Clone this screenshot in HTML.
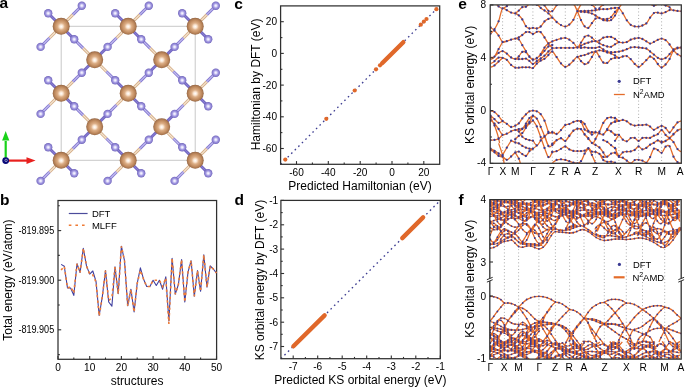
<!DOCTYPE html>
<html><head><meta charset="utf-8"><style>
html,body{margin:0;padding:0;background:#fff;}
body{width:685px;height:387px;overflow:hidden;font-family:"Liberation Sans",sans-serif;}
svg{display:block;will-change:transform;}
</style></head><body>
<svg width="685" height="387" viewBox="0 0 685 387" font-family="Liberation Sans, sans-serif">
<rect width="685" height="387" fill="#fff"/>
<defs>
<radialGradient id="gL" cx="0.5" cy="0.5" r="0.5" fx="0.5" fy="0.52">
<stop offset="0" stop-color="#ffffff"/><stop offset="0.2" stop-color="#fae6d3"/><stop offset="0.42" stop-color="#dcae86"/><stop offset="0.7" stop-color="#c59064"/><stop offset="0.9" stop-color="#ab7850"/><stop offset="1" stop-color="#8e6040"/>
</radialGradient>
<radialGradient id="gS" cx="0.5" cy="0.5" r="0.5" fx="0.5" fy="0.5">
<stop offset="0" stop-color="#ffffff"/><stop offset="0.28" stop-color="#dcd8f8"/><stop offset="0.55" stop-color="#a49be2"/><stop offset="0.85" stop-color="#8479cc"/><stop offset="1" stop-color="#6d62b8"/>
</radialGradient>
</defs>
<text x="-0.5" y="8.4" font-size="15.5" text-anchor="start" font-weight="bold" fill="#000">a</text>
<text x="0.1" y="205" font-size="15.5" text-anchor="start" font-weight="bold" fill="#000">b</text>
<text x="234.2" y="8.8" font-size="15.5" text-anchor="start" font-weight="bold" fill="#000">c</text>
<text x="234.6" y="205" font-size="15.5" text-anchor="start" font-weight="bold" fill="#000">d</text>
<text x="458.2" y="8.8" font-size="15.5" text-anchor="start" font-weight="bold" fill="#000">e</text>
<text x="458.4" y="205" font-size="15.5" text-anchor="start" font-weight="bold" fill="#000">f</text>
<rect x="61.2" y="26.3" width="134" height="134" fill="none" stroke="#c8c8c8" stroke-width="1"/>
<line x1="61.2" y1="26.3" x2="48.2" y2="13.3" stroke="#7367c2" stroke-width="3"/>
<line x1="61.2" y1="26.3" x2="48.2" y2="13.3" stroke="#8c82d6" stroke-width="1"/>
<line x1="61.2" y1="26.3" x2="72.9" y2="14.6" stroke="#d5ae88" stroke-width="3"/>
<line x1="61.2" y1="26.3" x2="72.9" y2="14.6" stroke="#f5e6d2" stroke-width="1.1"/>
<line x1="72.9" y1="14.6" x2="81.8" y2="5.7" stroke="#8579d0" stroke-width="3"/>
<line x1="72.9" y1="14.6" x2="81.8" y2="5.7" stroke="#c4bef0" stroke-width="1.1"/>
<line x1="61.2" y1="26.3" x2="49.5" y2="38" stroke="#d5ae88" stroke-width="3"/>
<line x1="61.2" y1="26.3" x2="49.5" y2="38" stroke="#f5e6d2" stroke-width="1.1"/>
<line x1="49.5" y1="38" x2="40.6" y2="46.9" stroke="#8579d0" stroke-width="3"/>
<line x1="49.5" y1="38" x2="40.6" y2="46.9" stroke="#c4bef0" stroke-width="1.1"/>
<line x1="61.2" y1="26.3" x2="74.2" y2="39.3" stroke="#7367c2" stroke-width="3"/>
<line x1="61.2" y1="26.3" x2="74.2" y2="39.3" stroke="#8c82d6" stroke-width="1"/>
<line x1="94.7" y1="59.8" x2="83" y2="48.1" stroke="#d5ae88" stroke-width="3"/>
<line x1="94.7" y1="59.8" x2="83" y2="48.1" stroke="#f5e6d2" stroke-width="1.1"/>
<line x1="83" y1="48.1" x2="74.2" y2="39.3" stroke="#8579d0" stroke-width="3"/>
<line x1="83" y1="48.1" x2="74.2" y2="39.3" stroke="#c4bef0" stroke-width="1.1"/>
<line x1="61.2" y1="93.3" x2="48.2" y2="80.3" stroke="#7367c2" stroke-width="3"/>
<line x1="61.2" y1="93.3" x2="48.2" y2="80.3" stroke="#8c82d6" stroke-width="1"/>
<line x1="61.2" y1="93.3" x2="72.9" y2="81.6" stroke="#d5ae88" stroke-width="3"/>
<line x1="61.2" y1="93.3" x2="72.9" y2="81.6" stroke="#f5e6d2" stroke-width="1.1"/>
<line x1="72.9" y1="81.6" x2="81.8" y2="72.7" stroke="#8579d0" stroke-width="3"/>
<line x1="72.9" y1="81.6" x2="81.8" y2="72.7" stroke="#c4bef0" stroke-width="1.1"/>
<line x1="94.7" y1="59.8" x2="81.8" y2="72.7" stroke="#7367c2" stroke-width="3"/>
<line x1="94.7" y1="59.8" x2="81.8" y2="72.7" stroke="#8c82d6" stroke-width="1"/>
<line x1="61.2" y1="93.3" x2="49.5" y2="105" stroke="#d5ae88" stroke-width="3"/>
<line x1="61.2" y1="93.3" x2="49.5" y2="105" stroke="#f5e6d2" stroke-width="1.1"/>
<line x1="49.5" y1="105" x2="40.6" y2="113.9" stroke="#8579d0" stroke-width="3"/>
<line x1="49.5" y1="105" x2="40.6" y2="113.9" stroke="#c4bef0" stroke-width="1.1"/>
<line x1="61.2" y1="93.3" x2="74.2" y2="106.3" stroke="#7367c2" stroke-width="3"/>
<line x1="61.2" y1="93.3" x2="74.2" y2="106.3" stroke="#8c82d6" stroke-width="1"/>
<line x1="94.7" y1="126.8" x2="83" y2="115.1" stroke="#d5ae88" stroke-width="3"/>
<line x1="94.7" y1="126.8" x2="83" y2="115.1" stroke="#f5e6d2" stroke-width="1.1"/>
<line x1="83" y1="115.1" x2="74.2" y2="106.3" stroke="#8579d0" stroke-width="3"/>
<line x1="83" y1="115.1" x2="74.2" y2="106.3" stroke="#c4bef0" stroke-width="1.1"/>
<line x1="61.2" y1="160.3" x2="48.2" y2="147.3" stroke="#7367c2" stroke-width="3"/>
<line x1="61.2" y1="160.3" x2="48.2" y2="147.3" stroke="#8c82d6" stroke-width="1"/>
<line x1="61.2" y1="160.3" x2="72.9" y2="148.6" stroke="#d5ae88" stroke-width="3"/>
<line x1="61.2" y1="160.3" x2="72.9" y2="148.6" stroke="#f5e6d2" stroke-width="1.1"/>
<line x1="72.9" y1="148.6" x2="81.8" y2="139.7" stroke="#8579d0" stroke-width="3"/>
<line x1="72.9" y1="148.6" x2="81.8" y2="139.7" stroke="#c4bef0" stroke-width="1.1"/>
<line x1="94.7" y1="126.8" x2="81.8" y2="139.7" stroke="#7367c2" stroke-width="3"/>
<line x1="94.7" y1="126.8" x2="81.8" y2="139.7" stroke="#8c82d6" stroke-width="1"/>
<line x1="61.2" y1="160.3" x2="49.5" y2="172" stroke="#d5ae88" stroke-width="3"/>
<line x1="61.2" y1="160.3" x2="49.5" y2="172" stroke="#f5e6d2" stroke-width="1.1"/>
<line x1="49.5" y1="172" x2="40.6" y2="180.9" stroke="#8579d0" stroke-width="3"/>
<line x1="49.5" y1="172" x2="40.6" y2="180.9" stroke="#c4bef0" stroke-width="1.1"/>
<line x1="61.2" y1="160.3" x2="74.2" y2="173.3" stroke="#7367c2" stroke-width="3"/>
<line x1="61.2" y1="160.3" x2="74.2" y2="173.3" stroke="#8c82d6" stroke-width="1"/>
<line x1="128.2" y1="26.3" x2="115.2" y2="13.3" stroke="#7367c2" stroke-width="3"/>
<line x1="128.2" y1="26.3" x2="115.2" y2="13.3" stroke="#8c82d6" stroke-width="1"/>
<line x1="128.2" y1="26.3" x2="139.9" y2="14.6" stroke="#d5ae88" stroke-width="3"/>
<line x1="128.2" y1="26.3" x2="139.9" y2="14.6" stroke="#f5e6d2" stroke-width="1.1"/>
<line x1="139.9" y1="14.6" x2="148.8" y2="5.7" stroke="#8579d0" stroke-width="3"/>
<line x1="139.9" y1="14.6" x2="148.8" y2="5.7" stroke="#c4bef0" stroke-width="1.1"/>
<line x1="128.2" y1="26.3" x2="116.5" y2="38" stroke="#d5ae88" stroke-width="3"/>
<line x1="128.2" y1="26.3" x2="116.5" y2="38" stroke="#f5e6d2" stroke-width="1.1"/>
<line x1="116.5" y1="38" x2="107.6" y2="46.9" stroke="#8579d0" stroke-width="3"/>
<line x1="116.5" y1="38" x2="107.6" y2="46.9" stroke="#c4bef0" stroke-width="1.1"/>
<line x1="94.7" y1="59.8" x2="107.6" y2="46.9" stroke="#7367c2" stroke-width="3"/>
<line x1="94.7" y1="59.8" x2="107.6" y2="46.9" stroke="#8c82d6" stroke-width="1"/>
<line x1="128.2" y1="26.3" x2="141.2" y2="39.3" stroke="#7367c2" stroke-width="3"/>
<line x1="128.2" y1="26.3" x2="141.2" y2="39.3" stroke="#8c82d6" stroke-width="1"/>
<line x1="161.7" y1="59.8" x2="150" y2="48.1" stroke="#d5ae88" stroke-width="3"/>
<line x1="161.7" y1="59.8" x2="150" y2="48.1" stroke="#f5e6d2" stroke-width="1.1"/>
<line x1="150" y1="48.1" x2="141.2" y2="39.3" stroke="#8579d0" stroke-width="3"/>
<line x1="150" y1="48.1" x2="141.2" y2="39.3" stroke="#c4bef0" stroke-width="1.1"/>
<line x1="128.2" y1="93.3" x2="115.2" y2="80.3" stroke="#7367c2" stroke-width="3"/>
<line x1="128.2" y1="93.3" x2="115.2" y2="80.3" stroke="#8c82d6" stroke-width="1"/>
<line x1="94.7" y1="59.8" x2="106.4" y2="71.5" stroke="#d5ae88" stroke-width="3"/>
<line x1="94.7" y1="59.8" x2="106.4" y2="71.5" stroke="#f5e6d2" stroke-width="1.1"/>
<line x1="106.4" y1="71.5" x2="115.2" y2="80.3" stroke="#8579d0" stroke-width="3"/>
<line x1="106.4" y1="71.5" x2="115.2" y2="80.3" stroke="#c4bef0" stroke-width="1.1"/>
<line x1="128.2" y1="93.3" x2="139.9" y2="81.6" stroke="#d5ae88" stroke-width="3"/>
<line x1="128.2" y1="93.3" x2="139.9" y2="81.6" stroke="#f5e6d2" stroke-width="1.1"/>
<line x1="139.9" y1="81.6" x2="148.8" y2="72.7" stroke="#8579d0" stroke-width="3"/>
<line x1="139.9" y1="81.6" x2="148.8" y2="72.7" stroke="#c4bef0" stroke-width="1.1"/>
<line x1="161.7" y1="59.8" x2="148.8" y2="72.7" stroke="#7367c2" stroke-width="3"/>
<line x1="161.7" y1="59.8" x2="148.8" y2="72.7" stroke="#8c82d6" stroke-width="1"/>
<line x1="128.2" y1="93.3" x2="116.5" y2="105" stroke="#d5ae88" stroke-width="3"/>
<line x1="128.2" y1="93.3" x2="116.5" y2="105" stroke="#f5e6d2" stroke-width="1.1"/>
<line x1="116.5" y1="105" x2="107.6" y2="113.9" stroke="#8579d0" stroke-width="3"/>
<line x1="116.5" y1="105" x2="107.6" y2="113.9" stroke="#c4bef0" stroke-width="1.1"/>
<line x1="94.7" y1="126.8" x2="107.6" y2="113.9" stroke="#7367c2" stroke-width="3"/>
<line x1="94.7" y1="126.8" x2="107.6" y2="113.9" stroke="#8c82d6" stroke-width="1"/>
<line x1="128.2" y1="93.3" x2="141.2" y2="106.3" stroke="#7367c2" stroke-width="3"/>
<line x1="128.2" y1="93.3" x2="141.2" y2="106.3" stroke="#8c82d6" stroke-width="1"/>
<line x1="161.7" y1="126.8" x2="150" y2="115.1" stroke="#d5ae88" stroke-width="3"/>
<line x1="161.7" y1="126.8" x2="150" y2="115.1" stroke="#f5e6d2" stroke-width="1.1"/>
<line x1="150" y1="115.1" x2="141.2" y2="106.3" stroke="#8579d0" stroke-width="3"/>
<line x1="150" y1="115.1" x2="141.2" y2="106.3" stroke="#c4bef0" stroke-width="1.1"/>
<line x1="128.2" y1="160.3" x2="115.2" y2="147.3" stroke="#7367c2" stroke-width="3"/>
<line x1="128.2" y1="160.3" x2="115.2" y2="147.3" stroke="#8c82d6" stroke-width="1"/>
<line x1="94.7" y1="126.8" x2="106.4" y2="138.5" stroke="#d5ae88" stroke-width="3"/>
<line x1="94.7" y1="126.8" x2="106.4" y2="138.5" stroke="#f5e6d2" stroke-width="1.1"/>
<line x1="106.4" y1="138.5" x2="115.2" y2="147.3" stroke="#8579d0" stroke-width="3"/>
<line x1="106.4" y1="138.5" x2="115.2" y2="147.3" stroke="#c4bef0" stroke-width="1.1"/>
<line x1="128.2" y1="160.3" x2="139.9" y2="148.6" stroke="#d5ae88" stroke-width="3"/>
<line x1="128.2" y1="160.3" x2="139.9" y2="148.6" stroke="#f5e6d2" stroke-width="1.1"/>
<line x1="139.9" y1="148.6" x2="148.8" y2="139.7" stroke="#8579d0" stroke-width="3"/>
<line x1="139.9" y1="148.6" x2="148.8" y2="139.7" stroke="#c4bef0" stroke-width="1.1"/>
<line x1="161.7" y1="126.8" x2="148.8" y2="139.7" stroke="#7367c2" stroke-width="3"/>
<line x1="161.7" y1="126.8" x2="148.8" y2="139.7" stroke="#8c82d6" stroke-width="1"/>
<line x1="128.2" y1="160.3" x2="116.5" y2="172" stroke="#d5ae88" stroke-width="3"/>
<line x1="128.2" y1="160.3" x2="116.5" y2="172" stroke="#f5e6d2" stroke-width="1.1"/>
<line x1="116.5" y1="172" x2="107.6" y2="180.9" stroke="#8579d0" stroke-width="3"/>
<line x1="116.5" y1="172" x2="107.6" y2="180.9" stroke="#c4bef0" stroke-width="1.1"/>
<line x1="128.2" y1="160.3" x2="141.2" y2="173.3" stroke="#7367c2" stroke-width="3"/>
<line x1="128.2" y1="160.3" x2="141.2" y2="173.3" stroke="#8c82d6" stroke-width="1"/>
<line x1="195.2" y1="26.3" x2="182.2" y2="13.3" stroke="#7367c2" stroke-width="3"/>
<line x1="195.2" y1="26.3" x2="182.2" y2="13.3" stroke="#8c82d6" stroke-width="1"/>
<line x1="195.2" y1="26.3" x2="206.9" y2="14.6" stroke="#d5ae88" stroke-width="3"/>
<line x1="195.2" y1="26.3" x2="206.9" y2="14.6" stroke="#f5e6d2" stroke-width="1.1"/>
<line x1="206.9" y1="14.6" x2="215.8" y2="5.7" stroke="#8579d0" stroke-width="3"/>
<line x1="206.9" y1="14.6" x2="215.8" y2="5.7" stroke="#c4bef0" stroke-width="1.1"/>
<line x1="195.2" y1="26.3" x2="183.5" y2="38" stroke="#d5ae88" stroke-width="3"/>
<line x1="195.2" y1="26.3" x2="183.5" y2="38" stroke="#f5e6d2" stroke-width="1.1"/>
<line x1="183.5" y1="38" x2="174.6" y2="46.9" stroke="#8579d0" stroke-width="3"/>
<line x1="183.5" y1="38" x2="174.6" y2="46.9" stroke="#c4bef0" stroke-width="1.1"/>
<line x1="161.7" y1="59.8" x2="174.6" y2="46.9" stroke="#7367c2" stroke-width="3"/>
<line x1="161.7" y1="59.8" x2="174.6" y2="46.9" stroke="#8c82d6" stroke-width="1"/>
<line x1="195.2" y1="26.3" x2="208.2" y2="39.3" stroke="#7367c2" stroke-width="3"/>
<line x1="195.2" y1="26.3" x2="208.2" y2="39.3" stroke="#8c82d6" stroke-width="1"/>
<line x1="195.2" y1="93.3" x2="182.2" y2="80.3" stroke="#7367c2" stroke-width="3"/>
<line x1="195.2" y1="93.3" x2="182.2" y2="80.3" stroke="#8c82d6" stroke-width="1"/>
<line x1="161.7" y1="59.8" x2="173.4" y2="71.5" stroke="#d5ae88" stroke-width="3"/>
<line x1="161.7" y1="59.8" x2="173.4" y2="71.5" stroke="#f5e6d2" stroke-width="1.1"/>
<line x1="173.4" y1="71.5" x2="182.2" y2="80.3" stroke="#8579d0" stroke-width="3"/>
<line x1="173.4" y1="71.5" x2="182.2" y2="80.3" stroke="#c4bef0" stroke-width="1.1"/>
<line x1="195.2" y1="93.3" x2="206.9" y2="81.6" stroke="#d5ae88" stroke-width="3"/>
<line x1="195.2" y1="93.3" x2="206.9" y2="81.6" stroke="#f5e6d2" stroke-width="1.1"/>
<line x1="206.9" y1="81.6" x2="215.8" y2="72.7" stroke="#8579d0" stroke-width="3"/>
<line x1="206.9" y1="81.6" x2="215.8" y2="72.7" stroke="#c4bef0" stroke-width="1.1"/>
<line x1="195.2" y1="93.3" x2="183.5" y2="105" stroke="#d5ae88" stroke-width="3"/>
<line x1="195.2" y1="93.3" x2="183.5" y2="105" stroke="#f5e6d2" stroke-width="1.1"/>
<line x1="183.5" y1="105" x2="174.6" y2="113.9" stroke="#8579d0" stroke-width="3"/>
<line x1="183.5" y1="105" x2="174.6" y2="113.9" stroke="#c4bef0" stroke-width="1.1"/>
<line x1="161.7" y1="126.8" x2="174.6" y2="113.9" stroke="#7367c2" stroke-width="3"/>
<line x1="161.7" y1="126.8" x2="174.6" y2="113.9" stroke="#8c82d6" stroke-width="1"/>
<line x1="195.2" y1="93.3" x2="208.2" y2="106.3" stroke="#7367c2" stroke-width="3"/>
<line x1="195.2" y1="93.3" x2="208.2" y2="106.3" stroke="#8c82d6" stroke-width="1"/>
<line x1="195.2" y1="160.3" x2="182.2" y2="147.3" stroke="#7367c2" stroke-width="3"/>
<line x1="195.2" y1="160.3" x2="182.2" y2="147.3" stroke="#8c82d6" stroke-width="1"/>
<line x1="161.7" y1="126.8" x2="173.4" y2="138.5" stroke="#d5ae88" stroke-width="3"/>
<line x1="161.7" y1="126.8" x2="173.4" y2="138.5" stroke="#f5e6d2" stroke-width="1.1"/>
<line x1="173.4" y1="138.5" x2="182.2" y2="147.3" stroke="#8579d0" stroke-width="3"/>
<line x1="173.4" y1="138.5" x2="182.2" y2="147.3" stroke="#c4bef0" stroke-width="1.1"/>
<line x1="195.2" y1="160.3" x2="206.9" y2="148.6" stroke="#d5ae88" stroke-width="3"/>
<line x1="195.2" y1="160.3" x2="206.9" y2="148.6" stroke="#f5e6d2" stroke-width="1.1"/>
<line x1="206.9" y1="148.6" x2="215.8" y2="139.7" stroke="#8579d0" stroke-width="3"/>
<line x1="206.9" y1="148.6" x2="215.8" y2="139.7" stroke="#c4bef0" stroke-width="1.1"/>
<line x1="195.2" y1="160.3" x2="183.5" y2="172" stroke="#d5ae88" stroke-width="3"/>
<line x1="195.2" y1="160.3" x2="183.5" y2="172" stroke="#f5e6d2" stroke-width="1.1"/>
<line x1="183.5" y1="172" x2="174.6" y2="180.9" stroke="#8579d0" stroke-width="3"/>
<line x1="183.5" y1="172" x2="174.6" y2="180.9" stroke="#c4bef0" stroke-width="1.1"/>
<line x1="195.2" y1="160.3" x2="208.2" y2="173.3" stroke="#7367c2" stroke-width="3"/>
<line x1="195.2" y1="160.3" x2="208.2" y2="173.3" stroke="#8c82d6" stroke-width="1"/>
<circle cx="61.2" cy="26.3" r="8.5" fill="url(#gL)"/>
<circle cx="61.2" cy="93.3" r="8.5" fill="url(#gL)"/>
<circle cx="61.2" cy="160.3" r="8.5" fill="url(#gL)"/>
<circle cx="94.7" cy="59.8" r="8.5" fill="url(#gL)"/>
<circle cx="94.7" cy="126.8" r="8.5" fill="url(#gL)"/>
<circle cx="128.2" cy="26.3" r="8.5" fill="url(#gL)"/>
<circle cx="128.2" cy="93.3" r="8.5" fill="url(#gL)"/>
<circle cx="128.2" cy="160.3" r="8.5" fill="url(#gL)"/>
<circle cx="161.7" cy="59.8" r="8.5" fill="url(#gL)"/>
<circle cx="161.7" cy="126.8" r="8.5" fill="url(#gL)"/>
<circle cx="195.2" cy="26.3" r="8.5" fill="url(#gL)"/>
<circle cx="195.2" cy="93.3" r="8.5" fill="url(#gL)"/>
<circle cx="195.2" cy="160.3" r="8.5" fill="url(#gL)"/>
<circle cx="48.2" cy="13.3" r="4.2" fill="url(#gS)"/>
<circle cx="81.8" cy="5.7" r="4.2" fill="url(#gS)"/>
<circle cx="40.6" cy="46.9" r="4.2" fill="url(#gS)"/>
<circle cx="74.2" cy="39.3" r="4.2" fill="url(#gS)"/>
<circle cx="48.2" cy="80.3" r="4.2" fill="url(#gS)"/>
<circle cx="81.8" cy="72.7" r="4.2" fill="url(#gS)"/>
<circle cx="40.6" cy="113.9" r="4.2" fill="url(#gS)"/>
<circle cx="74.2" cy="106.3" r="4.2" fill="url(#gS)"/>
<circle cx="48.2" cy="147.3" r="4.2" fill="url(#gS)"/>
<circle cx="81.8" cy="139.7" r="4.2" fill="url(#gS)"/>
<circle cx="40.6" cy="180.9" r="4.2" fill="url(#gS)"/>
<circle cx="74.2" cy="173.3" r="4.2" fill="url(#gS)"/>
<circle cx="115.2" cy="13.3" r="4.2" fill="url(#gS)"/>
<circle cx="148.8" cy="5.7" r="4.2" fill="url(#gS)"/>
<circle cx="107.6" cy="46.9" r="4.2" fill="url(#gS)"/>
<circle cx="141.2" cy="39.3" r="4.2" fill="url(#gS)"/>
<circle cx="115.2" cy="80.3" r="4.2" fill="url(#gS)"/>
<circle cx="148.8" cy="72.7" r="4.2" fill="url(#gS)"/>
<circle cx="107.6" cy="113.9" r="4.2" fill="url(#gS)"/>
<circle cx="141.2" cy="106.3" r="4.2" fill="url(#gS)"/>
<circle cx="115.2" cy="147.3" r="4.2" fill="url(#gS)"/>
<circle cx="148.8" cy="139.7" r="4.2" fill="url(#gS)"/>
<circle cx="107.6" cy="180.9" r="4.2" fill="url(#gS)"/>
<circle cx="141.2" cy="173.3" r="4.2" fill="url(#gS)"/>
<circle cx="182.2" cy="13.3" r="4.2" fill="url(#gS)"/>
<circle cx="215.8" cy="5.7" r="4.2" fill="url(#gS)"/>
<circle cx="174.6" cy="46.9" r="4.2" fill="url(#gS)"/>
<circle cx="208.2" cy="39.3" r="4.2" fill="url(#gS)"/>
<circle cx="182.2" cy="80.3" r="4.2" fill="url(#gS)"/>
<circle cx="215.8" cy="72.7" r="4.2" fill="url(#gS)"/>
<circle cx="174.6" cy="113.9" r="4.2" fill="url(#gS)"/>
<circle cx="208.2" cy="106.3" r="4.2" fill="url(#gS)"/>
<circle cx="182.2" cy="147.3" r="4.2" fill="url(#gS)"/>
<circle cx="215.8" cy="139.7" r="4.2" fill="url(#gS)"/>
<circle cx="174.6" cy="180.9" r="4.2" fill="url(#gS)"/>
<circle cx="208.2" cy="173.3" r="4.2" fill="url(#gS)"/>
<line x1="5.7" y1="160.6" x2="5.7" y2="141" stroke="#19d219" stroke-width="2.2"/>
<polygon points="5.7,131 2.1,140.5 9.3,140.5" fill="#19d219"/>
<line x1="5.7" y1="160.6" x2="27" y2="160.6" stroke="#e8201e" stroke-width="2.2"/>
<polygon points="35.6,160.6 26.5,157.2 26.5,164" fill="#e8201e"/>
<circle cx="5.7" cy="160.6" r="3.4" fill="#0a0a78"/>
<circle cx="6.1" cy="160.4" r="1.2" fill="none" stroke="#dcdcf0" stroke-width="0.6"/>
<rect x="58" y="200.5" width="158.6" height="158.8" fill="none" stroke="#303030" stroke-width="1.25"/>
<line x1="58" y1="359.3" x2="58" y2="356.1" stroke="#303030" stroke-width="1.1"/>
<text x="58" y="370.5" font-size="10.1" text-anchor="middle" font-weight="normal" fill="#000">0</text>
<line x1="89.7" y1="359.3" x2="89.7" y2="356.1" stroke="#303030" stroke-width="1.1"/>
<text x="89.7" y="370.5" font-size="10.1" text-anchor="middle" font-weight="normal" fill="#000">10</text>
<line x1="121.4" y1="359.3" x2="121.4" y2="356.1" stroke="#303030" stroke-width="1.1"/>
<text x="121.4" y="370.5" font-size="10.1" text-anchor="middle" font-weight="normal" fill="#000">20</text>
<line x1="153.1" y1="359.3" x2="153.1" y2="356.1" stroke="#303030" stroke-width="1.1"/>
<text x="153.1" y="370.5" font-size="10.1" text-anchor="middle" font-weight="normal" fill="#000">30</text>
<line x1="184.8" y1="359.3" x2="184.8" y2="356.1" stroke="#303030" stroke-width="1.1"/>
<text x="184.8" y="370.5" font-size="10.1" text-anchor="middle" font-weight="normal" fill="#000">40</text>
<line x1="216.5" y1="359.3" x2="216.5" y2="356.1" stroke="#303030" stroke-width="1.1"/>
<text x="216.5" y="370.5" font-size="10.1" text-anchor="middle" font-weight="normal" fill="#000">50</text>
<line x1="73.8" y1="359.3" x2="73.8" y2="357.5" stroke="#303030" stroke-width="1.1"/>
<line x1="105.5" y1="359.3" x2="105.5" y2="357.5" stroke="#303030" stroke-width="1.1"/>
<line x1="137.2" y1="359.3" x2="137.2" y2="357.5" stroke="#303030" stroke-width="1.1"/>
<line x1="168.9" y1="359.3" x2="168.9" y2="357.5" stroke="#303030" stroke-width="1.1"/>
<line x1="200.6" y1="359.3" x2="200.6" y2="357.5" stroke="#303030" stroke-width="1.1"/>
<line x1="58" y1="230.6" x2="61.2" y2="230.6" stroke="#303030" stroke-width="1.1"/>
<text x="54.2" y="234.1" font-size="10.1" text-anchor="end" font-weight="normal" fill="#000" textLength="35.8" lengthAdjust="spacingAndGlyphs">-819.895</text>
<line x1="58" y1="280.2" x2="61.2" y2="280.2" stroke="#303030" stroke-width="1.1"/>
<text x="54.2" y="283.7" font-size="10.1" text-anchor="end" font-weight="normal" fill="#000" textLength="35.8" lengthAdjust="spacingAndGlyphs">-819.900</text>
<line x1="58" y1="329.8" x2="61.2" y2="329.8" stroke="#303030" stroke-width="1.1"/>
<text x="54.2" y="333.3" font-size="10.1" text-anchor="end" font-weight="normal" fill="#000" textLength="35.8" lengthAdjust="spacingAndGlyphs">-819.905</text>
<line x1="58" y1="205.8" x2="59.8" y2="205.8" stroke="#303030" stroke-width="1.1"/>
<line x1="58" y1="255.4" x2="59.8" y2="255.4" stroke="#303030" stroke-width="1.1"/>
<line x1="58" y1="305" x2="59.8" y2="305" stroke="#303030" stroke-width="1.1"/>
<line x1="58" y1="354.6" x2="59.8" y2="354.6" stroke="#303030" stroke-width="1.1"/>
<text x="137.1" y="384.6" font-size="12" text-anchor="middle" font-weight="normal" fill="#000">structures</text>
<text x="12.5" y="280.1" font-size="12" text-anchor="middle" font-weight="normal" fill="#000" transform="rotate(-90 12.5 280.1)">Total energy (eV/atom)</text>
<polyline points="61.1,264.4 64.3,266.3 67.5,288 70.6,288 73.8,295.4 77,263.8 80.1,272.5 83.3,248.3 86.5,265.9 89.7,274.1 92.8,271 96,281.4 99.2,315.5 102.3,296.9 105.5,270.6 108.7,302 111.9,306.2 115,266.9 118.2,293.8 121.4,246.2 124.5,260.7 127.7,305.8 130.9,289.2 134.1,312 137.2,283.4 140.4,267.9 143.6,279.3 146.7,286.5 149.9,286.5 153.1,280.3 156.3,285.5 159.4,280.3 162.6,289.2 165.8,276.8 168.9,321 172.1,258.2 175.3,294.2 178.4,284.5 181.6,259.6 184.8,302 188,272.1 191.1,260.7 194.3,296.3 197.5,270.6 200.6,291.3 203.8,254.9 207,287.2 210.2,265.9 213.3,269 216.5,273.1" fill="none" stroke="#3f3f9f" stroke-width="1.1" stroke-linejoin="round"/>
<polyline points="61.1,270 64.3,266.3 67.5,288 70.6,286.6 73.8,293 77,263.8 80.1,272.5 83.3,248.3 86.5,265.9 89.7,274.1 92.8,275 96,282 99.2,316 102.3,296.9 105.5,270.6 108.7,300.5 111.9,297.8 115,266.9 118.2,293.8 121.4,246.2 124.5,260.7 127.7,305.8 130.9,289.2 134.1,312 137.2,283.4 140.4,270.4 143.6,279.3 146.7,286.5 149.9,286.5 153.1,280.3 156.3,280.3 159.4,280.3 162.6,286.5 165.8,278 168.9,324 172.1,258.2 175.3,294.2 178.4,284.5 181.6,259.6 184.8,302 188,272.1 191.1,260.7 194.3,296.3 197.5,270.6 200.6,291.3 203.8,254.9 207,287.2 210.2,265.9 213.3,269 216.5,273.1" fill="none" stroke="#ef7b35" stroke-width="1.6" stroke-dasharray="2.4 3"/>
<line x1="68.8" y1="213.5" x2="87.6" y2="213.5" stroke="#4b4b9b" stroke-width="1.2"/>
<text x="91.9" y="216.9" font-size="9.5" text-anchor="start" font-weight="normal" fill="#000">DFT</text>
<line x1="68.8" y1="225.3" x2="87.6" y2="225.3" stroke="#ef7b35" stroke-width="1.6" stroke-dasharray="2.6 4"/>
<text x="91.9" y="228.6" font-size="9.5" text-anchor="start" font-weight="normal" fill="#000">MLFF</text>
<line x1="280.6" y1="164.3" x2="439.7" y2="5.9" stroke="#3e3e92" stroke-width="1.35" stroke-dasharray="1.6 3.4"/>
<circle cx="285.3" cy="159.6" r="2.1" fill="#e0682a"/>
<circle cx="326.3" cy="118.8" r="2.1" fill="#e0682a"/>
<circle cx="354.7" cy="90.5" r="2.1" fill="#e0682a"/>
<circle cx="376" cy="69.3" r="2.1" fill="#e0682a"/>
<circle cx="380" cy="65.3" r="2.1" fill="#e0682a"/>
<line x1="382.1" y1="63.2" x2="403.3" y2="42.2" stroke="#e0682a" stroke-width="4.4" stroke-linecap="round"/>
<circle cx="420.8" cy="24.7" r="2.1" fill="#e0682a"/>
<circle cx="423.9" cy="21.6" r="2.1" fill="#e0682a"/>
<circle cx="426.5" cy="19" r="2.1" fill="#e0682a"/>
<circle cx="436.4" cy="9.2" r="2.1" fill="#e0682a"/>
<rect x="280.6" y="5.9" width="159.1" height="158.4" fill="none" stroke="#303030" stroke-width="1.25"/>
<line x1="296.5" y1="164.3" x2="296.5" y2="161.1" stroke="#303030" stroke-width="1.1"/>
<text x="296.5" y="175.8" font-size="10.1" text-anchor="middle" font-weight="normal" fill="#000">-60</text>
<line x1="280.6" y1="148.5" x2="283.8" y2="148.5" stroke="#303030" stroke-width="1.1"/>
<text x="277" y="152" font-size="10.1" text-anchor="end" font-weight="normal" fill="#000">-60</text>
<line x1="328.3" y1="164.3" x2="328.3" y2="161.1" stroke="#303030" stroke-width="1.1"/>
<text x="328.3" y="175.8" font-size="10.1" text-anchor="middle" font-weight="normal" fill="#000">-40</text>
<line x1="280.6" y1="116.8" x2="283.8" y2="116.8" stroke="#303030" stroke-width="1.1"/>
<text x="277" y="120.3" font-size="10.1" text-anchor="end" font-weight="normal" fill="#000">-40</text>
<line x1="360.2" y1="164.3" x2="360.2" y2="161.1" stroke="#303030" stroke-width="1.1"/>
<text x="360.2" y="175.8" font-size="10.1" text-anchor="middle" font-weight="normal" fill="#000">-20</text>
<line x1="280.6" y1="85.1" x2="283.8" y2="85.1" stroke="#303030" stroke-width="1.1"/>
<text x="277" y="88.6" font-size="10.1" text-anchor="end" font-weight="normal" fill="#000">-20</text>
<line x1="392" y1="164.3" x2="392" y2="161.1" stroke="#303030" stroke-width="1.1"/>
<text x="392" y="175.8" font-size="10.1" text-anchor="middle" font-weight="normal" fill="#000">0</text>
<line x1="280.6" y1="53.4" x2="283.8" y2="53.4" stroke="#303030" stroke-width="1.1"/>
<text x="277" y="56.9" font-size="10.1" text-anchor="end" font-weight="normal" fill="#000">0</text>
<line x1="423.8" y1="164.3" x2="423.8" y2="161.1" stroke="#303030" stroke-width="1.1"/>
<text x="423.8" y="175.8" font-size="10.1" text-anchor="middle" font-weight="normal" fill="#000">20</text>
<line x1="280.6" y1="21.7" x2="283.8" y2="21.7" stroke="#303030" stroke-width="1.1"/>
<text x="277" y="25.2" font-size="10.1" text-anchor="end" font-weight="normal" fill="#000">20</text>
<line x1="312.4" y1="164.3" x2="312.4" y2="162.5" stroke="#303030" stroke-width="1.1"/>
<line x1="280.6" y1="132.6" x2="282.4" y2="132.6" stroke="#303030" stroke-width="1.1"/>
<line x1="344.2" y1="164.3" x2="344.2" y2="162.5" stroke="#303030" stroke-width="1.1"/>
<line x1="280.6" y1="100.9" x2="282.4" y2="100.9" stroke="#303030" stroke-width="1.1"/>
<line x1="376.1" y1="164.3" x2="376.1" y2="162.5" stroke="#303030" stroke-width="1.1"/>
<line x1="280.6" y1="69.3" x2="282.4" y2="69.3" stroke="#303030" stroke-width="1.1"/>
<line x1="407.9" y1="164.3" x2="407.9" y2="162.5" stroke="#303030" stroke-width="1.1"/>
<line x1="280.6" y1="37.6" x2="282.4" y2="37.6" stroke="#303030" stroke-width="1.1"/>
<text x="288.3" y="189.8" font-size="12" text-anchor="start" font-weight="normal" fill="#000">Predicted Hamiltonian (eV)</text>
<text x="259.6" y="84.4" font-size="12" text-anchor="middle" font-weight="normal" fill="#000" transform="rotate(-90 259.6 84.4)">Hamiltonian by DFT (eV)</text>
<line x1="280.9" y1="358.7" x2="440.3" y2="200.4" stroke="#3e3e92" stroke-width="1.35" stroke-dasharray="1.6 3.4"/>
<line x1="293.4" y1="346.3" x2="324.6" y2="315.4" stroke="#e0682a" stroke-width="4.4" stroke-linecap="round"/>
<line x1="402.3" y1="238.1" x2="423.1" y2="217.4" stroke="#e0682a" stroke-width="4.4" stroke-linecap="round"/>
<rect x="280.9" y="200.4" width="159.4" height="158.3" fill="none" stroke="#303030" stroke-width="1.25"/>
<line x1="293.2" y1="358.7" x2="293.2" y2="355.5" stroke="#303030" stroke-width="1.1"/>
<text x="293.2" y="370.4" font-size="10.1" text-anchor="middle" font-weight="normal" fill="#000">-7</text>
<line x1="280.9" y1="346.5" x2="284.1" y2="346.5" stroke="#303030" stroke-width="1.1"/>
<text x="278.2" y="350" font-size="10.1" text-anchor="end" font-weight="normal" fill="#000">-7</text>
<line x1="317.7" y1="358.7" x2="317.7" y2="355.5" stroke="#303030" stroke-width="1.1"/>
<text x="317.7" y="370.4" font-size="10.1" text-anchor="middle" font-weight="normal" fill="#000">-6</text>
<line x1="280.9" y1="322.2" x2="284.1" y2="322.2" stroke="#303030" stroke-width="1.1"/>
<text x="278.2" y="325.7" font-size="10.1" text-anchor="end" font-weight="normal" fill="#000">-6</text>
<line x1="342.2" y1="358.7" x2="342.2" y2="355.5" stroke="#303030" stroke-width="1.1"/>
<text x="342.2" y="370.4" font-size="10.1" text-anchor="middle" font-weight="normal" fill="#000">-5</text>
<line x1="280.9" y1="297.8" x2="284.1" y2="297.8" stroke="#303030" stroke-width="1.1"/>
<text x="278.2" y="301.3" font-size="10.1" text-anchor="end" font-weight="normal" fill="#000">-5</text>
<line x1="366.7" y1="358.7" x2="366.7" y2="355.5" stroke="#303030" stroke-width="1.1"/>
<text x="366.7" y="370.4" font-size="10.1" text-anchor="middle" font-weight="normal" fill="#000">-4</text>
<line x1="280.9" y1="273.5" x2="284.1" y2="273.5" stroke="#303030" stroke-width="1.1"/>
<text x="278.2" y="277" font-size="10.1" text-anchor="end" font-weight="normal" fill="#000">-4</text>
<line x1="391.3" y1="358.7" x2="391.3" y2="355.5" stroke="#303030" stroke-width="1.1"/>
<text x="391.3" y="370.4" font-size="10.1" text-anchor="middle" font-weight="normal" fill="#000">-3</text>
<line x1="280.9" y1="249.1" x2="284.1" y2="249.1" stroke="#303030" stroke-width="1.1"/>
<text x="278.2" y="252.6" font-size="10.1" text-anchor="end" font-weight="normal" fill="#000">-3</text>
<line x1="415.8" y1="358.7" x2="415.8" y2="355.5" stroke="#303030" stroke-width="1.1"/>
<text x="415.8" y="370.4" font-size="10.1" text-anchor="middle" font-weight="normal" fill="#000">-2</text>
<line x1="280.9" y1="224.8" x2="284.1" y2="224.8" stroke="#303030" stroke-width="1.1"/>
<text x="278.2" y="228.3" font-size="10.1" text-anchor="end" font-weight="normal" fill="#000">-2</text>
<line x1="440.3" y1="358.7" x2="440.3" y2="355.5" stroke="#303030" stroke-width="1.1"/>
<text x="440.3" y="370.4" font-size="10.1" text-anchor="middle" font-weight="normal" fill="#000">-1</text>
<line x1="280.9" y1="200.4" x2="284.1" y2="200.4" stroke="#303030" stroke-width="1.1"/>
<text x="278.2" y="203.9" font-size="10.1" text-anchor="end" font-weight="normal" fill="#000">-1</text>
<line x1="305.4" y1="358.7" x2="305.4" y2="356.9" stroke="#303030" stroke-width="1.1"/>
<line x1="280.9" y1="334.3" x2="282.7" y2="334.3" stroke="#303030" stroke-width="1.1"/>
<line x1="329.9" y1="358.7" x2="329.9" y2="356.9" stroke="#303030" stroke-width="1.1"/>
<line x1="280.9" y1="310" x2="282.7" y2="310" stroke="#303030" stroke-width="1.1"/>
<line x1="354.5" y1="358.7" x2="354.5" y2="356.9" stroke="#303030" stroke-width="1.1"/>
<line x1="280.9" y1="285.6" x2="282.7" y2="285.6" stroke="#303030" stroke-width="1.1"/>
<line x1="379" y1="358.7" x2="379" y2="356.9" stroke="#303030" stroke-width="1.1"/>
<line x1="280.9" y1="261.3" x2="282.7" y2="261.3" stroke="#303030" stroke-width="1.1"/>
<line x1="403.5" y1="358.7" x2="403.5" y2="356.9" stroke="#303030" stroke-width="1.1"/>
<line x1="280.9" y1="236.9" x2="282.7" y2="236.9" stroke="#303030" stroke-width="1.1"/>
<line x1="428" y1="358.7" x2="428" y2="356.9" stroke="#303030" stroke-width="1.1"/>
<line x1="280.9" y1="212.6" x2="282.7" y2="212.6" stroke="#303030" stroke-width="1.1"/>
<text x="274.3" y="383.8" font-size="12" text-anchor="start" font-weight="normal" fill="#000">Predicted KS orbital energy (eV)</text>
<text x="264.3" y="280" font-size="12" text-anchor="middle" font-weight="normal" fill="#000" transform="rotate(-90 264.3 280)">KS orbital energy by DFT (eV)</text>
<defs><clipPath id="clipE"><rect x="490.2" y="4.9" width="191.09999999999997" height="158.4"/></clipPath><clipPath id="clipF1"><rect x="490.3" y="200.3" width="191" height="78"/></clipPath><clipPath id="clipF2"><rect x="490.3" y="281" width="191" height="78"/></clipPath></defs>
<line x1="502.6" y1="4.9" x2="502.6" y2="163.3" stroke="#8c8c8c" stroke-width="0.8" stroke-dasharray="0.9 2.4"/>
<line x1="515.3" y1="4.9" x2="515.3" y2="163.3" stroke="#8c8c8c" stroke-width="0.8" stroke-dasharray="0.9 2.4"/>
<line x1="532.9" y1="4.9" x2="532.9" y2="163.3" stroke="#8c8c8c" stroke-width="0.8" stroke-dasharray="0.9 2.4"/>
<line x1="552.3" y1="4.9" x2="552.3" y2="163.3" stroke="#8c8c8c" stroke-width="0.8" stroke-dasharray="0.9 2.4"/>
<line x1="565.3" y1="4.9" x2="565.3" y2="163.3" stroke="#8c8c8c" stroke-width="0.8" stroke-dasharray="0.9 2.4"/>
<line x1="577.4" y1="4.9" x2="577.4" y2="163.3" stroke="#8c8c8c" stroke-width="0.8" stroke-dasharray="0.9 2.4"/>
<line x1="595.5" y1="4.9" x2="595.5" y2="163.3" stroke="#8c8c8c" stroke-width="0.8" stroke-dasharray="0.9 2.4"/>
<line x1="618.9" y1="4.9" x2="618.9" y2="163.3" stroke="#8c8c8c" stroke-width="0.8" stroke-dasharray="0.9 2.4"/>
<line x1="638.6" y1="4.9" x2="638.6" y2="163.3" stroke="#8c8c8c" stroke-width="0.8" stroke-dasharray="0.9 2.4"/>
<line x1="661.6" y1="4.9" x2="661.6" y2="163.3" stroke="#8c8c8c" stroke-width="0.8" stroke-dasharray="0.9 2.4"/>
<g clip-path="url(#clipE)">
<path d="M490.3,34C490.9,33.3 492.7,32 494,30C495.3,28 497.2,24.5 498.3,22C499.4,19.5 499.7,17.2 500.4,14.9C501.1,12.6 501.6,9.2 502.6,8.4C503.6,7.6 504.8,9.2 506.2,9.9C507.6,10.6 509.7,12.1 511.2,12.7C512.7,13.3 513.9,12.9 515.2,13.4C516.5,13.9 517.8,14.5 519,15.6C520.2,16.7 521.5,18.1 522.6,19.9C523.8,21.7 524.8,24.9 525.9,26.3C527,27.7 528.3,28.2 529.5,28.5C530.7,28.8 531.7,27.8 532.9,27.8C534.1,27.8 535.5,28.8 536.9,28.5C538.2,28.2 539.6,27.5 541,26.2C542.4,24.9 543.7,22.1 545,20.9C546.3,19.6 547.6,19.2 548.9,18.7C550.1,18.2 551.2,17.3 552.5,17.8C553.8,18.3 555,20.6 556.4,21.8C557.8,23 559.2,24.2 560.7,25C562.2,25.8 563.7,26.6 565.1,26.6C566.5,26.6 567.7,26 569.1,24.8C570.5,23.6 572.1,21.9 573.5,19.6C574.9,17.3 576.1,12.6 577.4,11.2C578.7,9.8 580.1,11.2 581.4,11.2C582.6,11.2 583.7,11.1 584.9,11C586.1,10.9 587.2,11 588.4,10.9C589.6,10.8 591,10.7 592.2,10.6C593.4,10.5 594.5,10.5 595.7,10.3C596.9,10.1 598,9.6 599.3,9.4C600.6,9.2 602.3,9.2 603.6,9.2C604.9,9.2 606,9.3 607.2,9.2C608.4,9.1 609.5,8.6 610.8,8.4C612.1,8.2 613.6,8.1 615,8C616.4,7.9 617.6,7.1 618.9,8C620.2,8.9 621.6,11.4 622.9,13.4C624.2,15.4 625.2,18 626.5,19.9C627.8,21.8 629.5,23.8 630.8,24.9C632.1,26 633.1,26 634.4,26.3C635.7,26.6 637.3,26.7 638.6,26.6C639.9,26.5 640.9,26.2 642.2,25.6C643.5,25 645.2,24.5 646.5,23.2C647.8,21.9 648.8,19.4 650.1,17.7C651.4,15.9 653.1,13.5 654.4,12.7C655.7,11.9 656.8,12.6 658,12.7C659.2,12.8 660.2,13.5 661.5,13.4C662.8,13.3 664.4,12.6 665.8,12C667.2,11.4 668.8,10.2 670.1,9.9C671.4,9.6 672.5,10.1 673.7,10.3C674.9,10.5 676,10.7 677.3,10.9C678.6,11.1 680.8,11.2 681.5,11.3 M490.3,27.3C490.9,27.8 492.7,28.7 494,30C495.3,31.3 496.9,33.2 498.3,35.2C499.7,37.2 501.2,41 502.6,42C504,43 505.5,41.6 506.9,41.2C508.3,40.8 509.8,40.1 511.2,39.7C512.6,39.3 513.9,39 515.2,38.6C516.5,38.2 517.8,37.8 519,37.2C520.2,36.6 521.5,35.6 522.6,34.8C523.8,33.9 524.8,32.5 525.9,32.1C527,31.7 528.3,31.8 529.5,32.1C530.7,32.4 531.7,34 532.9,34C534.1,34 535.6,32.1 536.9,31.8C538.2,31.5 539.2,31.1 540.5,32.1C541.8,33.1 543.5,36 544.8,37.9C546.1,39.8 547.1,41.9 548.4,43.5C549.6,45.1 551,47.1 552.3,47.8C553.6,48.5 554.8,47.9 556.2,47.9C557.6,47.9 559,47.9 560.5,47.9C562,47.9 563.8,47.9 565.3,47.9C566.8,47.9 568.4,47.9 569.8,47.9C571.2,47.9 572.2,48 573.5,47.9C574.8,47.8 576,47.5 577.3,47.5C578.6,47.5 580,47.9 581.3,47.9C582.6,47.9 583.8,47.4 585,47.4C586.2,47.4 587.4,47.8 588.6,47.9C589.8,48 591,47.9 592.2,47.9C593.4,47.9 594.5,48.1 595.7,47.9C596.9,47.7 598.1,46.7 599.3,46.9C600.5,47.1 601.6,48.5 602.9,49.3C604.2,50.1 605.9,51 607.2,51.5C608.5,52 609.5,52.1 610.8,52.2C612.1,52.3 613.6,52.3 615,52.2C616.4,52.1 617.6,52 618.9,51.7C620.2,51.5 621.6,51.1 622.9,50.7C624.2,50.3 625.2,49.8 626.5,49.3C627.8,48.8 629.5,47.9 630.8,47.5C632.1,47.1 633.1,47.2 634.4,47.2C635.7,47.2 637.3,47.4 638.6,47.5C639.9,47.6 640.9,47.7 642.2,47.9C643.5,48.1 645.2,48 646.5,48.6C647.8,49.2 648.8,50.4 650.1,51.5C651.4,52.6 653.1,53.9 654.4,55C655.7,56.1 656.8,57.2 658,57.9C659.2,58.6 660.2,59.3 661.5,59.3C662.8,59.3 664.5,58.7 665.8,57.9C667.1,57.1 668.2,55.6 669.4,54.3C670.6,53 671.8,51.1 673,50C674.2,48.9 675.2,48.4 676.6,47.9C678,47.4 680.7,47.3 681.5,47.2 M515.2,13.4C515.8,12.9 517.5,11.7 518.7,10.7C519.9,9.7 521.1,7.8 522.3,7.2C523.5,6.6 524.9,7.2 525.9,6.8C526.9,6.4 528.1,5 528.5,4.6 M497,4.6C497.2,4.9 497.5,5.7 498.4,6.3C499.3,6.9 501,8.4 502.4,8.4C503.8,8.4 505.8,6.9 506.7,6.3C507.6,5.7 507.8,4.9 508,4.6 M544,4.6C544.8,5.7 547.4,10.2 548.9,11.2C550.4,12.2 551.5,11.8 552.7,10.8C554,9.9 555.6,6.5 556.4,5.5C557.2,4.5 557.3,4.8 557.5,4.6 M536.5,4.6C536.8,4.8 537.5,4.9 538.3,5.5C539,6.1 539.9,7.3 541,8.2C542.1,9.1 543.7,9.9 545,10.8C546.3,11.7 547.6,12.6 548.9,13.8C550.1,15 551.9,17.1 552.5,17.8 M577.4,11.2C578.1,12.8 580.1,18.3 581.4,20.9C582.6,23.5 583.7,25.5 584.9,26.6C586.1,27.8 587.4,28.5 588.6,27.8C589.8,27.1 591,24.2 592.2,22.7C593.4,21.1 594.5,19.3 595.7,18.5C596.9,17.7 598,17.7 599.3,18C600.6,18.3 602.3,19.9 603.6,20.3C604.9,20.7 606,20.6 607.2,20.6C608.4,20.6 609.5,21.1 610.8,20.3C612.1,19.5 613.6,17.6 615,15.6C616.4,13.5 618.2,9.3 618.9,8 M577.4,11.2C578.1,11.3 580.1,11.7 581.4,11.8C582.7,11.9 583.9,11.9 585,12C586.1,12.1 586.7,12 587.9,12.3C589.1,12.6 590.9,13.1 592.2,13.7C593.5,14.2 594.5,14.9 595.7,15.6C596.9,16.3 598,17.4 599.3,18C600.6,18.6 602.3,19.1 603.6,19.2C604.9,19.3 606,19.2 607.2,18.9C608.4,18.6 609.5,18.6 610.8,17.5C612.1,16.4 613.6,13.6 615,12C616.4,10.4 618.2,8.7 618.9,8 M573.5,4.6C573.7,4.8 574.1,4.5 574.8,5.6C575.4,6.7 577,10.3 577.4,11.2 M577.4,11.2C577.9,10.3 579.6,6.7 580.2,5.6C580.8,4.5 580.9,4.8 581,4.6 M618.9,8C619.2,7.5 620.3,5.9 620.7,5.3C621.1,4.7 621.4,4.7 621.5,4.6 M663,4.6C663.3,4.7 664,5 665,5.3C666,5.6 667.6,5.8 668.7,6.5C669.8,7.2 671,9.1 671.5,9.6 M591.5,4.6C591.9,4.9 593,5.7 594,6.6C595,7.5 596.3,10.2 597.4,10.2C598.5,10.2 599.8,7.5 600.8,6.6C601.8,5.7 602.9,4.9 603.3,4.6 M650.5,3.8C650.8,4 651.6,4.9 652.2,5.2C652.8,5.5 653.4,5.8 654,5.8C654.6,5.8 655.2,5.5 655.8,5.2C656.4,4.9 657.2,4 657.5,3.8 M502.6,42C503.3,41.9 505.5,41.6 506.9,41.2C508.3,40.8 509.8,40.1 511.2,39.7C512.6,39.3 513.9,38.6 515.2,38.6C516.5,38.6 517.8,38.4 519,39.6C520.2,40.8 521.5,43.8 522.6,45.7C523.8,47.6 524.8,49.4 525.9,51.2C527,53 528.3,55.2 529.5,56.6C530.7,58 531.7,59 532.9,59.3C534.1,59.6 535.6,59.1 536.9,58.3C538.2,57.5 539.2,56.1 540.5,54.3C541.8,52.4 543.5,49 544.8,47.2C546.1,45.4 547.1,44.6 548.4,43.6C549.6,42.6 551,42 552.3,41.4C553.6,40.8 554.8,40.5 556.2,40C557.6,39.5 559,39 560.5,38.6C562,38.2 563.8,37.7 565.3,37.9C566.8,38.1 568.3,39 569.8,40C571.3,41 572.8,42.4 574.1,43.6C575.4,44.9 576.2,47.7 577.4,47.5C578.6,47.3 580,44.1 581.3,42.2C582.6,40.4 583.8,37.5 585,36.4C586.2,35.3 587.4,35.5 588.6,35.7C589.8,36 591,37 592.2,37.9C593.4,38.8 594.5,40.7 595.7,41.2C596.9,41.7 598.1,41.2 599.3,40.7C600.5,40.2 601.6,38.5 602.9,37.9C604.2,37.3 605.9,37.1 607.2,36.9C608.5,36.7 609.5,36.6 610.8,36.9C612.1,37.2 613.6,38 615,38.9C616.4,39.8 617.6,41.6 618.9,42.2C620.2,42.8 621.6,42.6 622.9,42.6C624.2,42.6 625.2,42.7 626.5,42.2C627.8,41.7 629.5,40.3 630.8,39.7C632.1,39.1 633.1,38.9 634.4,38.6C635.7,38.3 637.3,37.9 638.6,37.9C639.9,37.9 640.9,38.3 642.2,38.9C643.5,39.5 645.2,40.6 646.5,41.4C647.8,42.2 648.8,43.5 650.1,43.6C651.4,43.7 653.1,42.4 654.4,41.7C655.7,41.1 656.8,40.2 658,39.7C659.2,39.2 660.2,38.5 661.5,38.6C662.8,38.7 664.5,39.3 665.8,40.3C667.1,41.2 668.2,42.8 669.4,44.3C670.6,45.8 671.8,47.8 673,49.3C674.2,50.8 675.2,52.4 676.6,53.6C678,54.8 680.7,56 681.5,56.5 M595.7,41.2C596.3,41.5 598.1,42.6 599.3,43.2C600.5,43.8 601.6,44.5 602.9,45C604.2,45.5 605.9,46.2 607.2,46.5C608.5,46.8 609.5,47.3 610.8,46.9C612.1,46.5 613.6,45.1 615,44.3C616.4,43.5 618.2,42.6 618.9,42.2 M577.4,47.5C578,47.2 580,46.2 581.3,45.6C582.6,45 583.8,44.1 585,43.6C586.2,43.1 587.4,43 588.6,42.6C589.8,42.2 591,41.6 592.2,41.4C593.4,41.2 595.1,41.2 595.7,41.2 M490.7,59.4C491.2,59.1 492.8,59 494,57.4C495.2,55.8 496.7,52.5 498.1,49.9C499.5,47.3 501.9,43.3 502.6,42 M490.7,57.4C491.2,57.3 492.8,57.7 494,57C495.2,56.3 496.7,54.2 498.1,53.2C499.5,52.2 501.1,51.1 502.5,51.2C503.9,51.3 505.4,52.6 506.8,53.6C508.2,54.6 509.5,56.5 510.9,57.4C512.3,58.3 514.1,59.1 515.4,59C516.7,58.9 517.7,57.7 518.8,56.5C519.9,55.3 520.9,52.7 522.1,52C523.3,51.3 524.6,51.4 525.8,52.2C527,53 528.3,55.7 529.5,57C530.7,58.3 531.7,59.7 532.9,59.8C534.1,59.9 535.6,58.6 536.9,57.8C538.2,57 539.2,56.4 540.5,55.2C541.8,54 543.5,52 544.8,50.5C546.1,49 547.1,47.4 548.4,46.5C549.6,45.6 551.6,45.2 552.3,45 M490.7,63.6C491.2,63.3 492.8,62.7 494,61.7C495.2,60.7 496.7,58.4 498.1,57.8C499.5,57.1 501.1,57.5 502.5,57.8C503.9,58.1 505.4,58.6 506.8,59.8C508.2,61 509.5,63.5 510.9,64.8C512.3,66.1 514.1,67.2 515.4,67.7C516.7,68.2 517.7,67.8 518.8,67.7C519.9,67.6 520.9,67.4 522.1,67.3C523.3,67.2 524.6,67.3 525.8,67.3C527,67.3 528.3,67.2 529.5,67.3C530.7,67.4 531.7,68.7 532.9,68.1C534.1,67.5 535.6,64.8 536.9,63.6C538.2,62.4 539.2,61.6 540.5,60.8C541.8,60 543.5,59.6 544.8,58.6C546.1,57.6 547.1,56.2 548.4,55C549.6,53.8 551,51.2 552.3,51.5C553.6,51.8 554.8,54.6 556.2,56.5C557.6,58.4 559,61.2 560.5,62.9C562,64.6 563.8,66.7 565.3,66.9C566.8,67.1 568.3,65.5 569.8,64.3C571.3,63.1 572.8,61.2 574.1,60C575.4,58.8 576.2,56.6 577.4,56.9C578.6,57.1 580,60.3 581.3,61.5C582.6,62.7 583.8,64.2 585,64.3C586.2,64.4 587.4,63.5 588.6,62.2C589.8,60.9 591,58.3 592.2,56.5C593.4,54.7 594.5,51.5 595.7,51.5C596.9,51.5 598.1,54.7 599.3,56.5C600.5,58.3 601.6,61.1 602.9,62.2C604.2,63.3 605.9,63.4 607.2,62.9C608.5,62.4 609.5,60.1 610.8,59.3C612.1,58.5 613.6,58.1 615,57.9C616.4,57.7 617.6,58.1 618.9,57.9C620.2,57.7 621.6,56.8 622.9,56.5C624.2,56.2 625.2,55.5 626.5,56C627.8,56.5 629.5,58 630.8,59.3C632.1,60.6 633.1,62.3 634.4,63.6C635.7,64.9 637.3,66.8 638.6,66.9C639.9,67 640.9,65.5 642.2,64.3C643.5,63.1 645.2,61.3 646.5,60C647.8,58.7 648.8,56.6 650.1,56.5C651.4,56.4 653.1,58 654.4,59.3C655.7,60.6 656.8,62.9 658,64.3C659.2,65.7 660.2,67.5 661.5,67.5C662.8,67.5 664.5,65.7 665.8,64.3C667.1,62.9 668.2,61.4 669.4,59.3C670.6,57.2 671.8,53.3 673,51.5C674.2,49.7 675.2,49.2 676.6,48.6C678,48 680.7,48 681.5,47.9 M490.7,67.3C491.2,67 492.8,66.7 494,65.8C495.2,64.9 496.7,63.2 498.1,61.9C499.5,60.6 501.8,58.8 502.5,58.2 M515.4,59C516,59 517.7,59.2 518.8,59.2C519.9,59.2 520.9,59.1 522.1,59C523.3,58.9 524.6,58.3 525.8,58.6C527,58.9 528.3,60.1 529.5,61C530.7,61.9 531.7,64 532.9,64C534.1,64 535.6,62 536.9,61.1C538.2,60.2 539.2,59.5 540.5,58.6C541.8,57.7 543.5,56.7 544.8,55.5C546.1,54.3 547.1,52.7 548.4,51.5C549.6,50.3 551.6,49 552.3,48.5 M577.4,56.9C578,56.7 580,56 581.3,55.7C582.6,55.4 583.8,55.4 585,55C586.2,54.6 587.4,54.1 588.6,53.6C589.8,53.1 591,52.6 592.2,52.2C593.4,51.9 594.5,51.8 595.7,51.5C596.9,51.2 598.1,50.4 599.3,50.3C600.5,50.2 601.6,50.6 602.9,51C604.2,51.4 605.9,52.1 607.2,52.5C608.5,52.9 609.5,53 610.8,53.5C612.1,54 613.6,54.8 615,55.5C616.4,56.2 618.2,57.5 618.9,57.9 M490.4,110.8C491.1,111 492.9,111.1 494.3,112C495.7,112.9 497.3,114.6 498.6,116.1C500,117.6 501.1,119.6 502.5,120.9C503.9,122.2 505.4,122.8 506.8,123.8C508.3,124.8 509.8,126.7 511.2,127C512.6,127.3 513.9,126.4 515.2,125.7C516.5,125.1 517.7,124.5 518.9,123.3C520,122.1 521,120 522.2,118.5C523.4,117 524.9,115.4 526.1,114.2C527.3,113 528.3,111.9 529.5,111.3C530.6,110.7 531.8,110.6 533,110.6C534.3,110.6 535.5,110.6 536.9,111.3C538.2,112 539.7,113 541,114.7C542.4,116.4 543.6,118.4 544.9,121.4C546.2,124.4 547.5,130.6 548.7,132.5C550,134.3 551.3,132.4 552.3,132.5C553.3,132.6 554.5,132.9 555,133 M490.4,115.6C491.1,116.2 492.9,117.8 494.3,119C495.7,120.2 497.3,122.5 498.6,122.9C500,123.2 501.8,121.3 502.5,120.9 M490.4,120.5C491.1,120.9 492.9,121.9 494.3,123.3C495.7,124.8 497.3,127.2 498.6,129.1C500,131 501.1,133.9 502.5,134.7C503.9,135.5 505.4,134.3 506.8,133.7C508.3,133.2 509.8,131.9 511.2,131.2C512.6,130.6 513.9,130.2 515.2,129.9C516.5,129.5 517.7,129.3 518.9,129.1C520,128.9 521,129.2 522.2,128.6C523.4,128.1 524.9,126.9 526.1,125.7C527.3,124.6 528.3,123.6 529.5,121.9C530.6,120.2 532.4,116.7 533,115.6 M490.4,117.1C491.2,118.6 493.6,123.3 494.8,126.2C496,129.2 496.9,132.1 497.7,134.9C498.5,137.7 499.3,141.6 499.6,143 M490.4,140.2C491.1,140.2 492.9,140.2 494.3,139.9C495.7,139.7 497.3,139.6 498.6,138.8C500,137.9 501.8,135.4 502.5,134.7 M515.2,129.9C515.8,130.2 517.7,130.4 518.9,131.5C520,132.7 521,135.4 522.2,136.6C523.4,137.9 524.9,138.6 526.1,139.2C527.3,139.8 528.3,140 529.5,140.2C530.6,140.4 532.4,140.6 533,140.7 M518.9,131.5C519.4,131.1 521,130.5 522.2,129.1C523.4,127.8 524.9,125.2 526.1,123.3C527.3,121.5 528.3,119.3 529.5,118C530.6,116.8 532.4,116 533,115.6 M533,140.5C533.7,141.4 535.5,145.6 536.9,145.5C538.2,145.5 539.7,141.6 541,140C542.4,138.5 543.6,137.4 544.9,136.2C546.2,135 547.4,133.5 548.7,132.8C550,132.2 551.5,132.4 552.6,132.3C553.6,132.3 554.6,132.6 555,132.6 M490.4,148.7C491.1,149 492.9,149.8 494.3,150.6C495.7,151.4 497.3,152.6 498.6,153.5C500,154.5 501.1,155.4 502.5,156.4C503.9,157.5 505.4,159.8 506.8,159.8C508.3,159.8 509.8,157.6 511.2,156.4C512.6,155.2 513.9,153.4 515.2,152.6C516.5,151.8 517.7,151.4 518.9,151.6C520,151.8 521,153.3 522.2,154C523.4,154.7 524.9,156.4 526.1,155.9C527.3,155.5 528.3,152.3 529.5,151.1C530.6,149.9 531.8,149.6 533,148.7C534.3,147.8 536.2,146.1 536.9,145.5 M490.4,150.2C491.1,150.5 492.9,151.1 494.3,152.1C495.7,153 497.3,155.1 498.6,155.9C500,156.7 501.8,156.7 502.5,156.9 M511.2,140.5C511.8,140.8 513.9,142 515.2,142.5C516.5,142.9 517.7,142.9 518.9,143.4C520,144 521,145.1 522.2,145.8C523.4,146.5 524.9,147.3 526.1,147.7C527.3,148.2 528.3,148.6 529.5,148.7C530.6,148.9 532.4,148.7 533,148.7 M502.5,155C503.2,153.8 505.4,150.2 506.8,147.7C508.3,145.3 510.4,141.7 511.2,140.5 M498.6,143.4C499.3,145.3 501.5,151.4 502.5,155C503.5,158.6 504.1,163.3 504.4,165 M515.2,152.6C515.8,153.6 517.9,156.8 518.9,158.8C519.8,160.9 520.5,164 520.8,165 M544.9,136.2C545.5,137.9 547.4,144.9 548.7,146.3C550,147.7 551.5,145.5 552.6,144.9C553.6,144.2 554.6,142.9 555,142.5 M551,132C551.2,132 551.5,131.9 552.4,132.2C553.4,132.5 555.3,134.3 556.8,133.9C558.2,133.6 559.7,131.4 561.1,129.9C562.5,128.4 563.9,126 565.3,125.1C566.6,124.1 567.9,124.6 569.3,124.1C570.7,123.6 572.2,122.5 573.6,121.9C575.1,121.3 576.5,120.9 577.8,120.7C579.1,120.6 580.2,120.7 581.3,121.2C582.5,121.8 583.5,122.4 584.7,124.1C585.9,125.8 587.4,129.9 588.6,131.2C589.8,132.6 590.8,132 591.9,132.2C593.1,132.4 594.2,132 595.5,132.2C596.8,132.4 598.4,133 599.7,133.5C600.9,133.9 601.8,135.4 603,134.7C604.2,134.1 605.6,131.4 606.9,129.6C608.2,127.8 609.4,125.2 610.7,123.8C612.1,122.5 614,122 615.1,121.4C616.1,120.9 616.7,120.6 617,120.5 M577.8,120.7C578.4,121 580.2,120.9 581.3,122.4C582.5,123.9 583.5,128 584.7,129.6C585.9,131.2 587.4,131 588.6,131.8C589.8,132.7 590.8,134.6 591.9,134.7C593.1,134.8 594.9,132.6 595.5,132.2 M553.9,143C554.4,142.5 555.6,141 556.8,140.2C558,139.4 559.7,138.1 561.1,138.3C562.5,138.4 563.9,141.5 565.3,141.2C566.6,140.8 567.9,137.8 569.3,136.1C570.7,134.3 572.2,131.8 573.6,130.6C575.1,129.3 576.5,128.8 577.8,128.6C579.1,128.5 580.2,128.6 581.3,129.6C582.5,130.6 583.5,133.1 584.7,134.7C585.9,136.3 587.4,137.9 588.6,139.2C589.8,140.6 591.4,142.4 591.9,143 M593.4,143C594.4,141 598,134.3 599.7,131C601.3,127.8 601.7,125.5 603,123.3C604.3,121.2 606,119 607.4,118C608.7,117 609.9,117.3 611.2,117.4C612.5,117.4 614.1,118.1 615.1,118.3C616,118.6 616.7,118.9 617,119 M606.9,129.6C607.6,129.9 609.8,130.6 611.2,131.5C612.6,132.4 614.1,134.3 615.1,134.9C616,135.5 616.7,135.3 617,135.4 M551,144.9C552,144.1 555.1,141.2 556.8,140C558.5,138.9 559.7,138 561.1,138.1C562.5,138.3 563.9,141.4 565.3,141C566.6,140.6 567.9,137.5 569.3,135.7C570.7,133.9 572.2,131.6 573.6,130.4C575.1,129.3 576.5,128.9 577.8,128.8C579.1,128.6 580.2,128.5 581.3,129.4C582.5,130.4 583.5,132.7 584.7,134.3C585.9,135.8 587.4,137.2 588.6,138.6C589.8,140 590.8,141.9 591.9,142.9C593.1,144 594.2,144.1 595.5,144.9C596.8,145.7 598.4,146.5 599.7,147.7C600.9,149 602,150.6 603,152.1C604.1,153.6 605.4,156.1 605.9,156.9 M551,151.6C551.2,151.7 551.5,152 552.4,151.9C553.4,151.8 555.3,151.7 556.8,151.1C558.2,150.6 559.7,149.5 561.1,148.7C562.5,147.9 563.9,146.4 565.3,146.5C566.6,146.6 567.9,148.6 569.3,149.4C570.7,150.1 572.2,150.6 573.6,150.9C575.1,151.2 576.5,151.1 577.8,151.1C579.1,151.2 580.2,151.2 581.3,151.1C582.5,151 583.5,151.1 584.7,150.6C585.9,150.2 587.4,148.1 588.6,148.2C589.8,148.4 590.8,151 591.9,151.6C593.1,152.2 594.2,151.5 595.5,151.9C596.8,152.3 598.4,153.2 599.7,154C600.9,154.8 601.8,156.4 603,156.9C604.2,157.4 605.5,157.5 606.9,156.9C608.2,156.3 609.8,154.3 611.2,153.5C612.6,152.8 614.1,152.6 615.1,152.6C616,152.5 616.7,153 617,153 M588.6,148.2C589.1,149.4 590.8,152.5 591.9,155C593.1,157.5 594.9,161.8 595.5,163.2 M552.4,162.7C553.2,162.2 555.3,160.4 556.8,159.8C558.2,159.2 559.7,159.3 561.1,159.3C562.5,159.3 563.9,159.5 565.3,159.8C566.6,160.1 567.9,160.8 569.3,161.2C570.7,161.7 572.2,162.3 573.6,162.7C575.1,163.1 577.1,163.3 577.8,163.5 M577.8,163.5C578.4,163 580.2,162.4 581.3,160.8C582.5,159.1 583.5,155.6 584.7,153.5C585.9,151.4 587.9,149.1 588.6,148.2 M584.7,129.9C585.4,130.2 587.4,131.5 588.6,131.9C589.8,132.3 590.8,132.3 591.9,132.3C593.1,132.4 594.2,132.2 595.5,132.3C596.8,132.5 598.4,132.9 599.7,133.3C600.9,133.7 601.7,135.3 603,134.7C604.3,134.2 606,130.5 607.4,129.9C608.7,129.4 609.9,130.6 611.2,131.4C612.5,132.2 614.1,134.1 615.1,134.7C616,135.4 616.7,135.1 617,135.2 M603,140C603.7,140.4 606,141.1 607.4,142C608.7,142.9 609.9,144.3 611.2,145.3C612.5,146.4 614.1,147.6 615.1,148.2C616,148.9 616.7,149 617,149.2 M599.7,154C600.2,155 601.8,158.5 603,159.8C604.2,161.1 605.5,161.4 606.9,161.7C608.2,162 609.8,161.6 611.2,161.7C612.6,161.9 614.4,162.5 615.1,162.7 M615,117.9C615.6,118.4 617.4,120.6 618.8,120.9C620.1,121.2 621.6,119.8 622.9,119.9C624.3,120 625.6,120.6 626.9,121.4C628.2,122.1 629.6,123.7 630.9,124.4C632.2,125.1 633.6,125.5 634.9,125.7C636.1,125.8 637.3,125.2 638.5,125.1C639.8,125 641,125.1 642.3,125.1C643.6,125 645,124.5 646.3,124.7C647.5,124.9 648.5,125.5 649.8,126.4C651,127.2 652.4,129.6 653.7,129.8C655.1,130 656.4,128.3 657.7,127.6C659,127 660.3,125.8 661.7,125.9C663,125.9 664.3,126.9 665.6,128C667,129.2 668.3,132.7 669.6,132.6C670.9,132.5 672.3,129.1 673.6,127.4C674.9,125.6 676.3,123.5 677.6,122.4C678.9,121.3 680.7,121.1 681.3,120.9 M615,121.9C615.6,121.7 618.1,121.1 618.8,120.9 M615,134.8C615.6,134.8 617.4,134 618.8,134.8C620.1,135.6 621.6,138.7 622.9,139.8C624.3,140.8 625.6,141.6 626.9,141.3C628.2,141 629.6,138.5 630.9,138C632.2,137.4 633.6,137.5 634.9,138C636.1,138.5 637.3,141 638.5,141C639.8,141 641,138.5 642.3,138C643.6,137.4 645,137.8 646.3,137.8C647.5,137.8 648.5,138.3 649.8,138C651,137.6 652.4,136.4 653.7,135.8C655.1,135.2 656.4,135.3 657.7,134.3C659,133.3 660.3,129.9 661.7,130C663,130.1 664.3,133.6 665.6,135C667,136.4 668.3,137.1 669.6,138.3C670.9,139.5 672.3,140.4 673.6,142.2C674.9,144.1 676.3,147.6 677.6,149.2C678.8,150.8 680.5,151.3 681,151.7 M615,140.8C615.6,139.8 618.1,135.8 618.8,134.8 M669.6,138.3C670.3,137.6 672.3,135.6 673.6,134.3C674.9,133 676.3,131.2 677.6,130.3C678.9,129.4 680.7,129.1 681.3,128.8 M653.7,143C654.4,142.6 656.4,140.5 657.7,140.3C659,140 660.3,141.7 661.7,141.7C663,141.8 664.3,141.3 665.6,140.8C667,140.2 669,138.7 669.6,138.3 M615,147.9C615.6,149.2 617.4,155.1 618.8,155.8C620.1,156.6 621.6,153 622.9,152.3C624.3,151.6 625.6,151.8 626.9,151.6C628.2,151.5 629.6,151.6 630.9,151.3C632.2,151 633.6,150.7 634.9,149.8C636.1,149 637.3,146.5 638.5,146.4C639.8,146.3 641,149.1 642.3,149.4C643.6,149.6 645,148.6 646.3,147.9C647.5,147.1 648.5,145.7 649.8,144.9C651,144.1 652.4,143.6 653.7,142.9C655.1,142.2 656.4,140.4 657.7,140.4C659,140.4 660.3,142.6 661.7,142.7C663,142.8 664.3,141.7 665.6,140.9C667,140.1 668.3,139.1 669.6,137.9C670.9,136.8 672.3,135.2 673.6,134C674.9,132.7 676.3,131.3 677.6,130.5C678.8,129.7 680.5,129.2 681,129 M615,152.8C615.6,153.5 617.4,156 618.8,156.8C620.1,157.6 621.6,157.1 622.9,157.8C624.3,158.5 625.6,159.8 626.9,160.8C628.2,161.8 630.2,163.3 630.9,163.7 M630.9,163.7C631.6,163.1 633.6,160.6 634.9,160C636.1,159.3 637.3,159.7 638.5,159.8C639.8,159.9 641,160 642.3,160.6C643.6,161.1 645.6,162.6 646.3,163 M646.3,163C646.9,162.1 648.5,160.1 649.8,157.8C651,155.4 652.4,150.1 653.7,148.9C655.1,147.6 656.4,149.4 657.7,150C659,150.7 660.3,153.4 661.7,152.8C663,152.3 664.3,147.7 665.6,146.7C667,145.6 668.3,144.7 669.6,146.4C670.9,148.1 672.3,154.2 673.6,156.8C674.9,159.4 676.3,161.2 677.6,162.3C678.8,163.3 680.5,163.1 681,163.3 M533,115.6C533.6,116.1 535.5,116.8 536.8,118.6C538,120.4 539.3,123.6 540.5,126.4C541.7,129.2 542.9,131.9 544.2,135.2C545.6,138.5 547.2,144.7 548.6,146.3C550,147.9 551.7,145.1 552.3,144.8 M533,120.4C533.6,121.4 535.5,123.7 536.8,126.4C538,129.1 539.3,133.3 540.5,136.7C541.7,140.1 542.9,143.6 544.2,147C545.6,150.4 547.2,156.4 548.6,157.3C550,158.2 551.7,153 552.3,152.2 M514.5,140C515.1,139.4 517,137.5 518.4,136.3C519.8,135.1 521.3,134.2 522.6,132.8C523.9,131.4 524.9,129.2 526,127.7C527.1,126.2 528.1,124.7 529.3,123.5C530.5,122.3 532.4,120.9 533,120.4" fill="none" stroke="#e46c2a" stroke-width="1.3" stroke-linejoin="round"/>
<path d="M490.5,33.8h0M494.5,29.2h0M498.6,21.3h0M502.6,8.4h0M506.8,10.2h0M511.1,12.6h0M515.3,13.4h0M518.8,15.4h0M522.3,19.5h0M525.9,26.2h0M529.4,28.5h0M532.9,27.8h0M536.8,28.5h0M540.7,26.5h0M544.5,21.4h0M548.4,18.9h0M552.3,17.7h0M556.6,22h0M561,25.1h0M565.3,26.6h0M569.3,24.6h0M573.4,19.8h0M577.4,11.2h0M581,11.2h0M584.6,11h0M588.3,10.9h0M591.9,10.6h0M595.5,10.3h0M599.4,9.4h0M603.3,9.2h0M607.2,9.2h0M611.1,8.4h0M615,8h0M618.9,8h0M622.8,13.3h0M626.8,20.3h0M630.7,24.8h0M634.7,26.4h0M638.6,26.6h0M642.4,25.5h0M646.3,23.4h0M650.1,17.7h0M653.9,13.1h0M657.8,12.7h0M661.6,13.4h0M665.6,12.1h0M669.6,10.1h0M673.5,10.3h0M677.5,10.9h0M681.5,11.3h0M490.5,27.4h0M494.5,30.5h0M498.6,35.6h0M502.6,42h0M506.8,41.2h0M511.1,39.7h0M515.3,38.6h0M518.8,37.3h0M522.3,35h0M525.9,32.1h0M529.4,32.1h0M532.9,34h0M536.8,31.8h0M540.7,32.2h0M544.5,37.5h0M548.4,43.5h0M552.3,47.8h0M556.6,47.9h0M561,47.9h0M565.3,47.9h0M569.3,47.9h0M573.4,47.9h0M577.4,47.5h0M581,47.9h0M584.6,47.4h0M588.3,47.9h0M591.9,47.9h0M595.5,47.9h0M599.4,46.9h0M603.3,49.5h0M607.2,51.5h0M611.1,52.2h0M615,52.2h0M618.9,51.7h0M622.8,50.7h0M626.8,49.2h0M630.7,47.5h0M634.7,47.2h0M638.6,47.5h0M642.4,47.9h0M646.3,48.5h0M650.1,51.5h0M653.9,54.6h0M657.8,57.8h0M661.6,59.3h0M665.6,58h0M669.6,54.1h0M673.5,49.5h0M677.5,47.7h0M681.5,47.2h0M515.3,13.3h0M518.8,10.6h0M522.3,7.2h0M525.9,6.8h0M498.6,6.4h0M502.6,8.4h0M506.8,6.2h0M544.5,5.4h0M548.4,10.8h0M552.3,11.1h0M556.6,5.2h0M536.8,4.7h0M540.7,7.9h0M544.5,10.5h0M548.4,13.4h0M552.3,17.6h0M577.4,11.2h0M581,20.1h0M584.6,26.3h0M588.3,27.9h0M591.9,23.2h0M595.5,18.7h0M599.4,18h0M603.3,20.2h0M607.2,20.6h0M611.1,20.1h0M615,15.6h0M618.9,8h0M577.4,11.2h0M581,11.8h0M584.6,12h0M588.3,12.4h0M591.9,13.6h0M595.5,15.5h0M599.4,18h0M603.3,19.2h0M607.2,18.9h0M611.1,17.2h0M615,12h0M618.9,8h0M577.4,11.2h0M577.4,11.2h0M618.9,8h0M665.6,5.5h0M669.6,7.3h0M591.9,4.9h0M595.5,8.6h0M599.4,8.4h0M603.3,4.6h0M653.9,5.8h0M502.6,42h0M506.8,41.2h0M511.1,39.7h0M515.3,38.6h0M518.8,39.4h0M522.3,45.2h0M525.9,51.1h0M529.4,56.5h0M532.9,59.3h0M536.8,58.4h0M540.7,54.1h0M544.5,47.6h0M548.4,43.6h0M552.3,41.4h0M556.6,39.8h0M561,38.5h0M565.3,37.9h0M569.3,39.7h0M573.4,42.9h0M577.4,47.5h0M581,42.6h0M584.6,36.8h0M588.3,35.6h0M591.9,37.7h0M595.5,41.1h0M599.4,40.6h0M603.3,37.7h0M607.2,36.9h0M611.1,37h0M615,38.9h0M618.9,42.2h0M622.8,42.6h0M626.8,42.1h0M630.7,39.7h0M634.7,38.5h0M638.6,37.9h0M642.4,39h0M646.3,41.3h0M650.1,43.6h0M653.9,41.9h0M657.8,39.8h0M661.6,38.6h0M665.6,40.2h0M669.6,44.5h0M673.5,50h0M677.5,54.3h0M681.5,56.5h0M599.4,43.3h0M603.3,45.2h0M607.2,46.5h0M611.1,46.8h0M615,44.3h0M618.9,42.2h0M577.4,47.5h0M581,45.7h0M584.6,43.8h0M588.3,42.7h0M591.9,41.5h0M595.5,41.2h0M494.5,56.6h0M498.6,49.1h0M502.6,42h0M494.5,56.6h0M498.6,52.9h0M502.6,51.2h0M506.8,53.6h0M511.1,57.5h0M515.3,59h0M518.8,56.5h0M522.3,51.9h0M525.9,52.2h0M529.4,56.9h0M532.9,59.8h0M536.8,57.9h0M540.7,55h0M544.5,50.8h0M548.4,46.5h0M552.3,45h0M494.5,61.2h0M498.6,57.6h0M502.6,57.8h0M506.8,59.8h0M511.1,64.9h0M515.3,67.7h0M518.8,67.7h0M522.3,67.3h0M525.9,67.3h0M529.4,67.3h0M532.9,68.1h0M536.8,63.7h0M540.7,60.7h0M544.5,58.8h0M548.4,55h0M552.3,51.5h0M556.6,57.1h0M561,63.4h0M565.3,66.9h0M569.3,64.7h0M573.4,60.7h0M577.4,56.9h0M581,61.2h0M584.6,64.2h0M588.3,62.6h0M591.9,57h0M595.5,51.6h0M599.4,56.7h0M603.3,62.5h0M607.2,62.9h0M611.1,59.1h0M615,57.9h0M618.9,57.9h0M622.8,56.5h0M626.8,56.1h0M630.7,59.2h0M634.7,63.9h0M638.6,66.9h0M642.4,64.1h0M646.3,60.2h0M650.1,56.5h0M653.9,58.8h0M657.8,64h0M661.6,67.5h0M665.6,64.5h0M669.6,59h0M673.5,50.8h0M677.5,48.3h0M681.5,47.9h0M494.5,65.4h0M498.6,61.5h0M518.8,59.2h0M522.3,59h0M525.9,58.6h0M529.4,60.9h0M532.9,64h0M536.8,61.2h0M540.7,58.5h0M544.5,55.7h0M548.4,51.5h0M552.3,48.5h0M577.4,56.9h0M581,55.8h0M584.6,55.1h0M588.3,53.7h0M591.9,52.3h0M595.5,51.5h0M599.4,50.3h0M603.3,51.1h0M607.2,52.5h0M611.1,53.6h0M615,55.5h0M618.9,57.9h0M490.5,110.8h0M494.5,112.1h0M498.6,116h0M502.6,121h0M506.8,123.8h0M511.1,127h0M515.3,125.7h0M518.8,123.4h0M522.3,118.4h0M525.9,114.4h0M529.4,111.3h0M532.9,110.6h0M536.8,111.3h0M540.7,114.2h0M544.5,120.7h0M548.4,131.9h0M552.3,132.5h0M490.5,115.7h0M494.5,119.2h0M498.6,122.8h0M490.5,120.5h0M494.5,123.6h0M498.6,129h0M502.6,134.8h0M506.8,133.7h0M511.1,131.3h0M515.3,129.9h0M518.8,129.1h0M522.3,128.6h0M525.9,126h0M529.4,122h0M532.9,115.9h0M490.5,117.2h0M494.5,125.6h0M498.6,138.4h0M490.5,140.2h0M494.5,139.9h0M498.6,138.8h0M515.3,129.9h0M518.8,131.5h0M522.3,136.7h0M525.9,139.1h0M529.4,140.2h0M532.9,140.7h0M522.3,129h0M525.9,123.7h0M529.4,118.1h0M532.9,115.7h0M536.8,145.5h0M540.7,140.5h0M544.5,136.5h0M548.4,133h0M552.3,132.3h0M490.5,148.7h0M494.5,150.8h0M498.6,153.5h0M502.6,156.5h0M506.8,159.8h0M511.1,156.5h0M515.3,152.5h0M518.8,151.6h0M522.3,154.1h0M525.9,156h0M529.4,151.2h0M532.9,148.8h0M536.8,145.6h0M490.5,150.2h0M494.5,152.3h0M498.6,155.9h0M515.3,142.5h0M518.8,143.4h0M522.3,145.9h0M525.9,147.7h0M529.4,148.7h0M532.9,148.7h0M502.6,154.8h0M506.8,147.7h0M511.1,140.7h0M502.6,155.4h0M515.3,152.7h0M518.8,158.7h0M548.4,145.9h0M552.3,145.1h0M552.3,132.2h0M556.6,134h0M561,130.1h0M565.3,125h0M569.3,124.1h0M573.4,122h0M577.4,120.8h0M581,121.1h0M584.6,124h0M588.3,130.8h0M591.9,132.2h0M595.5,132.2h0M599.4,133.4h0M603.3,134.5h0M607.2,129.1h0M611.1,123.5h0M615,121.4h0M581,122h0M584.6,129.5h0M588.3,131.6h0M591.9,134.7h0M595.5,132.2h0M556.6,140.3h0M561,138.3h0M565.3,141.1h0M569.3,136h0M573.4,130.8h0M577.4,128.7h0M581,129.3h0M584.6,134.6h0M588.3,138.9h0M591.9,142.9h0M595.5,139h0M599.4,131.6h0M603.3,122.9h0M607.2,118.2h0M611.1,117.4h0M615,118.3h0M607.2,129.7h0M611.1,131.5h0M615,134.9h0M552.3,143.7h0M556.6,140.1h0M561,138.1h0M565.3,141h0M569.3,135.7h0M573.4,130.7h0M577.4,128.8h0M581,129.2h0M584.6,134.2h0M588.3,138.2h0M591.9,142.9h0M595.5,144.9h0M599.4,147.5h0M603.3,152.5h0M552.3,151.9h0M556.6,151.2h0M561,148.8h0M565.3,146.5h0M569.3,149.4h0M573.4,150.9h0M577.4,151.1h0M581,151.1h0M584.6,150.7h0M588.3,148.2h0M591.9,151.6h0M595.5,151.9h0M599.4,153.8h0M603.3,157h0M607.2,156.7h0M611.1,153.6h0M615,152.6h0M591.9,154.8h0M595.5,163.1h0M556.6,159.9h0M561,159.3h0M565.3,159.8h0M569.3,161.2h0M573.4,162.6h0M577.4,163.4h0M581,161.2h0M584.6,153.7h0M588.3,148.6h0M588.3,131.7h0M591.9,132.3h0M595.5,132.3h0M599.4,133.2h0M603.3,134.6h0M607.2,130h0M611.1,131.3h0M615,134.7h0M603.3,140.2h0M607.2,141.9h0M611.1,145.2h0M615,148.2h0M603.3,160.1h0M607.2,161.8h0M611.1,161.7h0M615,162.7h0M615,117.9h0M618.9,120.9h0M622.8,119.9h0M626.8,121.3h0M630.7,124.3h0M634.7,125.6h0M638.6,125.1h0M642.4,125.1h0M646.3,124.7h0M650.1,126.6h0M653.9,129.8h0M657.8,127.6h0M661.6,125.9h0M665.6,128h0M669.6,132.6h0M673.5,127.4h0M677.5,122.4h0M615,121.9h0M615,134.8h0M618.9,134.9h0M622.8,139.7h0M626.8,141.3h0M630.7,138.1h0M634.7,137.9h0M638.6,140.9h0M642.4,137.9h0M646.3,137.8h0M650.1,137.9h0M653.9,135.7h0M657.8,134.2h0M661.6,130h0M665.6,134.9h0M669.6,138.2h0M673.5,142.2h0M677.5,149.1h0M615,140.8h0M673.5,134.4h0M677.5,130.4h0M653.9,142.9h0M657.8,140.3h0M661.6,141.7h0M665.6,140.8h0M669.6,138.3h0M615,147.9h0M618.9,155.8h0M622.8,152.4h0M626.8,151.6h0M630.7,151.4h0M634.7,150h0M638.6,146.4h0M642.4,149.4h0M646.3,147.9h0M650.1,144.7h0M653.9,142.8h0M657.8,140.4h0M661.6,142.7h0M665.6,141h0M669.6,138h0M673.5,134h0M677.5,130.5h0M615,152.8h0M618.9,156.9h0M622.8,157.7h0M626.8,160.7h0M630.7,163.6h0M634.7,160.1h0M638.6,159.8h0M642.4,160.6h0M646.3,162.9h0M650.1,157.1h0M653.9,148.7h0M657.8,150.1h0M661.6,152.8h0M665.6,146.7h0M669.6,146.3h0M673.5,156.7h0M677.5,162.2h0M536.8,118.6h0M540.7,126.8h0M544.5,136.1h0M548.4,146h0M552.3,144.8h0M536.8,126.4h0M540.7,137.1h0M544.5,147.9h0M548.4,157.1h0M552.3,152.2h0M515.3,139.2h0M518.8,135.9h0M522.3,133.1h0M525.9,127.9h0M529.4,123.4h0M532.9,120.5h0" fill="none" stroke="#3a3a92" stroke-width="2.3" stroke-linecap="round"/>
</g>
<rect x="490.2" y="4.9" width="191.1" height="158.4" fill="none" stroke="#303030" stroke-width="1.25"/>
<line x1="490.2" y1="163.4" x2="493.4" y2="163.4" stroke="#303030" stroke-width="1.1"/>
<text x="486" y="166.2" font-size="10.1" text-anchor="end" font-weight="normal" fill="#000">-4</text>
<line x1="490.2" y1="110.6" x2="493.4" y2="110.6" stroke="#303030" stroke-width="1.1"/>
<text x="486" y="114.1" font-size="10.1" text-anchor="end" font-weight="normal" fill="#000">0</text>
<line x1="490.2" y1="57.8" x2="493.4" y2="57.8" stroke="#303030" stroke-width="1.1"/>
<text x="486" y="61.3" font-size="10.1" text-anchor="end" font-weight="normal" fill="#000">4</text>
<line x1="490.2" y1="5" x2="493.4" y2="5" stroke="#303030" stroke-width="1.1"/>
<text x="486" y="7.8" font-size="10.1" text-anchor="end" font-weight="normal" fill="#000">8</text>
<line x1="490.2" y1="137" x2="492" y2="137" stroke="#303030" stroke-width="1.1"/>
<line x1="490.2" y1="84.2" x2="492" y2="84.2" stroke="#303030" stroke-width="1.1"/>
<line x1="490.2" y1="31.4" x2="492" y2="31.4" stroke="#303030" stroke-width="1.1"/>
<text x="490.5" y="175" font-size="10.2" text-anchor="middle" font-weight="normal" fill="#000">Γ</text>
<text x="502.8" y="175" font-size="10.2" text-anchor="middle" font-weight="normal" fill="#000">X</text>
<text x="515.3" y="175" font-size="10.2" text-anchor="middle" font-weight="normal" fill="#000">M</text>
<text x="533" y="175" font-size="10.2" text-anchor="middle" font-weight="normal" fill="#000">Γ</text>
<text x="551.8" y="175" font-size="10.2" text-anchor="middle" font-weight="normal" fill="#000">Z</text>
<text x="565.3" y="175" font-size="10.2" text-anchor="middle" font-weight="normal" fill="#000">R</text>
<text x="577.3" y="175" font-size="10.2" text-anchor="middle" font-weight="normal" fill="#000">A</text>
<text x="595.2" y="175" font-size="10.2" text-anchor="middle" font-weight="normal" fill="#000">Z</text>
<text x="618.3" y="175" font-size="10.2" text-anchor="middle" font-weight="normal" fill="#000">X</text>
<text x="638.6" y="175" font-size="10.2" text-anchor="middle" font-weight="normal" fill="#000">R</text>
<text x="661.7" y="175" font-size="10.2" text-anchor="middle" font-weight="normal" fill="#000">M</text>
<text x="680.2" y="175" font-size="10.2" text-anchor="middle" font-weight="normal" fill="#000">A</text>
<text x="474.5" y="84.9" font-size="12" text-anchor="middle" font-weight="normal" fill="#000" transform="rotate(-90 474.5 84.9)">KS orbital energy (eV)</text>
<circle cx="619.2" cy="81.3" r="1.6" fill="#3a3a92"/>
<text x="632.9" y="84.4" font-size="9.4" text-anchor="start" font-weight="normal" fill="#000">DFT</text>
<line x1="613.9" y1="94.5" x2="624.8" y2="94.5" stroke="#e46c2a" stroke-width="1.3"/>
<text x="632.9" y="97.5" font-size="9.5" text-anchor="start" font-weight="normal" fill="#000">N<tspan font-size="6.8" dy="-3.6">2</tspan><tspan dy="3.6">AMD</tspan></text>
<defs><clipPath id="clipFa"><rect x="489.8" y="199.7" width="191.40000000000003" height="62.30000000000001"/></clipPath><clipPath id="clipFb"><rect x="489.8" y="291" width="191.40000000000003" height="68.10000000000002"/></clipPath></defs>
<line x1="504.4" y1="199.7" x2="504.4" y2="359.1" stroke="#8c8c8c" stroke-width="0.8" stroke-dasharray="0.9 2.4"/>
<line x1="518.6" y1="199.7" x2="518.6" y2="359.1" stroke="#8c8c8c" stroke-width="0.8" stroke-dasharray="0.9 2.4"/>
<line x1="538.9" y1="199.7" x2="538.9" y2="359.1" stroke="#8c8c8c" stroke-width="0.8" stroke-dasharray="0.9 2.4"/>
<line x1="555.4" y1="199.7" x2="555.4" y2="359.1" stroke="#8c8c8c" stroke-width="0.8" stroke-dasharray="0.9 2.4"/>
<line x1="569.6" y1="199.7" x2="569.6" y2="359.1" stroke="#8c8c8c" stroke-width="0.8" stroke-dasharray="0.9 2.4"/>
<line x1="584" y1="199.7" x2="584" y2="359.1" stroke="#8c8c8c" stroke-width="0.8" stroke-dasharray="0.9 2.4"/>
<line x1="604.3" y1="199.7" x2="604.3" y2="359.1" stroke="#8c8c8c" stroke-width="0.8" stroke-dasharray="0.9 2.4"/>
<line x1="626.3" y1="199.7" x2="626.3" y2="359.1" stroke="#8c8c8c" stroke-width="0.8" stroke-dasharray="0.9 2.4"/>
<line x1="642.5" y1="199.7" x2="642.5" y2="359.1" stroke="#8c8c8c" stroke-width="0.8" stroke-dasharray="0.9 2.4"/>
<line x1="664.7" y1="199.7" x2="664.7" y2="359.1" stroke="#8c8c8c" stroke-width="0.8" stroke-dasharray="0.9 2.4"/>
<g clip-path="url(#clipFa)">
<path d="M490.3,248.1C490.8,248 492.2,248 493.3,247.6C494.4,247.2 495.9,246.5 497.2,245.7C498.5,244.9 499.8,243.5 501,242.8C502.2,242.1 503.1,241.9 504.4,241.5C505.7,241.1 507.5,240.8 508.7,240.6C509.9,240.3 510.7,239.7 511.7,240C512.7,240.3 513.4,241.4 514.5,242.5C515.6,243.6 517.2,245.7 518.6,246.5C520,247.3 521.4,247.3 522.7,247.2C524,247.1 525.2,246.2 526.6,246C528,245.8 529.5,245.7 530.9,246C532.3,246.3 533.5,247.1 534.8,247.6C536.1,248.1 537.6,248.9 538.9,248.9C540.2,248.9 541.4,248.4 542.5,247.6C543.6,246.8 544.7,245.7 545.8,244.3C546.9,242.9 548.1,240.8 549.2,239C550.3,237.2 551.6,234.9 552.6,233.7C553.6,232.5 554.2,231.9 555.4,231.7C556.6,231.4 558.3,232.1 560,232.2C561.7,232.3 563.9,232.4 565.5,232.5C567.1,232.6 568.2,233 569.6,233C571,233 572.6,232.8 574,232.5C575.4,232.2 576.6,231.5 578,231C579.4,230.5 581.2,229.6 582.5,229.5C583.8,229.4 584.8,230 586,230.5C587.2,231 588.4,231.8 589.6,232.5C590.8,233.2 591.8,234.1 593,235C594.2,235.9 595.4,236.9 596.6,237.7C597.9,238.4 599.2,239 600.5,239.5C601.8,240 602.9,240.4 604.3,240.5C605.7,240.6 607.5,240.2 609,240C610.5,239.8 612.1,239.4 613.6,239.2C615.1,239 616.6,239 618,239C619.4,239 620.7,239.1 622.1,239.2C623.5,239.3 624.9,239.5 626.3,239.5C627.7,239.5 629.1,239.4 630.6,239.2C632.1,239 633.6,238.7 635,238.5C636.4,238.3 637.9,237.9 639.1,237.8C640.4,237.8 641.1,237.9 642.5,238.2C643.9,238.5 646,238.9 647.6,239.5C649.2,240.1 650.6,240.8 652,241.5C653.4,242.2 654.8,243 656.1,243.8C657.4,244.6 658.8,245.9 660,246.5C661.2,247.1 662.4,247.5 663.2,247.6C664,247.7 664.1,247.5 664.7,247.2C665.3,246.9 666.1,246.7 667,246C667.9,245.3 669.3,244.3 670.3,243.3C671.3,242.3 672,241.3 673,240C674,238.7 675.1,236.8 676,235.5C676.9,234.2 677.6,233 678.5,232C679.4,231 680.8,229.9 681.2,229.5 M490.3,243.9C490.8,244 492.2,244.3 493.3,244.3C494.4,244.2 495.9,244 497.2,243.5C498.5,243 499.8,241.8 501,241.1C502.2,240.4 503.1,240.1 504.4,239.5C505.7,238.8 507.5,238 508.7,237.4C509.9,236.8 510.7,235.8 511.7,235.9C512.7,236 513.4,236.9 514.5,237.9C515.6,238.9 517.2,241 518.6,242C520,243 521.4,243.4 522.7,243.7C524,244 525.2,243.6 526.6,243.7C528,243.8 529.5,244 530.9,244.3C532.3,244.6 533.5,245.2 534.8,245.5C536.1,245.7 537.6,246 538.9,245.6C540.2,245.2 541.4,244.3 542.5,243.3C543.6,242.3 544.7,241 545.8,239.6C546.9,238.2 548.1,236.2 549.2,234.6C550.3,233.1 551.6,231.1 552.6,230.2C553.6,229.3 554.2,229 555.4,229.1C556.6,229.1 558.3,230.3 560,230.5C561.7,230.7 563.9,230.3 565.5,230.2C567.1,230 568.2,229.8 569.6,229.5C571,229.1 572.6,228.4 574,227.9C575.4,227.4 576.6,226.8 578,226.4C579.4,226.1 581.2,225.7 582.5,226C583.8,226.3 584.8,227.3 586,228.1C587.2,228.9 588.4,229.9 589.6,230.7C590.8,231.6 591.8,232.4 593,233.2C594.2,233.9 595.4,234.6 596.6,235.1C597.9,235.5 599.2,235.5 600.5,235.7C601.8,235.8 602.9,235.9 604.3,235.9C605.7,235.9 607.5,235.6 609,235.6C610.5,235.6 612.1,235.8 613.6,236.1C615.1,236.3 616.6,236.8 618,237C619.4,237.3 620.7,237.5 622.1,237.4C623.5,237.4 624.9,237.3 626.3,236.9C627.7,236.6 629.1,235.8 630.6,235.3C632.1,234.8 633.6,234.1 635,233.8C636.4,233.5 637.9,233.3 639.1,233.4C640.4,233.6 641.1,234.1 642.5,234.8C643.9,235.4 646,236.6 647.6,237.5C649.2,238.3 650.6,239.1 652,239.7C653.4,240.4 654.8,240.7 656.1,241.3C657.4,241.8 658.8,242.4 660,242.8C661.2,243.1 662.4,243.1 663.2,243.1C664,243.1 664.1,242.8 664.7,242.5C665.3,242.2 666.1,241.9 667,241.4C667.9,240.8 669.3,240 670.3,239.2C671.3,238.5 672,237.8 673,236.7C674,235.7 675.1,234.2 676,233.1C676.9,232 677.6,231 678.5,230.1C679.4,229.3 680.8,228.2 681.2,227.8 M489.8,193.2C490.2,193.2 491.5,193 492.3,193.1C493.1,193.3 494,193.7 494.8,194.2C495.6,194.7 496.5,195.5 497.3,196.2C498.1,197 499,198 499.8,198.8C500.6,199.6 501.5,200.4 502.3,201.1C503.1,201.7 504,202.2 504.8,202.5C505.6,202.8 506.5,202.8 507.3,202.6C508.1,202.5 509,202 509.8,201.4C510.6,200.8 511.5,200 512.3,199.1C513.1,198.3 514,197.2 514.8,196.3C515.6,195.5 516.5,194.5 517.3,193.9C518.1,193.2 519,192.6 519.8,192.3C520.6,192 521.5,192 522.3,192.2C523.1,192.3 524,192.8 524.8,193.4C525.6,193.9 526.5,194.8 527.3,195.6C528.1,196.4 529,197.4 529.8,198.3C530.6,199.1 531.5,200 532.3,200.6C533.1,201.3 534,201.8 534.8,202.1C535.6,202.3 536.5,202.4 537.3,202.2C538.1,202.1 539,201.7 539.8,201.2C540.6,200.7 541.5,199.9 542.3,199.2C543.1,198.5 544,197.7 544.8,197C545.6,196.3 546.5,195.5 547.3,195C548.1,194.5 549,194.1 549.8,193.9C550.6,193.7 551.5,193.7 552.3,193.9C553.1,194 554,194.4 554.8,194.8C555.6,195.2 556.5,195.8 557.3,196.3C558.1,196.8 559,197.4 559.8,197.9C560.6,198.4 561.5,198.9 562.3,199.2C563.1,199.5 564,199.7 564.8,199.7C565.6,199.8 566.5,199.6 567.3,199.5C568.1,199.3 569,199 569.8,198.6C570.6,198.3 571.5,197.9 572.3,197.6C573.1,197.3 574,196.9 574.8,196.7C575.6,196.5 576.5,196.4 577.3,196.4C578.1,196.3 579,196.4 579.8,196.6C580.6,196.7 581.5,197 582.3,197.2C583.1,197.5 584,197.8 584.8,198.1C585.6,198.3 586.5,198.6 587.3,198.7C588.1,198.9 589,198.9 589.8,198.9C590.6,198.8 591.5,198.6 592.3,198.3C593.1,198.1 594,197.7 594.8,197.3C595.6,196.9 596.5,196.4 597.3,196.1C598.1,195.7 599,195.3 599.8,195.1C600.6,194.8 601.5,194.7 602.3,194.7C603.1,194.7 604,194.9 604.8,195.2C605.6,195.5 606.5,196 607.3,196.5C608.1,197 609,197.7 609.8,198.3C610.6,198.9 611.5,199.6 612.3,200.1C613.1,200.6 614,201.1 614.8,201.4C615.6,201.6 616.5,201.7 617.3,201.6C618.1,201.5 619,201.2 619.8,200.7C620.6,200.2 621.5,199.5 622.3,198.8C623.1,198.1 624,197.2 624.8,196.4C625.6,195.6 626.5,194.7 627.3,194.1C628.1,193.5 629,192.9 629.8,192.6C630.6,192.4 631.5,192.3 632.3,192.4C633.1,192.6 634,193 634.8,193.5C635.6,194.1 636.5,194.9 637.3,195.7C638.1,196.6 639,197.6 639.8,198.5C640.6,199.3 641.5,200.3 642.3,201C643.1,201.7 644,202.3 644.8,202.6C645.6,202.9 646.5,203 647.3,202.9C648.1,202.7 649,202.3 649.8,201.7C650.6,201.2 651.5,200.3 652.3,199.5C653.1,198.7 654,197.7 654.8,196.8C655.6,195.9 656.5,195 657.3,194.3C658.1,193.7 659,193.1 659.8,192.8C660.6,192.5 661.5,192.4 662.3,192.5C663.1,192.6 664,193 664.8,193.5C665.6,194 666.5,194.8 667.3,195.5C668.1,196.2 669,197.1 669.8,197.9C670.6,198.6 671.5,199.4 672.3,200C673.1,200.5 674,201 674.8,201.3C675.6,201.5 676.5,201.6 677.3,201.4C678.1,201.3 679.4,200.7 679.8,200.6 M489.8,199.2C490.2,198.8 491.5,197.8 492.3,197.3C493.1,196.7 494,196.2 494.8,195.9C495.6,195.6 496.5,195.4 497.3,195.5C498.1,195.5 499,195.7 499.8,196C500.6,196.4 501.5,196.9 502.3,197.5C503.1,198 504,198.8 504.8,199.4C505.6,200 506.5,200.8 507.3,201.3C508.1,201.8 509,202.3 509.8,202.6C510.6,202.9 511.5,203 512.3,202.9C513.1,202.9 514,202.7 514.8,202.3C515.6,201.9 516.5,201.4 517.3,200.8C518.1,200.2 519,199.5 519.8,198.8C520.6,198.2 521.5,197.5 522.3,197C523.1,196.5 524,196 524.8,195.7C525.6,195.5 526.5,195.4 527.3,195.5C528.1,195.5 529,195.8 529.8,196.2C530.6,196.6 531.5,197.2 532.3,197.8C533.1,198.4 534,199.1 534.8,199.7C535.6,200.4 536.5,201.1 537.3,201.6C538.1,202.1 539,202.5 539.8,202.7C540.6,203 541.5,203 542.3,202.9C543.1,202.8 544,202.5 544.8,202.1C545.6,201.7 546.5,201.1 547.3,200.5C548.1,199.9 549,199.1 549.8,198.5C550.6,197.9 551.5,197.2 552.3,196.7C553.1,196.2 554,195.8 554.8,195.6C555.6,195.4 556.5,195.4 557.3,195.5C558.1,195.6 559,196 559.8,196.4C560.6,196.8 561.5,197.5 562.3,198.1C563.1,198.7 564,199.5 564.8,200.1C565.6,200.7 566.5,201.4 567.3,201.8C568.1,202.3 569,202.7 569.8,202.9C570.6,203 571.5,203.1 572.3,202.9C573.1,202.7 574,202.4 574.8,201.9C575.6,201.4 576.5,200.8 577.3,200.2C578.1,199.5 579,198.8 579.8,198.2C580.6,197.5 581.5,196.9 582.3,196.4C583.1,196 584,195.6 584.8,195.5C585.6,195.3 586.5,195.4 587.3,195.5C588.1,195.7 589,196.1 589.8,196.6C590.6,197.1 591.5,197.8 592.3,198.4C593.1,199 594,199.8 594.8,200.4C595.6,201 596.5,201.7 597.3,202.1C598.1,202.5 599,202.9 599.8,203C600.6,203.1 601.5,203 602.3,202.8C603.1,202.6 604,202.2 604.8,201.7C605.6,201.2 606.5,200.5 607.3,199.8C608.1,199.2 609,198.4 609.8,197.8C610.6,197.2 611.5,196.6 612.3,196.2C613.1,195.8 614,195.5 614.8,195.4C615.6,195.3 616.5,195.4 617.3,195.6C618.1,195.9 619,196.4 619.8,196.9C620.6,197.4 621.5,198.1 622.3,198.7C623.1,199.4 624,200.1 624.8,200.7C625.6,201.3 626.5,201.9 627.3,202.3C628.1,202.7 629,203 629.8,203C630.6,203.1 631.5,203 632.3,202.7C633.1,202.4 634,201.9 634.8,201.4C635.6,200.9 636.5,200.1 637.3,199.5C638.1,198.8 639,198.1 639.8,197.5C640.6,196.9 641.5,196.3 642.3,196C643.1,195.6 644,195.4 644.8,195.3C645.6,195.3 646.5,195.5 647.3,195.8C648.1,196.1 649,196.6 649.8,197.1C650.6,197.7 651.5,198.4 652.3,199.1C653.1,199.7 654,200.5 654.8,201.1C655.6,201.6 656.5,202.2 657.3,202.5C658.1,202.9 659,203.1 659.8,203.1C660.6,203.1 661.5,202.9 662.3,202.6C663.1,202.2 664,201.7 664.8,201.1C665.6,200.6 666.5,199.8 667.3,199.1C668.1,198.5 669,197.7 669.8,197.2C670.6,196.6 671.5,196.1 672.3,195.8C673.1,195.5 674,195.3 674.8,195.3C675.6,195.3 676.5,195.6 677.3,195.9C678.1,196.3 679.4,197.2 679.8,197.4 M489.8,200.3C490.2,200.8 491.5,202.2 492.3,203C493.1,203.8 494,204.5 494.8,204.9C495.6,205.3 496.5,205.5 497.3,205.5C498.1,205.5 499,205.2 499.8,204.7C500.6,204.3 501.5,203.6 502.3,202.9C503.1,202.1 504,201.2 504.8,200.4C505.6,199.6 506.5,198.7 507.3,198C508.1,197.3 509,196.6 509.8,196.2C510.6,195.8 511.5,195.6 512.3,195.5C513.1,195.5 514,195.7 514.8,196.1C515.6,196.4 516.5,197 517.3,197.6C518.1,198.2 519,198.9 519.8,199.6C520.6,200.3 521.5,201 522.3,201.6C523.1,202.1 524,202.6 524.8,203C525.6,203.3 526.5,203.5 527.3,203.5C528.1,203.5 529,203.3 529.8,203.1C530.6,202.8 531.5,202.4 532.3,202C533.1,201.5 534,201 534.8,200.5C535.6,200 536.5,199.5 537.3,199.1C538.1,198.8 539,198.4 539.8,198.3C540.6,198.1 541.5,198 542.3,198.1C543.1,198.1 544,198.3 544.8,198.5C545.6,198.7 546.5,199.1 547.3,199.4C548.1,199.7 549,200 549.8,200.3C550.6,200.6 551.5,200.8 552.3,201C553.1,201.1 554,201.2 554.8,201.2C555.6,201.1 556.5,201 557.3,200.8C558.1,200.7 559,200.4 559.8,200.2C560.6,200 561.5,199.7 562.3,199.5C563.1,199.2 564,199 564.8,199C565.6,198.9 566.5,198.9 567.3,199C568.1,199 569,199.2 569.8,199.5C570.6,199.7 571.5,200.1 572.3,200.4C573.1,200.8 574,201.2 574.8,201.5C575.6,201.8 576.5,202.1 577.3,202.2C578.1,202.4 579,202.5 579.8,202.4C580.6,202.4 581.5,202.2 582.3,201.9C583.1,201.6 584,201.2 584.8,200.7C585.6,200.2 586.5,199.6 587.3,199.1C588.1,198.6 589,198 589.8,197.6C590.6,197.2 591.5,196.8 592.3,196.6C593.1,196.4 594,196.4 594.8,196.5C595.6,196.7 596.5,197 597.3,197.4C598.1,197.9 599,198.5 599.8,199.2C600.6,199.8 601.5,200.7 602.3,201.4C603.1,202.1 604,202.8 604.8,203.4C605.6,203.9 606.5,204.4 607.3,204.6C608.1,204.9 609,205 609.8,204.8C610.6,204.6 611.5,204.2 612.3,203.7C613.1,203.2 614,202.4 614.8,201.6C615.6,200.8 616.5,199.9 617.3,199C618.1,198.2 619,197.3 619.8,196.6C620.6,195.9 621.5,195.3 622.3,195C623.1,194.7 624,194.5 624.8,194.6C625.6,194.8 626.5,195.2 627.3,195.7C628.1,196.2 629,197.1 629.8,197.9C630.6,198.8 631.5,199.8 632.3,200.7C633.1,201.6 634,202.7 634.8,203.4C635.6,204.2 636.5,204.9 637.3,205.3C638.1,205.7 639,205.9 639.8,205.9C640.6,205.8 641.5,205.5 642.3,205C643.1,204.5 644,203.7 644.8,202.8C645.6,202 646.5,201 647.3,200.1C648.1,199.1 649,198.1 649.8,197.3C650.6,196.5 651.5,195.8 652.3,195.3C653.1,194.9 654,194.6 654.8,194.6C655.6,194.6 656.5,194.8 657.3,195.3C658.1,195.7 659,196.4 659.8,197.1C660.6,197.8 661.5,198.8 662.3,199.6C663.1,200.5 664,201.4 664.8,202.2C665.6,202.9 666.5,203.6 667.3,204.1C668.1,204.5 669,204.8 669.8,204.9C670.6,204.9 671.5,204.8 672.3,204.4C673.1,204.1 674,203.5 674.8,202.9C675.6,202.3 676.5,201.5 677.3,200.8C678.1,200.1 679.4,199.1 679.8,198.7 M489.8,205.2C490.2,205.2 491.5,205.5 492.3,205.3C493.1,205.1 494,204.6 494.8,204C495.6,203.4 496.5,202.5 497.3,201.8C498.1,201 499,200.1 499.8,199.4C500.6,198.7 501.5,198.1 502.3,197.8C503.1,197.4 504,197.3 504.8,197.4C505.6,197.6 506.5,198 507.3,198.5C508.1,199.1 509,199.9 509.8,200.7C510.6,201.5 511.5,202.4 512.3,203.2C513.1,203.9 514,204.6 514.8,205C515.6,205.5 516.5,205.7 517.3,205.7C518.1,205.6 519,205.3 519.8,204.8C520.6,204.3 521.5,203.4 522.3,202.7C523.1,201.9 524,200.9 524.8,200.1C525.6,199.3 526.5,198.5 527.3,198C528.1,197.5 529,197.2 529.8,197.1C530.6,197.1 531.5,197.3 532.3,197.8C533.1,198.2 534,199 534.8,199.7C535.6,200.5 536.5,201.5 537.3,202.4C538.1,203.2 539,204.1 539.8,204.7C540.6,205.2 541.5,205.7 542.3,205.8C543.1,206 544,205.8 544.8,205.5C545.6,205.1 546.5,204.4 547.3,203.6C548.1,202.9 549,201.9 549.8,201C550.6,200.2 551.5,199.2 552.3,198.5C553.1,197.9 554,197.3 554.8,197.1C555.6,196.8 556.5,196.9 557.3,197.1C558.1,197.4 559,198.1 559.8,198.8C560.6,199.5 561.5,200.5 562.3,201.4C563.1,202.3 564,203.3 564.8,204C565.6,204.8 566.5,205.5 567.3,205.8C568.1,206.1 569,206.2 569.8,206C570.6,205.8 571.5,205.3 572.3,204.6C573.1,204 574,203 574.8,202.1C575.6,201.2 576.5,200.1 577.3,199.3C578.1,198.5 579,197.7 579.8,197.2C580.6,196.8 581.5,196.6 582.3,196.7C583.1,196.8 584,197.2 584.8,197.8C585.6,198.4 586.5,199.4 587.3,200.3C588.1,201.2 589,202.3 589.8,203.2C590.6,204 591.5,205 592.3,205.5C593.1,206 594,206.4 594.8,206.4C595.6,206.4 596.5,206 597.3,205.5C598.1,205 599,204.1 599.8,203.2C600.6,202.3 601.5,201.1 602.3,200.2C603.1,199.3 604,198.3 604.8,197.7C605.6,197.1 606.5,196.6 607.3,196.5C608.1,196.4 609,196.6 609.8,197C610.6,197.5 611.5,198.3 612.3,199.2C613.1,200 614,201.2 614.8,202.1C615.6,203.1 616.5,204.2 617.3,204.9C618.1,205.6 619,206.2 619.8,206.4C620.6,206.7 621.5,206.6 622.3,206.2C623.1,205.9 624,205.1 624.8,204.3C625.6,203.5 626.5,202.3 627.3,201.3C628.1,200.4 629,199.2 629.8,198.4C630.6,197.6 631.5,196.9 632.3,196.6C633.1,196.2 634,196.2 634.8,196.4C635.6,196.7 636.5,197.3 637.3,198.1C638.1,198.8 639,200 639.8,201C640.6,201.9 641.5,203.1 642.3,204C643.1,204.9 644,205.8 644.8,206.2C645.6,206.7 646.5,206.8 647.3,206.7C648.1,206.6 649,206 649.8,205.3C650.6,204.6 651.5,203.6 652.3,202.6C653.1,201.6 654,200.3 654.8,199.4C655.6,198.5 656.5,197.5 657.3,196.9C658.1,196.4 659,196 659.8,196.1C660.6,196.1 661.5,196.5 662.3,197.1C663.1,197.7 664,198.7 664.8,199.7C665.6,200.7 666.5,201.9 667.3,202.9C668.1,203.9 669,205 669.8,205.7C670.6,206.3 671.5,206.8 672.3,206.9C673.1,207 674,206.7 674.8,206.2C675.6,205.7 676.5,204.8 677.3,203.8C678.1,202.9 679.4,201.1 679.8,200.6 M489.8,205C490.2,205.4 491.5,206.6 492.3,207.1C493.1,207.6 494,208 494.8,207.9C495.6,207.8 496.5,207.4 497.3,206.6C498.1,205.8 499,204.5 499.8,203.4C500.6,202.2 501.5,200.6 502.3,199.5C503.1,198.5 504,197.4 504.8,196.9C505.6,196.5 506.5,196.4 507.3,196.8C508.1,197.1 509,198.1 509.8,199.1C510.6,200 511.5,201.5 512.3,202.6C513.1,203.7 514,205 514.8,205.7C515.6,206.4 516.5,206.9 517.3,207C518.1,207.1 519,206.8 519.8,206.4C520.6,206 521.5,205.2 522.3,204.7C523.1,204.2 524,203.6 524.8,203.3C525.6,203.1 526.5,203.1 527.3,203.2C528.1,203.4 529,203.9 529.8,204.2C530.6,204.6 531.5,205.2 532.3,205.4C533.1,205.6 534,205.7 534.8,205.4C535.6,205.1 536.5,204.5 537.3,203.7C538.1,202.9 539,201.7 539.8,200.7C540.6,199.7 541.5,198.6 542.3,197.9C543.1,197.3 544,196.8 544.8,196.9C545.6,197 546.5,197.6 547.3,198.4C548.1,199.2 549,200.7 549.8,201.9C550.6,203.2 551.5,204.8 552.3,205.9C553.1,207 554,208 554.8,208.5C555.6,209 556.5,209 557.3,208.8C558.1,208.5 559,207.6 559.8,206.9C560.6,206.1 561.5,204.9 562.3,204.1C563.1,203.2 564,202.4 564.8,201.9C565.6,201.5 566.5,201.3 567.3,201.3C568.1,201.4 569,201.8 569.8,202.1C570.6,202.4 571.5,203 572.3,203.2C573.1,203.4 574,203.5 574.8,203.4C575.6,203.2 576.5,202.7 577.3,202.1C578.1,201.6 579,200.7 579.8,200.1C580.6,199.5 581.5,198.8 582.3,198.7C583.1,198.5 584,198.6 584.8,199C585.6,199.5 586.5,200.5 587.3,201.5C588.1,202.6 589,204.1 589.8,205.3C590.6,206.4 591.5,207.8 592.3,208.5C593.1,209.3 594,209.8 594.8,209.8C595.6,209.7 596.5,209.1 597.3,208.3C598.1,207.6 599,206.2 599.8,205C600.6,203.9 601.5,202.4 602.3,201.5C603.1,200.5 604,199.6 604.8,199.2C605.6,198.8 606.5,198.9 607.3,199.1C608.1,199.3 609,200 609.8,200.6C610.6,201.1 611.5,201.9 612.3,202.4C613.1,202.8 614,203.2 614.8,203.2C615.6,203.3 616.5,203 617.3,202.8C618.1,202.5 619,201.9 619.8,201.6C620.6,201.3 621.5,200.9 622.3,200.9C623.1,201 624,201.3 624.8,201.8C625.6,202.4 626.5,203.4 627.3,204.3C628.1,205.2 629,206.4 629.8,207.2C630.6,208 631.5,208.8 632.3,209C633.1,209.3 634,209.1 634.8,208.6C635.6,208 636.5,206.9 637.3,205.8C638.1,204.6 639,203 639.8,201.8C640.6,200.5 641.5,199.2 642.3,198.4C643.1,197.6 644,197.1 644.8,197.1C645.6,197.1 646.5,197.6 647.3,198.3C648.1,198.9 649,200.1 649.8,201C650.6,201.9 651.5,203 652.3,203.7C653.1,204.4 654,204.9 654.8,205.1C655.6,205.3 656.5,205.1 657.3,204.9C658.1,204.6 659,204 659.8,203.7C660.6,203.4 661.5,203 662.3,202.9C663.1,202.9 664,203.1 664.8,203.4C665.6,203.8 666.5,204.5 667.3,205.1C668.1,205.7 669,206.5 669.8,206.9C670.6,207.2 671.5,207.5 672.3,207.4C673.1,207.2 674,206.6 674.8,205.8C675.6,204.9 676.5,203.6 677.3,202.4C678.1,201.3 679.4,199.4 679.8,198.8 M489.8,202.4C490.2,202.4 491.5,202.3 492.3,202.4C493.1,202.5 494,202.8 494.8,203.1C495.6,203.4 496.5,203.7 497.3,204.1C498.1,204.5 499,204.9 499.8,205.2C500.6,205.6 501.5,205.9 502.3,206.2C503.1,206.4 504,206.6 504.8,206.6C505.6,206.7 506.5,206.7 507.3,206.6C508.1,206.4 509,206.2 509.8,205.9C510.6,205.7 511.5,205.3 512.3,205C513.1,204.7 514,204.3 514.8,204C515.6,203.7 516.5,203.4 517.3,203.2C518.1,203 519,202.8 519.8,202.8C520.6,202.8 521.5,202.8 522.3,202.9C523.1,203 524,203.2 524.8,203.5C525.6,203.7 526.5,204 527.3,204.3C528.1,204.6 529,204.9 529.8,205.2C530.6,205.5 531.5,205.7 532.3,205.9C533.1,206 534,206.2 534.8,206.2C535.6,206.2 536.5,206.2 537.3,206.1C538.1,205.9 539,205.7 539.8,205.5C540.6,205.3 541.5,205 542.3,204.8C543.1,204.6 544,204.3 544.8,204.1C545.6,203.8 546.5,203.6 547.3,203.5C548.1,203.4 549,203.3 549.8,203.3C550.6,203.3 551.5,203.3 552.3,203.4C553.1,203.5 554,203.7 554.8,203.9C555.6,204.1 556.5,204.3 557.3,204.5C558.1,204.7 559,204.9 559.8,205.1C560.6,205.3 561.5,205.5 562.3,205.6C563.1,205.7 564,205.7 564.8,205.7C565.6,205.7 566.5,205.6 567.3,205.5C568.1,205.5 569,205.3 569.8,205.1C570.6,205 571.5,204.8 572.3,204.6C573.1,204.5 574,204.3 574.8,204.1C575.6,204 576.5,203.9 577.3,203.8C578.1,203.8 579,203.7 579.8,203.8C580.6,203.8 581.5,203.8 582.3,203.9C583.1,204 584,204.1 584.8,204.3C585.6,204.4 586.5,204.5 587.3,204.7C588.1,204.8 589,204.9 589.8,205C590.6,205.1 591.5,205.2 592.3,205.2C593.1,205.2 594,205.2 594.8,205.2C595.6,205.2 596.5,205.1 597.3,205C598.1,205 599,204.9 599.8,204.8C600.6,204.7 601.5,204.6 602.3,204.5C603.1,204.4 604,204.3 604.8,204.3C605.6,204.2 606.5,204.2 607.3,204.2C608.1,204.2 609,204.2 609.8,204.2C610.6,204.3 611.5,204.4 612.3,204.4C613.1,204.5 614,204.6 614.8,204.6C615.6,204.7 616.5,204.8 617.3,204.8C618.1,204.9 619,204.9 619.8,204.9C620.6,204.9 621.5,204.9 622.3,204.9C623.1,204.8 624,204.8 624.8,204.7C625.6,204.7 626.5,204.6 627.3,204.5C628.1,204.5 629,204.4 629.8,204.4C630.6,204.4 631.5,204.3 632.3,204.3C633.1,204.3 634,204.4 634.8,204.4C635.6,204.4 636.5,204.5 637.3,204.6C638.1,204.6 639,204.7 639.8,204.8C640.6,204.8 641.5,204.9 642.3,204.9C643.1,205 644,205 644.8,205C645.6,205 646.5,205 647.3,204.9C648.1,204.9 649,204.8 649.8,204.7C650.6,204.7 651.5,204.6 652.3,204.5C653.1,204.4 654,204.3 654.8,204.2C655.6,204.1 656.5,204.1 657.3,204.1C658.1,204 659,204 659.8,204.1C660.6,204.1 661.5,204.2 662.3,204.2C663.1,204.3 664,204.4 664.8,204.6C665.6,204.7 666.5,204.8 667.3,204.9C668.1,205.1 669,205.2 669.8,205.3C670.6,205.3 671.5,205.4 672.3,205.4C673.1,205.4 674,205.4 674.8,205.3C675.6,205.3 676.5,205.1 677.3,205C678.1,204.9 679.4,204.6 679.8,204.6 M489.8,207.2C490.2,206.6 491.5,204.8 492.3,203.8C493.1,202.8 494,201.9 494.8,201.3C495.6,200.8 496.5,200.5 497.3,200.5C498.1,200.6 499,201 499.8,201.5C500.6,202.1 501.5,203 502.3,203.8C503.1,204.7 504,205.8 504.8,206.6C505.6,207.4 506.5,208.3 507.3,208.8C508.1,209.4 509,209.8 509.8,209.9C510.6,210 511.5,209.9 512.3,209.7C513.1,209.5 514,209 514.8,208.5C515.6,208.1 516.5,207.6 517.3,207.2C518.1,206.9 519,206.6 519.8,206.5C520.6,206.4 521.5,206.5 522.3,206.7C523.1,206.9 524,207.4 524.8,207.8C525.6,208.2 526.5,208.9 527.3,209.3C528.1,209.7 529,210.2 529.8,210.3C530.6,210.5 531.5,210.5 532.3,210.2C533.1,210 534,209.4 534.8,208.8C535.6,208.1 536.5,207.1 537.3,206.2C538.1,205.3 539,204.2 539.8,203.3C540.6,202.5 541.5,201.6 542.3,201.1C543.1,200.6 544,200.3 544.8,200.3C545.6,200.4 546.5,200.8 547.3,201.4C548.1,202.1 549,203.1 549.8,204.1C550.6,205.2 551.5,206.5 552.3,207.6C553.1,208.7 554,210 554.8,210.8C555.6,211.7 556.5,212.4 557.3,212.8C558.1,213.1 559,213.2 559.8,212.9C560.6,212.7 561.5,212.1 562.3,211.5C563.1,210.8 564,209.9 564.8,209.1C565.6,208.2 566.5,207.3 567.3,206.6C568.1,205.9 569,205.2 569.8,204.9C570.6,204.5 571.5,204.3 572.3,204.4C573.1,204.4 574,204.7 574.8,205C575.6,205.3 576.5,205.9 577.3,206.2C578.1,206.6 579,207 579.8,207.3C580.6,207.5 581.5,207.6 582.3,207.5C583.1,207.4 584,207.1 584.8,206.7C585.6,206.3 586.5,205.7 587.3,205.2C588.1,204.7 589,204 589.8,203.7C590.6,203.3 591.5,203 592.3,203C593.1,202.9 594,203.2 594.8,203.6C595.6,204 596.5,204.8 597.3,205.6C598.1,206.5 599,207.6 599.8,208.6C600.6,209.5 601.5,210.7 602.3,211.5C603.1,212.3 604,213 604.8,213.4C605.6,213.7 606.5,213.8 607.3,213.5C608.1,213.3 609,212.6 609.8,211.8C610.6,211 611.5,209.9 612.3,208.8C613.1,207.7 614,206.4 614.8,205.3C615.6,204.3 616.5,203.2 617.3,202.5C618.1,201.8 619,201.3 619.8,201.1C620.6,201 621.5,201.2 622.3,201.5C623.1,201.9 624,202.6 624.8,203.3C625.6,204 626.5,205 627.3,205.7C628.1,206.5 629,207.3 629.8,207.8C630.6,208.3 631.5,208.8 632.3,208.9C633.1,209.1 634,209 634.8,208.9C635.6,208.7 636.5,208.3 637.3,207.9C638.1,207.6 639,207.1 639.8,206.8C640.6,206.5 641.5,206.2 642.3,206.2C643.1,206.1 644,206.3 644.8,206.5C645.6,206.8 646.5,207.4 647.3,207.9C648.1,208.4 649,209.1 649.8,209.6C650.6,210.2 651.5,210.7 652.3,211C653.1,211.3 654,211.4 654.8,211.3C655.6,211.1 656.5,210.7 657.3,210C658.1,209.4 659,208.4 659.8,207.5C660.6,206.5 661.5,205.3 662.3,204.3C663.1,203.3 664,202.3 664.8,201.6C665.6,200.9 666.5,200.3 667.3,200.1C668.1,200 669,200.2 669.8,200.6C670.6,201 671.5,201.9 672.3,202.8C673.1,203.7 674,205 674.8,206.1C675.6,207.2 676.5,208.4 677.3,209.4C678.1,210.3 679.4,211.3 679.8,211.7 M489.8,203.6C490.2,203 491.5,200.7 492.3,200.2C493.1,199.7 494,199.8 494.8,200.5C495.6,201.2 496.5,202.9 497.3,204.5C498.1,206.1 499,208.4 499.8,210.1C500.6,211.8 501.5,213.6 502.3,214.5C503.1,215.4 504,215.8 504.8,215.5C505.6,215.2 506.5,213.9 507.3,212.5C508.1,211.1 509,208.8 509.8,207C510.6,205.2 511.5,203.1 512.3,201.8C513.1,200.6 514,199.6 514.8,199.5C515.6,199.5 516.5,200.2 517.3,201.4C518.1,202.5 519,204.6 519.8,206.4C520.6,208.2 521.5,210.6 522.3,212.1C523.1,213.6 524,215.1 524.8,215.6C525.6,216.1 526.5,215.8 527.3,215C528.1,214.2 529,212.4 529.8,210.8C530.6,209.1 531.5,206.6 532.3,204.9C533.1,203.2 534,201.3 534.8,200.4C535.6,199.5 536.5,199.2 537.3,199.6C538.1,200 539,201.4 539.8,202.8C540.6,204.3 541.5,206.7 542.3,208.5C543.1,210.4 544,212.6 544.8,213.8C545.6,215 546.5,215.9 547.3,215.9C548.1,216 549,215.1 549.8,213.9C550.6,212.7 551.5,210.5 552.3,208.7C553.1,206.9 554,204.5 554.8,203C555.6,201.5 556.5,200.1 557.3,199.6C558.1,199.2 559,199.5 559.8,200.3C560.6,201.2 561.5,203 562.3,204.8C563.1,206.5 564,208.9 564.8,210.6C565.6,212.3 566.5,214.1 567.3,215C568.1,215.8 569,216.1 569.8,215.6C570.6,215.1 571.5,213.7 572.3,212.2C573.1,210.7 574,208.3 574.8,206.5C575.6,204.8 576.5,202.6 577.3,201.5C578.1,200.3 579,199.5 579.8,199.5C580.6,199.6 581.5,200.5 582.3,201.7C583.1,202.9 584,205.1 584.8,206.9C585.6,208.6 586.5,211 587.3,212.4C588.1,213.8 589,215.1 589.8,215.5C590.6,215.9 591.5,215.5 592.3,214.6C593.1,213.7 594,211.9 594.8,210.2C595.6,208.6 596.5,206.2 597.3,204.6C598.1,203 599,201.3 599.8,200.6C600.6,199.8 601.5,199.6 602.3,200.1C603.1,200.6 604,202 604.8,203.5C605.6,205 606.5,207.2 607.3,208.9C608.1,210.6 609,212.6 609.8,213.6C610.6,214.7 611.5,215.4 612.3,215.3C613.1,215.2 614,214.3 614.8,213.1C615.6,211.9 616.5,209.8 617.3,208.2C618.1,206.5 619,204.4 619.8,203.1C620.6,201.8 621.5,200.6 622.3,200.3C623.1,200.1 624,200.5 624.8,201.3C625.6,202.2 626.5,203.9 627.3,205.5C628.1,207 629,209.2 629.8,210.7C630.6,212.1 631.5,213.6 632.3,214.2C633.1,214.9 634,214.9 634.8,214.4C635.6,213.9 636.5,212.6 637.3,211.2C638.1,209.9 639,207.8 639.8,206.3C640.6,204.8 641.5,203 642.3,202.1C643.1,201.2 644,200.7 644.8,200.8C645.6,200.9 646.5,201.9 647.3,203C648.1,204.1 649,205.9 649.8,207.4C650.6,208.9 651.5,210.8 652.3,211.9C653.1,213 654,213.9 654.8,214.1C655.6,214.3 656.5,213.9 657.3,213.1C658.1,212.3 659,210.7 659.8,209.3C660.6,208 661.5,206.1 662.3,204.8C663.1,203.6 664,202.3 664.8,201.9C665.6,201.4 666.5,201.4 667.3,201.9C668.1,202.3 669,203.6 669.8,204.8C670.6,206 671.5,207.7 672.3,209C673.1,210.3 674,211.8 674.8,212.5C675.6,213.2 676.5,213.6 677.3,213.4C678.1,213.2 679.4,211.8 679.8,211.4 M489.8,216.3C490.2,216.3 491.5,216.5 492.3,216.1C493.1,215.7 494,214.9 494.8,214C495.6,213.1 496.5,211.7 497.3,210.5C498.1,209.3 499,207.9 499.8,206.7C500.6,205.5 501.5,204.3 502.3,203.5C503.1,202.7 504,202.1 504.8,201.9C505.6,201.6 506.5,201.7 507.3,202.1C508.1,202.4 509,203.2 509.8,204C510.6,204.7 511.5,205.9 512.3,206.8C513.1,207.8 514,208.9 514.8,209.8C515.6,210.6 516.5,211.5 517.3,212C518.1,212.5 519,212.8 519.8,212.9C520.6,213 521.5,212.8 522.3,212.5C523.1,212.2 524,211.7 524.8,211.2C525.6,210.7 526.5,210 527.3,209.5C528.1,209 529,208.5 529.8,208.3C530.6,208 531.5,207.8 532.3,207.8C533.1,207.8 534,207.9 534.8,208.1C535.6,208.4 536.5,208.8 537.3,209.1C538.1,209.4 539,209.8 539.8,210C540.6,210.2 541.5,210.3 542.3,210.3C543.1,210.3 544,210 544.8,209.7C545.6,209.3 546.5,208.8 547.3,208.2C548.1,207.6 549,206.9 549.8,206.2C550.6,205.6 551.5,204.9 552.3,204.5C553.1,204.1 554,203.8 554.8,203.8C555.6,203.8 556.5,204 557.3,204.5C558.1,204.9 559,205.7 559.8,206.6C560.6,207.4 561.5,208.6 562.3,209.7C563.1,210.7 564,212 564.8,212.9C565.6,213.8 566.5,214.8 567.3,215.3C568.1,215.8 569,216.2 569.8,216.1C570.6,216.1 571.5,215.7 572.3,215C573.1,214.3 574,213.3 574.8,212.2C575.6,211.1 576.5,209.6 577.3,208.4C578.1,207.1 579,205.7 579.8,204.7C580.6,203.6 581.5,202.6 582.3,202.1C583.1,201.5 584,201.2 584.8,201.2C585.6,201.3 586.5,201.7 587.3,202.3C588.1,203 589,204 589.8,205C590.6,206 591.5,207.3 592.3,208.4C593.1,209.5 594,210.7 594.8,211.5C595.6,212.4 596.5,213.1 597.3,213.6C598.1,214 599,214.1 599.8,214.1C600.6,214 601.5,213.6 602.3,213.1C603.1,212.6 604,211.9 604.8,211.2C605.6,210.5 606.5,209.7 607.3,209.1C608.1,208.5 609,207.9 609.8,207.5C610.6,207.1 611.5,206.9 612.3,206.8C613.1,206.8 614,206.9 614.8,207.1C615.6,207.4 616.5,207.8 617.3,208.1C618.1,208.4 619,208.8 619.8,209.1C620.6,209.3 621.5,209.5 622.3,209.5C623.1,209.5 624,209.4 624.8,209.1C625.6,208.9 626.5,208.4 627.3,208C628.1,207.5 629,206.9 629.8,206.5C630.6,206 631.5,205.5 632.3,205.3C633.1,205 634,204.9 634.8,205C635.6,205.2 636.5,205.5 637.3,206C638.1,206.6 639,207.4 639.8,208.2C640.6,209.1 641.5,210.1 642.3,211.1C643.1,212 644,213 644.8,213.7C645.6,214.4 646.5,215.1 647.3,215.3C648.1,215.6 649,215.6 649.8,215.2C650.6,214.9 651.5,214.2 652.3,213.4C653.1,212.5 654,211.3 654.8,210.1C655.6,208.9 656.5,207.5 657.3,206.3C658.1,205.1 659,203.9 659.8,203C660.6,202.2 661.5,201.5 662.3,201.2C663.1,200.9 664,201 664.8,201.3C665.6,201.7 666.5,202.4 667.3,203.3C668.1,204.2 669,205.5 669.8,206.7C670.6,207.8 671.5,209.2 672.3,210.3C673.1,211.5 674,212.6 674.8,213.4C675.6,214.1 676.5,214.7 677.3,214.9C678.1,215.2 679.4,214.8 679.8,214.8 M489.8,209.2C490.2,209.2 491.5,209.1 492.3,209.1C493.1,209.2 494,209.4 494.8,209.6C495.6,209.8 496.5,210 497.3,210.3C498.1,210.6 499,211 499.8,211.3C500.6,211.6 501.5,211.9 502.3,212.1C503.1,212.3 504,212.5 504.8,212.7C505.6,212.8 506.5,212.8 507.3,212.8C508.1,212.8 509,212.6 509.8,212.5C510.6,212.3 511.5,212.1 512.3,211.8C513.1,211.6 514,211.3 514.8,211C515.6,210.7 516.5,210.4 517.3,210.2C518.1,210 519,209.8 519.8,209.6C520.6,209.5 521.5,209.4 522.3,209.4C523.1,209.4 524,209.5 524.8,209.6C525.6,209.7 526.5,209.9 527.3,210.1C528.1,210.3 529,210.6 529.8,210.8C530.6,211.1 531.5,211.4 532.3,211.6C533.1,211.8 534,212 534.8,212.2C535.6,212.3 536.5,212.4 537.3,212.5C538.1,212.5 539,212.5 539.8,212.4C540.6,212.3 541.5,212.2 542.3,212C543.1,211.8 544,211.6 544.8,211.4C545.6,211.2 546.5,210.9 547.3,210.7C548.1,210.5 549,210.3 549.8,210.1C550.6,209.9 551.5,209.8 552.3,209.7C553.1,209.7 554,209.7 554.8,209.7C555.6,209.8 556.5,209.9 557.3,210C558.1,210.1 559,210.3 559.8,210.5C560.6,210.7 561.5,210.9 562.3,211.1C563.1,211.3 564,211.5 564.8,211.7C565.6,211.9 566.5,212 567.3,212.1C568.1,212.2 569,212.2 569.8,212.2C570.6,212.2 571.5,212.2 572.3,212.1C573.1,212 574,211.8 574.8,211.7C575.6,211.5 576.5,211.3 577.3,211.1C578.1,211 579,210.8 579.8,210.6C580.6,210.4 581.5,210.3 582.3,210.2C583.1,210 584,210 584.8,209.9C585.6,209.9 586.5,209.9 587.3,210C588.1,210 589,210.1 589.8,210.2C590.6,210.4 591.5,210.5 592.3,210.7C593.1,210.9 594,211 594.8,211.2C595.6,211.4 596.5,211.5 597.3,211.7C598.1,211.8 599,211.9 599.8,212C600.6,212 601.5,212.1 602.3,212.1C603.1,212 604,212 604.8,211.9C605.6,211.8 606.5,211.7 607.3,211.5C608.1,211.4 609,211.2 609.8,211.1C610.6,210.9 611.5,210.7 612.3,210.6C613.1,210.5 614,210.3 614.8,210.2C615.6,210.1 616.5,210.1 617.3,210C618.1,210 619,210 619.8,210.1C620.6,210.1 621.5,210.2 622.3,210.3C623.1,210.4 624,210.6 624.8,210.7C625.6,210.9 626.5,211.1 627.3,211.2C628.1,211.3 629,211.5 629.8,211.6C630.6,211.7 631.5,211.9 632.3,211.9C633.1,212 634,212 634.8,212C635.6,212 636.5,212 637.3,211.9C638.1,211.8 639,211.7 639.8,211.5C640.6,211.4 641.5,211.2 642.3,211.1C643.1,210.9 644,210.8 644.8,210.6C645.6,210.5 646.5,210.3 647.3,210.2C648.1,210.1 649,210 649.8,210C650.6,210 651.5,210 652.3,210C653.1,210.1 654,210.2 654.8,210.3C655.6,210.4 656.5,210.6 657.3,210.7C658.1,210.9 659,211.1 659.8,211.2C660.6,211.4 661.5,211.6 662.3,211.7C663.1,211.8 664,212 664.8,212C665.6,212.1 666.5,212.1 667.3,212.1C668.1,212.1 669,212.1 669.8,212C670.6,211.9 671.5,211.7 672.3,211.6C673.1,211.4 674,211.2 674.8,211C675.6,210.9 676.5,210.7 677.3,210.5C678.1,210.3 679.4,210.1 679.8,210 M489.8,209.3C490.2,209 491.5,208.1 492.3,207.7C493.1,207.4 494,207.1 494.8,207.1C495.6,207.2 496.5,207.4 497.3,208C498.1,208.5 499,209.3 499.8,210.2C500.6,211.1 501.5,212.3 502.3,213.3C503.1,214.3 504,215.5 504.8,216.3C505.6,217.2 506.5,217.9 507.3,218.3C508.1,218.7 509,218.8 509.8,218.5C510.6,218.2 511.5,217.5 512.3,216.7C513.1,215.8 514,214.5 514.8,213.3C515.6,212.1 516.5,210.6 517.3,209.4C518.1,208.1 519,206.8 519.8,206C520.6,205.1 521.5,204.4 522.3,204.1C523.1,203.9 524,204 524.8,204.5C525.6,204.9 526.5,205.8 527.3,206.8C528.1,207.8 529,209.2 529.8,210.4C530.6,211.7 531.5,213.1 532.3,214.2C533.1,215.4 534,216.5 534.8,217.1C535.6,217.8 536.5,218.2 537.3,218.3C538.1,218.4 539,218.1 539.8,217.6C540.6,217.1 541.5,216.2 542.3,215.3C543.1,214.5 544,213.3 544.8,212.4C545.6,211.4 546.5,210.4 547.3,209.7C548.1,209 549,208.3 549.8,208C550.6,207.7 551.5,207.6 552.3,207.7C553.1,207.8 554,208.2 554.8,208.6C555.6,209 556.5,209.7 557.3,210.2C558.1,210.7 559,211.3 559.8,211.7C560.6,212.1 561.5,212.4 562.3,212.6C563.1,212.8 564,212.7 564.8,212.7C565.6,212.6 566.5,212.3 567.3,212C568.1,211.8 569,211.5 569.8,211.3C570.6,211.1 571.5,210.9 572.3,210.8C573.1,210.8 574,210.9 574.8,211.2C575.6,211.4 576.5,211.9 577.3,212.3C578.1,212.8 579,213.4 579.8,213.8C580.6,214.3 581.5,214.8 582.3,215.1C583.1,215.4 584,215.6 584.8,215.5C585.6,215.4 586.5,215.1 587.3,214.6C588.1,214.1 589,213.3 589.8,212.5C590.6,211.6 591.5,210.5 592.3,209.6C593.1,208.7 594,207.6 594.8,206.9C595.6,206.2 596.5,205.6 597.3,205.4C598.1,205.1 599,205.2 599.8,205.6C600.6,205.9 601.5,206.7 602.3,207.6C603.1,208.5 604,209.8 604.8,211C605.6,212.2 606.5,213.7 607.3,214.9C608.1,216 609,217.2 609.8,218C610.6,218.7 611.5,219.3 612.3,219.4C613.1,219.5 614,219.2 614.8,218.6C615.6,218 616.5,217 617.3,215.9C618.1,214.8 619,213.4 619.8,212.1C620.6,210.8 621.5,209.3 622.3,208.2C623.1,207.1 624,206.1 624.8,205.5C625.6,204.9 626.5,204.6 627.3,204.6C628.1,204.7 629,205.1 629.8,205.8C630.6,206.4 631.5,207.4 632.3,208.4C633.1,209.4 634,210.7 634.8,211.7C635.6,212.7 636.5,213.8 637.3,214.6C638.1,215.3 639,215.9 639.8,216.2C640.6,216.5 641.5,216.5 642.3,216.4C643.1,216.2 644,215.7 644.8,215.2C645.6,214.7 646.5,213.9 647.3,213.3C648.1,212.7 649,211.9 649.8,211.4C650.6,210.9 651.5,210.5 652.3,210.3C653.1,210 654,210 654.8,210C655.6,210.1 656.5,210.4 657.3,210.6C658.1,210.8 659,211.2 659.8,211.5C660.6,211.7 661.5,212 662.3,212.1C663.1,212.2 664,212.2 664.8,212C665.6,211.9 666.5,211.6 667.3,211.2C668.1,210.9 669,210.4 669.8,210C670.6,209.6 671.5,209.2 672.3,209C673.1,208.7 674,208.6 674.8,208.7C675.6,208.8 676.5,209.1 677.3,209.6C678.1,210.1 679.4,211.2 679.8,211.6 M489.8,213.8C490.2,213.9 491.5,214.2 492.3,214.4C493.1,214.7 494,215.1 494.8,215.4C495.6,215.6 496.5,215.9 497.3,215.9C498.1,215.9 499,215.7 499.8,215.3C500.6,215 501.5,214.3 502.3,213.7C503.1,213.1 504,212.3 504.8,211.8C505.6,211.2 506.5,210.7 507.3,210.6C508.1,210.4 509,210.5 509.8,210.9C510.6,211.3 511.5,212.1 512.3,212.8C513.1,213.5 514,214.6 514.8,215.4C515.6,216.1 516.5,217 517.3,217.4C518.1,217.8 519,218 519.8,217.9C520.6,217.8 521.5,217.3 522.3,216.7C523.1,216.2 524,215.2 524.8,214.5C525.6,213.8 526.5,212.9 527.3,212.4C528.1,211.9 529,211.5 529.8,211.4C530.6,211.3 531.5,211.5 532.3,211.8C533.1,212.1 534,212.6 534.8,213.1C535.6,213.5 536.5,214 537.3,214.3C538.1,214.6 539,214.7 539.8,214.7C540.6,214.8 541.5,214.5 542.3,214.4C543.1,214.2 544,213.8 544.8,213.7C545.6,213.5 546.5,213.3 547.3,213.4C548.1,213.5 549,213.7 549.8,214C550.6,214.3 551.5,214.9 552.3,215.3C553.1,215.7 554,216.2 554.8,216.4C555.6,216.6 556.5,216.8 557.3,216.6C558.1,216.4 559,215.9 559.8,215.3C560.6,214.8 561.5,213.9 562.3,213.2C563.1,212.5 564,211.6 564.8,211.1C565.6,210.6 566.5,210.2 567.3,210.2C568.1,210.1 569,210.5 569.8,211C570.6,211.5 571.5,212.4 572.3,213.2C573.1,214 574,215.1 574.8,215.8C575.6,216.5 576.5,217.1 577.3,217.4C578.1,217.7 579,217.7 579.8,217.4C580.6,217.2 581.5,216.6 582.3,216C583.1,215.5 584,214.6 584.8,214.1C585.6,213.5 586.5,212.9 587.3,212.6C588.1,212.3 589,212.2 589.8,212.2C590.6,212.3 591.5,212.6 592.3,212.9C593.1,213.1 594,213.6 594.8,213.8C595.6,214.1 596.5,214.3 597.3,214.3C598.1,214.4 599,214.2 599.8,214C600.6,213.8 601.5,213.4 602.3,213.2C603.1,213 604,212.7 604.8,212.7C605.6,212.6 606.5,212.8 607.3,213.1C608.1,213.3 609,213.9 609.8,214.4C610.6,215 611.5,215.7 612.3,216.2C613.1,216.6 614,217.1 614.8,217.3C615.6,217.4 616.5,217.3 617.3,216.9C618.1,216.6 619,215.9 619.8,215.1C620.6,214.4 621.5,213.4 622.3,212.6C623.1,211.9 624,211 624.8,210.6C625.6,210.2 626.5,210 627.3,210.1C628.1,210.3 629,210.8 629.8,211.4C630.6,212 631.5,213 632.3,213.7C633.1,214.5 634,215.4 634.8,215.9C635.6,216.5 636.5,216.9 637.3,217C638.1,217.2 639,216.9 639.8,216.6C640.6,216.3 641.5,215.7 642.3,215.2C643.1,214.8 644,214.1 644.8,213.8C645.6,213.4 646.5,213.1 647.3,213C648.1,212.9 649,213.1 649.8,213.2C650.6,213.4 651.5,213.8 652.3,214C653.1,214.2 654,214.4 654.8,214.4C655.6,214.5 656.5,214.3 657.3,214.1C658.1,213.9 659,213.5 659.8,213.1C660.6,212.8 661.5,212.3 662.3,212.1C663.1,211.9 664,211.8 664.8,211.9C665.6,212.1 666.5,212.5 667.3,213C668.1,213.5 669,214.3 669.8,215C670.6,215.7 671.5,216.5 672.3,217C673.1,217.4 674,217.8 674.8,217.8C675.6,217.8 676.5,217.5 677.3,217C678.1,216.4 679.4,215.1 679.8,214.7 M489.8,213.2C490.2,213.5 491.5,214.4 492.3,215C493.1,215.6 494,216.2 494.8,216.7C495.6,217.2 496.5,217.6 497.3,217.8C498.1,218 499,218.1 499.8,218C500.6,217.9 501.5,217.7 502.3,217.3C503.1,217 504,216.4 504.8,215.9C505.6,215.4 506.5,214.7 507.3,214.2C508.1,213.6 509,213.1 509.8,212.7C510.6,212.3 511.5,211.9 512.3,211.8C513.1,211.6 514,211.6 514.8,211.7C515.6,211.9 516.5,212.2 517.3,212.5C518.1,212.9 519,213.4 519.8,213.9C520.6,214.4 521.5,215 522.3,215.5C523.1,216 524,216.5 524.8,216.8C525.6,217.1 526.5,217.4 527.3,217.5C528.1,217.6 529,217.5 529.8,217.4C530.6,217.2 531.5,216.9 532.3,216.5C533.1,216.2 534,215.7 534.8,215.2C535.6,214.8 536.5,214.2 537.3,213.8C538.1,213.4 539,213 539.8,212.7C540.6,212.5 541.5,212.3 542.3,212.2C543.1,212.2 544,212.3 544.8,212.5C545.6,212.7 546.5,213 547.3,213.3C548.1,213.7 549,214.1 549.8,214.5C550.6,214.9 551.5,215.4 552.3,215.8C553.1,216.1 554,216.4 554.8,216.6C555.6,216.8 556.5,216.9 557.3,216.9C558.1,216.9 559,216.8 559.8,216.6C560.6,216.4 561.5,216.1 562.3,215.7C563.1,215.4 564,215 564.8,214.7C565.6,214.3 566.5,213.9 567.3,213.7C568.1,213.4 569,213.1 569.8,213C570.6,212.9 571.5,212.8 572.3,212.9C573.1,212.9 574,213.1 574.8,213.3C575.6,213.5 576.5,213.8 577.3,214.1C578.1,214.3 579,214.7 579.8,215C580.6,215.3 581.5,215.6 582.3,215.8C583.1,216 584,216.1 584.8,216.2C585.6,216.3 586.5,216.3 587.3,216.2C588.1,216.1 589,216 589.8,215.8C590.6,215.6 591.5,215.3 592.3,215.1C593.1,214.8 594,214.5 594.8,214.3C595.6,214.1 596.5,213.9 597.3,213.8C598.1,213.6 599,213.5 599.8,213.5C600.6,213.5 601.5,213.6 602.3,213.7C603.1,213.7 604,213.9 604.8,214.1C605.6,214.3 606.5,214.5 607.3,214.7C608.1,214.9 609,215.1 609.8,215.2C610.6,215.4 611.5,215.5 612.3,215.6C613.1,215.6 614,215.6 614.8,215.6C615.6,215.6 616.5,215.5 617.3,215.4C618.1,215.3 619,215.1 619.8,215C620.6,214.8 621.5,214.7 622.3,214.6C623.1,214.4 624,214.3 624.8,214.2C625.6,214.1 626.5,214.1 627.3,214.1C628.1,214.1 629,214.1 629.8,214.2C630.6,214.3 631.5,214.4 632.3,214.5C633.1,214.6 634,214.7 634.8,214.8C635.6,214.9 636.5,215 637.3,215.1C638.1,215.2 639,215.2 639.8,215.2C640.6,215.2 641.5,215.2 642.3,215.1C643.1,215 644,214.9 644.8,214.9C645.6,214.8 646.5,214.6 647.3,214.6C648.1,214.5 649,214.4 649.8,214.3C650.6,214.3 651.5,214.2 652.3,214.2C653.1,214.2 654,214.3 654.8,214.4C655.6,214.4 656.5,214.5 657.3,214.6C658.1,214.8 659,214.9 659.8,215C660.6,215.1 661.5,215.2 662.3,215.3C663.1,215.4 664,215.4 664.8,215.4C665.6,215.4 666.5,215.4 667.3,215.3C668.1,215.2 669,215.1 669.8,214.9C670.6,214.8 671.5,214.6 672.3,214.5C673.1,214.3 674,214.1 674.8,214C675.6,213.9 676.5,213.8 677.3,213.8C678.1,213.8 679.4,213.8 679.8,213.8 M489.8,204.3C490.2,204 491.5,202.5 492.3,202.6C493.1,202.7 494,203.6 494.8,204.9C495.6,206.2 496.5,208.4 497.3,210.3C498.1,212.2 499,214.6 499.8,216.2C500.6,217.8 501.5,219.2 502.3,219.7C503.1,220.1 504,219.8 504.8,218.9C505.6,217.9 506.5,215.9 507.3,214C508.1,212 509,209.2 509.8,207.2C510.6,205.2 511.5,203 512.3,201.9C513.1,200.8 514,200.3 514.8,200.7C515.6,201.1 516.5,202.5 517.3,204.3C518.1,206 519,208.8 519.8,211C520.6,213.3 521.5,216.1 522.3,217.8C523.1,219.5 524,220.9 524.8,221.2C525.6,221.5 526.5,220.8 527.3,219.6C528.1,218.4 529,215.9 529.8,213.7C530.6,211.5 531.5,208.5 532.3,206.4C533.1,204.3 534,202.1 534.8,201.1C535.6,200 536.5,199.7 537.3,200.3C538.1,200.9 539,202.6 539.8,204.5C540.6,206.3 541.5,209.3 542.3,211.5C543.1,213.8 544,216.5 544.8,218C545.6,219.6 546.5,220.8 547.3,221C548.1,221.1 549,220.2 549.8,218.9C550.6,217.6 551.5,215.2 552.3,213.1C553.1,211 554,208.1 554.8,206.3C555.6,204.4 556.5,202.5 557.3,201.8C558.1,201 559,201 559.8,201.7C560.6,202.3 561.5,204.1 562.3,205.8C563.1,207.5 564,210.1 564.8,212C565.6,214 566.5,216.1 567.3,217.3C568.1,218.5 569,219.2 569.8,219.1C570.6,219 571.5,218 572.3,216.8C573.1,215.5 574,213.4 574.8,211.7C575.6,210 576.5,207.8 577.3,206.5C578.1,205.2 579,204 579.8,203.7C580.6,203.4 581.5,203.8 582.3,204.5C583.1,205.3 584,206.9 584.8,208.3C585.6,209.7 586.5,211.6 587.3,212.9C588.1,214.1 589,215.4 589.8,215.9C590.6,216.4 591.5,216.4 592.3,216C593.1,215.6 594,214.4 594.8,213.3C595.6,212.3 596.5,210.6 597.3,209.5C598.1,208.4 599,207.2 599.8,206.7C600.6,206.2 601.5,206 602.3,206.3C603.1,206.6 604,207.5 604.8,208.4C605.6,209.3 606.5,210.7 607.3,211.6C608.1,212.6 609,213.7 609.8,214.1C610.6,214.6 611.5,214.7 612.3,214.4C613.1,214.2 614,213.3 614.8,212.4C615.6,211.6 616.5,210.2 617.3,209.3C618.1,208.3 619,207.3 619.8,206.9C620.6,206.4 621.5,206.3 622.3,206.7C623.1,207 624,208 624.8,208.9C625.6,209.9 626.5,211.4 627.3,212.5C628.1,213.5 629,214.8 629.8,215.3C630.6,215.8 631.5,216 632.3,215.7C633.1,215.3 634,214.3 634.8,213.2C635.6,212.1 636.5,210.3 637.3,209C638.1,207.7 639,206.1 639.8,205.3C640.6,204.5 641.5,203.9 642.3,204.1C643.1,204.3 644,205.2 644.8,206.4C645.6,207.6 646.5,209.5 647.3,211.1C648.1,212.7 649,214.8 649.8,216.1C650.6,217.3 651.5,218.4 652.3,218.6C653.1,218.7 654,218.2 654.8,217.2C655.6,216.2 656.5,214.2 657.3,212.4C658.1,210.6 659,208.1 659.8,206.4C660.6,204.7 661.5,202.9 662.3,202.2C663.1,201.4 664,201.3 664.8,202C665.6,202.6 666.5,204.3 667.3,206.1C668.1,207.8 669,210.6 669.8,212.6C670.6,214.7 671.5,217.1 672.3,218.5C673.1,219.8 674,220.8 674.8,220.7C675.6,220.7 676.5,219.6 677.3,218.2C678.1,216.7 679.4,212.9 679.8,211.9 M489.8,209.5C490.2,209.7 491.5,210.2 492.3,210.7C493.1,211.1 494,211.8 494.8,212.2C495.6,212.6 496.5,213 497.3,213.3C498.1,213.5 499,213.5 499.8,213.4C500.6,213.4 501.5,213.2 502.3,213C503.1,212.9 504,212.7 504.8,212.7C505.6,212.7 506.5,212.8 507.3,213.1C508.1,213.4 509,213.9 509.8,214.5C510.6,215.1 511.5,215.9 512.3,216.6C513.1,217.2 514,217.9 514.8,218.3C515.6,218.6 516.5,218.8 517.3,218.5C518.1,218.3 519,217.7 519.8,216.8C520.6,215.9 521.5,214.6 522.3,213.3C523.1,212 524,210.3 524.8,209C525.6,207.8 526.5,206.5 527.3,205.8C528.1,205.1 529,204.7 529.8,204.9C530.6,205.1 531.5,205.9 532.3,207.1C533.1,208.3 534,210.1 534.8,211.9C535.6,213.7 536.5,216 537.3,217.8C538.1,219.5 539,221.4 539.8,222.5C540.6,223.6 541.5,224.3 542.3,224.3C543.1,224.3 544,223.5 544.8,222.4C545.6,221.2 546.5,219.2 547.3,217.3C548.1,215.4 549,212.8 549.8,210.8C550.6,208.8 551.5,206.6 552.3,205.3C553.1,203.9 554,202.9 554.8,202.6C555.6,202.4 556.5,202.9 557.3,203.8C558.1,204.7 559,206.5 559.8,208.2C560.6,209.9 561.5,212.3 562.3,214.2C563.1,216.1 564,218.2 564.8,219.5C565.6,220.9 566.5,222 567.3,222.5C568.1,222.9 569,222.7 569.8,222.2C570.6,221.6 571.5,220.3 572.3,219C573.1,217.8 574,216 574.8,214.5C575.6,213.1 576.5,211.5 577.3,210.4C578.1,209.3 579,208.4 579.8,208C580.6,207.5 581.5,207.6 582.3,207.8C583.1,208.1 584,208.9 584.8,209.6C585.6,210.2 586.5,211.3 587.3,212C588.1,212.8 589,213.6 589.8,214.1C590.6,214.6 591.5,214.9 592.3,215.1C593.1,215.2 594,215.1 594.8,215C595.6,214.9 596.5,214.5 597.3,214.4C598.1,214.2 599,214 599.8,214C600.6,214 601.5,214.2 602.3,214.4C603.1,214.7 604,215.1 604.8,215.5C605.6,215.8 606.5,216.3 607.3,216.5C608.1,216.7 609,216.9 609.8,216.7C610.6,216.5 611.5,216.1 612.3,215.4C613.1,214.7 614,213.6 614.8,212.6C615.6,211.6 616.5,210.3 617.3,209.3C618.1,208.3 619,207.3 619.8,206.8C620.6,206.3 621.5,206.1 622.3,206.4C623.1,206.7 624,207.5 624.8,208.6C625.6,209.7 626.5,211.5 627.3,213.1C628.1,214.7 629,216.8 629.8,218.3C630.6,219.9 631.5,221.5 632.3,222.4C633.1,223.2 634,223.7 634.8,223.6C635.6,223.4 636.5,222.5 637.3,221.2C638.1,220 639,218 639.8,216C640.6,214.1 641.5,211.6 642.3,209.7C643.1,207.8 644,205.7 644.8,204.5C645.6,203.3 646.5,202.5 647.3,202.4C648.1,202.3 649,203 649.8,204.1C650.6,205.2 651.5,207.2 652.3,209.1C653.1,210.9 654,213.4 654.8,215.4C655.6,217.4 656.5,219.5 657.3,220.9C658.1,222.2 659,223.3 659.8,223.6C660.6,223.9 661.5,223.5 662.3,222.8C663.1,222 664,220.4 664.8,218.9C665.6,217.4 666.5,215.3 667.3,213.6C668.1,211.9 669,210.1 669.8,208.9C670.6,207.7 671.5,206.7 672.3,206.3C673.1,205.9 674,206 674.8,206.4C675.6,206.8 676.5,207.9 677.3,208.8C678.1,209.8 679.4,211.7 679.8,212.2 M489.8,210.7C490.2,211 491.5,211.4 492.3,212.5C493.1,213.5 494,215.2 494.8,216.7C495.6,218.3 496.5,220.3 497.3,221.5C498.1,222.8 499,224 499.8,224.4C500.6,224.9 501.5,224.6 502.3,224C503.1,223.4 504,222 504.8,220.9C505.6,219.7 506.5,218 507.3,216.9C508.1,215.9 509,214.9 509.8,214.5C510.6,214.1 511.5,214.2 512.3,214.5C513.1,214.7 514,215.5 514.8,215.9C515.6,216.3 516.5,217 517.3,217C518.1,217 519,216.7 519.8,216C520.6,215.3 521.5,214 522.3,212.9C523.1,211.9 524,210.3 524.8,209.5C525.6,208.7 526.5,207.9 527.3,207.9C528.1,207.9 529,208.5 529.8,209.5C530.6,210.5 531.5,212.3 532.3,213.9C533.1,215.4 534,217.5 534.8,218.9C535.6,220.2 536.5,221.5 537.3,222C538.1,222.6 539,222.5 539.8,222.2C540.6,221.9 541.5,220.8 542.3,220.1C543.1,219.3 544,218.2 544.8,217.6C545.6,217 546.5,216.7 547.3,216.7C548.1,216.8 549,217.4 549.8,217.9C550.6,218.4 551.5,219.4 552.3,219.8C553.1,220.3 554,220.8 554.8,220.5C555.6,220.3 556.5,219.6 557.3,218.6C558.1,217.6 559,215.8 559.8,214.4C560.6,212.9 561.5,211 562.3,209.8C563.1,208.6 564,207.6 564.8,207.3C565.6,207.1 566.5,207.5 567.3,208.3C568.1,209 569,210.6 569.8,211.9C570.6,213.2 571.5,214.9 572.3,216C573.1,217.2 574,218.2 574.8,218.6C575.6,219 576.5,218.9 577.3,218.6C578.1,218.4 579,217.5 579.8,217.1C580.6,216.6 581.5,216 582.3,215.9C583.1,215.9 584,216.1 584.8,216.7C585.6,217.3 586.5,218.5 587.3,219.5C588.1,220.5 589,221.9 589.8,222.6C590.6,223.3 591.5,223.8 592.3,223.7C593.1,223.6 594,222.8 594.8,221.7C595.6,220.6 596.5,218.7 597.3,217.1C598.1,215.5 599,213.5 599.8,212.2C600.6,210.8 601.5,209.7 602.3,209.2C603.1,208.8 604,209 604.8,209.4C605.6,209.9 606.5,211 607.3,211.9C608.1,212.8 609,214 609.8,214.7C610.6,215.3 611.5,215.8 612.3,215.8C613.1,215.9 614,215.3 614.8,214.9C615.6,214.4 616.5,213.5 617.3,213.1C618.1,212.8 619,212.4 619.8,212.6C620.6,212.9 621.5,213.6 622.3,214.6C623.1,215.6 624,217.4 624.8,218.7C625.6,220.1 626.5,221.9 627.3,223C628.1,224 629,224.9 629.8,225C630.6,225 631.5,224.4 632.3,223.5C633.1,222.6 634,220.9 634.8,219.5C635.6,218.1 636.5,216.3 637.3,215.1C638.1,214 639,213 639.8,212.6C640.6,212.1 641.5,212.3 642.3,212.6C643.1,212.9 644,213.8 644.8,214.3C645.6,214.8 646.5,215.5 647.3,215.6C648.1,215.8 649,215.6 649.8,215.1C650.6,214.5 651.5,213.4 652.3,212.6C653.1,211.7 654,210.5 654.8,209.9C655.6,209.4 656.5,208.9 657.3,209.2C658.1,209.5 659,210.4 659.8,211.5C660.6,212.7 661.5,214.7 662.3,216.3C663.1,217.8 664,219.9 664.8,221.1C665.6,222.3 666.5,223.4 667.3,223.7C668.1,224.1 669,223.7 669.8,223.1C670.6,222.5 671.5,221.2 672.3,220.2C673.1,219.2 674,217.8 674.8,217.1C675.6,216.4 676.5,215.8 677.3,215.7C678.1,215.6 679.4,216.4 679.8,216.5 M489.8,220.5C490.2,221.2 491.5,223.5 492.3,224.7C493.1,225.9 494,226.9 494.8,227.5C495.6,228 496.5,228.3 497.3,228.2C498.1,228 499,227.5 499.8,226.8C500.6,226 501.5,224.9 502.3,223.8C503.1,222.7 504,221.3 504.8,220.1C505.6,218.9 506.5,217.7 507.3,216.8C508.1,215.8 509,215 509.8,214.6C510.6,214.1 511.5,213.9 512.3,214C513.1,214 514,214.4 514.8,214.9C515.6,215.4 516.5,216.1 517.3,216.8C518.1,217.5 519,218.3 519.8,218.9C520.6,219.5 521.5,220 522.3,220.3C523.1,220.6 524,220.8 524.8,220.7C525.6,220.6 526.5,220.2 527.3,219.8C528.1,219.3 529,218.6 529.8,218C530.6,217.4 531.5,216.7 532.3,216.1C533.1,215.6 534,215.1 534.8,214.9C535.6,214.7 536.5,214.7 537.3,215C538.1,215.2 539,215.8 539.8,216.5C540.6,217.3 541.5,218.4 542.3,219.4C543.1,220.4 544,221.8 544.8,222.8C545.6,223.9 546.5,225.1 547.3,225.9C548.1,226.6 549,227.3 549.8,227.6C550.6,227.8 551.5,227.8 552.3,227.3C553.1,226.9 554,226.1 554.8,225C555.6,224 556.5,222.6 557.3,221.1C558.1,219.7 559,218 559.8,216.6C560.6,215.1 561.5,213.6 562.3,212.5C563.1,211.3 564,210.3 564.8,209.8C565.6,209.3 566.5,209.1 567.3,209.3C568.1,209.5 569,210.1 569.8,211C570.6,211.8 571.5,213.1 572.3,214.4C573.1,215.6 574,217.2 574.8,218.6C575.6,219.9 576.5,221.4 577.3,222.5C578.1,223.6 579,224.5 579.8,225.1C580.6,225.7 581.5,226 582.3,226C583.1,226 584,225.6 584.8,225.1C585.6,224.6 586.5,223.7 587.3,222.9C588.1,222.1 589,221 589.8,220.2C590.6,219.4 591.5,218.5 592.3,217.9C593.1,217.3 594,216.9 594.8,216.7C595.6,216.5 596.5,216.6 597.3,216.8C598.1,217 599,217.5 599.8,218C600.6,218.5 601.5,219.2 602.3,219.8C603.1,220.3 604,220.9 604.8,221.2C605.6,221.5 606.5,221.7 607.3,221.7C608.1,221.6 609,221.3 609.8,220.8C610.6,220.3 611.5,219.5 612.3,218.7C613.1,217.9 614,216.9 614.8,216C615.6,215.1 616.5,214.1 617.3,213.5C618.1,212.8 619,212.2 619.8,212C620.6,211.8 621.5,211.9 622.3,212.3C623.1,212.7 624,213.5 624.8,214.4C625.6,215.4 626.5,216.7 627.3,218C628.1,219.3 629,220.9 629.8,222.3C630.6,223.6 631.5,225.1 632.3,226.1C633.1,227.2 634,228.1 634.8,228.5C635.6,228.9 636.5,229.1 637.3,228.8C638.1,228.5 639,227.8 639.8,226.8C640.6,225.9 641.5,224.5 642.3,223.1C643.1,221.8 644,220.1 644.8,218.6C645.6,217.2 646.5,215.6 647.3,214.4C648.1,213.2 649,212.1 649.8,211.5C650.6,210.9 651.5,210.5 652.3,210.5C653.1,210.6 654,211 654.8,211.6C655.6,212.2 656.5,213.2 657.3,214.2C658.1,215.2 659,216.5 659.8,217.6C660.6,218.6 661.5,219.8 662.3,220.6C663.1,221.5 664,222.2 664.8,222.6C665.6,223.1 666.5,223.2 667.3,223.2C668.1,223.1 669,222.7 669.8,222.3C670.6,221.8 671.5,221.1 672.3,220.5C673.1,219.9 674,219.2 674.8,218.7C675.6,218.2 676.5,217.7 677.3,217.5C678.1,217.3 679.4,217.5 679.8,217.5 M489.8,222.4C490.2,222.2 491.5,221.6 492.3,221.2C493.1,220.9 494,220.5 494.8,220.2C495.6,219.9 496.5,219.7 497.3,219.6C498.1,219.5 499,219.4 499.8,219.5C500.6,219.6 501.5,219.9 502.3,220.2C503.1,220.6 504,221 504.8,221.6C505.6,222.1 506.5,222.7 507.3,223.3C508.1,223.9 509,224.6 509.8,225.1C510.6,225.6 511.5,226.2 512.3,226.5C513.1,226.8 514,227.1 514.8,227.1C515.6,227.2 516.5,227.1 517.3,226.8C518.1,226.5 519,226 519.8,225.4C520.6,224.8 521.5,224 522.3,223.3C523.1,222.5 524,221.6 524.8,220.8C525.6,220 526.5,219.2 527.3,218.6C528.1,218 529,217.4 529.8,217.1C530.6,216.8 531.5,216.7 532.3,216.8C533.1,217 534,217.3 534.8,217.9C535.6,218.4 536.5,219.2 537.3,220.1C538.1,221 539,222 539.8,223C540.6,224 541.5,225.2 542.3,226.1C543.1,227 544,227.9 544.8,228.5C545.6,229.1 546.5,229.5 547.3,229.7C548.1,229.8 549,229.7 549.8,229.3C550.6,228.9 551.5,228.2 552.3,227.3C553.1,226.5 554,225.3 554.8,224.2C555.6,223 556.5,221.7 557.3,220.5C558.1,219.3 559,218.1 559.8,217.2C560.6,216.2 561.5,215.4 562.3,215C563.1,214.5 564,214.3 564.8,214.4C565.6,214.5 566.5,215 567.3,215.7C568.1,216.5 569,217.6 569.8,218.7C570.6,219.9 571.5,221.4 572.3,222.7C573.1,224.1 574.4,226.2 574.8,226.9 M587.3,225C587.7,224.2 589,221.8 589.8,220.3C590.6,218.8 591.5,217.2 592.3,216.1C593.1,214.9 594,213.8 594.8,213.2C595.6,212.5 596.5,212.2 597.3,212.4C598.1,212.5 599,213.1 599.8,213.9C600.6,214.8 601.5,216.1 602.3,217.5C603.1,218.9 604,220.7 604.8,222.4C605.6,224 606.5,225.9 607.3,227.4C608.1,228.9 609,230.4 609.8,231.5C610.6,232.5 611.5,233.3 612.3,233.6C613.1,233.9 614,233.7 614.8,233.2C615.6,232.7 616.5,231.6 617.3,230.4C618.1,229.2 619,227.4 619.8,225.7C620.6,224.1 621.5,222 622.3,220.3C623.1,218.5 624,216.7 624.8,215.3C625.6,213.8 626.5,212.6 627.3,211.8C628.1,211.1 629,210.7 629.8,210.8C630.6,210.9 631.5,211.6 632.3,212.5C633.1,213.5 634,215 634.8,216.5C635.6,218.1 636.5,220.2 637.3,222C638.1,223.9 639,226 639.8,227.7C640.6,229.5 641.5,231.2 642.3,232.3C643.1,233.5 644,234.4 644.8,234.8C645.6,235.1 646.5,235 647.3,234.5C648.1,233.9 649,232.8 649.8,231.4C650.6,230.1 651.5,228.2 652.3,226.4C653.1,224.5 654,222.3 654.8,220.4C655.6,218.4 656.5,216.4 657.3,214.8C658.1,213.3 659,211.9 659.8,211C660.6,210.2 661.5,209.7 662.3,209.8C663.1,209.9 664,210.6 664.8,211.6C665.6,212.6 666.5,214.2 667.3,215.8C668.1,217.5 669,219.7 669.8,221.7C670.6,223.7 671.5,225.9 672.3,227.8C673.1,229.6 674.4,231.9 674.8,232.7 M489.8,227.3C490.2,227.6 491.5,228.6 492.3,229C493.1,229.4 494,229.8 494.8,229.9C495.6,229.9 496.5,229.8 497.3,229.5C498.1,229.2 499,228.6 499.8,228C500.6,227.3 501.5,226.4 502.3,225.5C503.1,224.6 504,223.5 504.8,222.6C505.6,221.7 506.5,220.7 507.3,220C508.1,219.3 509,218.7 509.8,218.4C510.6,218 511.5,217.9 512.3,218.1C513.1,218.3 514,218.8 514.8,219.5C515.6,220.2 516.5,221.2 517.3,222.2C518.1,223.2 519,224.5 519.8,225.7C520.6,226.9 521.5,228.2 522.3,229.2C523.1,230.2 524,231.2 524.8,231.8C525.6,232.4 526.5,232.9 527.3,232.9C528.1,232.9 529,232.7 529.8,232.1C530.6,231.5 531.5,230.6 532.3,229.5C533.1,228.4 534,227 534.8,225.6C535.6,224.3 536.5,222.7 537.3,221.4C538.1,220 539,218.7 539.8,217.7C540.6,216.7 541.5,215.9 542.3,215.5C543.1,215.2 544,215.1 544.8,215.4C545.6,215.8 546.5,216.6 547.3,217.6C548.1,218.6 549,220 549.8,221.5C550.6,222.9 551.9,225.5 552.3,226.3 M564.8,230.6C565.2,229.8 566.5,227.3 567.3,225.6C568.1,223.8 569,221.8 569.8,220.2C570.6,218.5 571.5,216.8 572.3,215.7C573.1,214.5 574,213.6 574.8,213.2C575.6,212.8 576.5,212.8 577.3,213.3C578.1,213.8 579,214.9 579.8,216.2C580.6,217.4 581.5,219.3 582.3,221.1C583.1,222.9 584.4,226 584.8,226.9 M597.3,231.4C597.7,230.4 599,227.4 599.8,225.4C600.6,223.4 601.5,221 602.3,219.2C603.1,217.3 604,215.4 604.8,214.1C605.6,212.8 606.5,211.9 607.3,211.5C608.1,211.1 609,211.3 609.8,211.9C610.6,212.5 611.5,213.8 612.3,215.3C613.1,216.8 614,218.9 614.8,220.9C615.6,223 616.5,225.4 617.3,227.5C618.1,229.6 619,231.9 619.8,233.6C620.6,235.2 621.9,236.9 622.3,237.6 M627.3,236.6C627.7,235.7 629,233.6 629.8,231.6C630.6,229.7 631.5,227.3 632.3,225.1C633.1,222.9 634,220.4 634.8,218.4C635.6,216.4 636.5,214.4 637.3,213.1C638.1,211.8 639,210.8 639.8,210.5C640.6,210.2 641.5,210.5 642.3,211.2C643.1,211.9 644,213.4 644.8,215C645.6,216.7 646.5,218.9 647.3,221.1C648.1,223.3 649,225.8 649.8,228C650.6,230.2 651.5,232.5 652.3,234.2C653.1,235.9 654,237.4 654.8,238.3C655.6,239.1 656.5,239.4 657.3,239.1C658.1,238.9 659,238 659.8,236.7C660.6,235.4 661.5,233.5 662.3,231.5C663.1,229.5 664,227 664.8,224.7C665.6,222.5 666.5,220 667.3,218C668.1,216 669,214 669.8,212.8C670.6,211.5 671.5,210.6 672.3,210.4C673.1,210.1 674,210.5 674.8,211.3C675.6,212.1 676.5,213.6 677.3,215.3C678.1,217 679.4,220.4 679.8,221.5 M489.8,223.8C490.2,223.7 491.5,222.9 492.3,222.9C493.1,222.9 494,223.2 494.8,223.8C495.6,224.3 496.5,225.3 497.3,226.3C498.1,227.3 499,228.6 499.8,229.9C500.6,231.1 501.5,232.5 502.3,233.6C503.1,234.7 504,235.8 504.8,236.5C505.6,237.2 506.5,237.7 507.3,237.9C508.1,238 509,237.8 509.8,237.3C510.6,236.8 511.5,235.9 512.3,234.9C513.1,234 514,232.7 514.8,231.5C515.6,230.3 516.5,228.9 517.3,227.8C518.1,226.7 519,225.6 519.8,224.9C520.6,224.2 521.5,223.6 522.3,223.4C523.1,223.2 524,223.3 524.8,223.6C525.6,224 526.5,224.6 527.3,225.4C528.1,226.1 529,227.1 529.8,228C530.6,228.9 531.5,230 532.3,230.8C533.1,231.6 534,232.4 534.8,232.9C535.6,233.5 536.5,233.8 537.3,233.9C538.1,234.1 539,234 539.8,233.7C540.6,233.5 541.5,233 542.3,232.6C543.1,232.1 544,231.5 544.8,231C545.6,230.5 546.5,230 547.3,229.7C548.1,229.3 549,229.1 549.8,229C550.6,228.9 551.5,228.9 552.3,229.1C553.1,229.2 554.4,229.7 554.8,229.8 M564.8,230.4C565.2,230.1 566.5,229.4 567.3,228.8C568.1,228.2 569,227.6 569.8,227.1C570.6,226.6 571.5,226 572.3,225.8C573.1,225.5 574,225.4 574.8,225.6C575.6,225.7 576.9,226.5 577.3,226.6 M594.8,232.6C595.2,232 596.5,230.1 597.3,228.9C598.1,227.7 599,226.3 599.8,225.3C600.6,224.3 601.5,223.4 602.3,222.9C603.1,222.3 604,222.1 604.8,222.1C605.6,222.2 606.5,222.7 607.3,223.4C608.1,224 609,225.1 609.8,226.2C610.6,227.2 611.5,228.6 612.3,229.8C613.1,231 614,232.3 614.8,233.3C615.6,234.3 616.5,235.3 617.3,235.8C618.1,236.4 619,236.8 619.8,236.8C620.6,236.8 621.5,236.5 622.3,236C623.1,235.5 624,234.7 624.8,233.9C625.6,233.1 626.5,232 627.3,231.1C628.1,230.2 629,229.2 629.8,228.4C630.6,227.7 631.5,227 632.3,226.6C633.1,226.2 634,226 634.8,226C635.6,225.9 636.5,226.2 637.3,226.5C638.1,226.8 639,227.4 639.8,227.9C640.6,228.4 641.5,229 642.3,229.5C643.1,229.9 644,230.4 644.8,230.7C645.6,231 646.5,231.1 647.3,231.2C648.1,231.2 649,231 649.8,230.8C650.6,230.6 651.5,230.3 652.3,230C653.1,229.7 654,229.3 654.8,229.1C655.6,228.8 656.5,228.6 657.3,228.6C658.1,228.6 659,228.7 659.8,228.9C660.6,229.2 661.5,229.6 662.3,230.1C663.1,230.6 664,231.2 664.8,231.8C665.6,232.3 666.5,233 667.3,233.4C668.1,233.9 669,234.3 669.8,234.4C670.6,234.5 671.5,234.5 672.3,234.2C673.1,233.9 674,233.4 674.8,232.7C675.6,232 676.5,231.1 677.3,230.2C678.1,229.2 679.4,227.7 679.8,227.2 M489.8,238.8C490.2,239.3 491.5,241.3 492.3,241.9C493.1,242.4 494,242.5 494.8,242.1C495.6,241.8 496.5,240.8 497.3,239.8C498.1,238.8 499,237.4 499.8,236.2C500.6,235 501.5,233.6 502.3,232.7C503.1,231.7 504,231 504.8,230.6C505.6,230.2 506.5,230.2 507.3,230.3C508.1,230.4 509,231 509.8,231.3C510.6,231.7 511.5,232.3 512.3,232.6C513.1,232.8 514,233 514.8,232.8C515.6,232.6 516.5,232.1 517.3,231.4C518.1,230.7 519,229.6 519.8,228.6C520.6,227.7 521.5,226.4 522.3,225.6C523.1,224.8 524,224 524.8,223.8C525.6,223.5 526.5,223.6 527.3,224.3C528.1,224.9 529,226 529.8,227.4C530.6,228.8 531.5,230.7 532.3,232.5C533.1,234.2 534,236.4 534.8,238C535.6,239.6 536.5,241.2 537.3,242.1C538.1,243 539,243.5 539.8,243.5C540.6,243.5 541.5,242.8 542.3,241.9C543.1,241 544,239.5 544.8,238C545.6,236.6 546.5,234.8 547.3,233.4C548.1,232 549,230.5 549.8,229.6C550.6,228.6 551.5,228 552.3,227.7C553.1,227.4 554,227.6 554.8,227.9C555.6,228.2 556.9,229.2 557.3,229.4 M564.8,230.6C565.2,230.2 566.5,229.2 567.3,228.5C568.1,227.8 569,227 569.8,226.5C570.6,226.1 571.5,225.8 572.3,226C573.1,226.1 574.4,227.4 574.8,227.6 M594.8,229.5C595.2,229 596.5,226.8 597.3,226.1C598.1,225.3 599,225 599.8,225C600.6,225.1 601.5,225.6 602.3,226.2C603.1,226.8 604,227.9 604.8,228.6C605.6,229.4 606.5,230.3 607.3,230.9C608.1,231.4 609,231.8 609.8,231.9C610.6,231.9 611.5,231.7 612.3,231.3C613.1,231 614,230.3 614.8,229.9C615.6,229.4 616.5,228.8 617.3,228.7C618.1,228.5 619,228.5 619.8,228.9C620.6,229.3 621.5,230.1 622.3,231.2C623.1,232.2 624.4,234.4 624.8,235.1 M637.3,235.9C637.7,234.9 639,232 639.8,230.2C640.6,228.5 641.5,226.7 642.3,225.5C643.1,224.3 644,223.5 644.8,223.1C645.6,222.8 646.5,223 647.3,223.5C648.1,224 649,225.1 649.8,226.1C650.6,227.1 651.5,228.5 652.3,229.5C653.1,230.6 654,231.7 654.8,232.3C655.6,233 656.5,233.5 657.3,233.6C658.1,233.8 659,233.5 659.8,233.3C660.6,233 661.5,232.4 662.3,232C663.1,231.7 664,231.2 664.8,231.1C665.6,231.1 666.5,231.2 667.3,231.6C668.1,232.1 669,232.9 669.8,233.8C670.6,234.8 671.9,236.6 672.3,237.2 M489.8,236.1C490.2,235.1 491.5,231.6 492.3,230C493.1,228.3 494,226.7 494.8,226C495.6,225.3 496.5,225.3 497.3,225.8C498.1,226.3 499,227.7 499.8,228.9C500.6,230.2 501.5,232.1 502.3,233.3C503.1,234.6 504,235.9 504.8,236.6C505.6,237.3 506.5,237.5 507.3,237.4C508.1,237.3 509,236.6 509.8,236.1C510.6,235.5 511.5,234.6 512.3,234.3C513.1,233.9 514,233.7 514.8,234C515.6,234.2 516.5,235 517.3,236C518.1,236.9 519,238.4 519.8,239.4C520.6,240.5 521.5,241.8 522.3,242.3C523.1,242.8 524,242.9 524.8,242.4C525.6,241.8 526.5,240.5 527.3,239C528.1,237.4 529,235.1 529.8,233.2C530.6,231.2 531.5,228.9 532.3,227.5C533.1,226 534,224.8 534.8,224.5C535.6,224.2 536.5,224.7 537.3,225.6C538.1,226.5 539,228.3 539.8,229.9C540.6,231.5 541.5,233.7 542.3,235.3C543.1,236.8 544,238.3 544.8,239.1C545.6,239.9 546.9,239.8 547.3,240 M569.8,230.8C570.2,230 571.5,227.1 572.3,226C573.1,225 574,224.2 574.8,224.3C575.6,224.5 576.9,226.3 577.3,226.7 M594.8,234.2C595.2,234.3 596.5,234.1 597.3,234.4C598.1,234.7 599,235.6 599.8,236.2C600.6,236.7 601.5,237.5 602.3,237.7C603.1,237.9 604,237.8 604.8,237.2C605.6,236.5 606.5,235.3 607.3,234C608.1,232.8 609,230.9 609.8,229.5C610.6,228.2 611.5,226.6 612.3,226C613.1,225.3 614,225.1 614.8,225.6C615.6,226.1 616.5,227.4 617.3,229C618.1,230.5 619.4,233.9 619.8,234.9 M632.3,235.4C632.7,234.9 634,233 634.8,232.5C635.6,231.9 636.5,231.9 637.3,232.1C638.1,232.3 639,233.1 639.8,233.7C640.6,234.2 641.5,235.1 642.3,235.4C643.1,235.7 644,235.7 644.8,235.4C645.6,235 646.5,234 647.3,233.1C648.1,232.1 649,230.6 649.8,229.6C650.6,228.7 651.5,227.5 652.3,227.2C653.1,226.9 654,227.1 654.8,227.8C655.6,228.6 656.5,230.2 657.3,231.8C658.1,233.5 659,235.9 659.8,237.8C660.6,239.7 661.5,241.9 662.3,243.1C663.1,244.3 664,245.2 664.8,245.3C665.6,245.3 666.5,244.5 667.3,243.4C668.1,242.3 669,240.3 669.8,238.6C670.6,236.9 671.5,234.7 672.3,233.3C673.1,231.8 674,230.5 674.8,229.9C675.6,229.3 676.9,229.6 677.3,229.6 M489.8,244.7C490.2,244.6 491.5,244.8 492.3,244.3C493.1,243.7 494,242.7 494.8,241.5C495.6,240.4 496.5,238.7 497.3,237.3C498.1,235.9 499,234.3 499.8,233C500.6,231.8 501.5,230.6 502.3,229.9C503.1,229.2 504,228.9 504.8,229C505.6,229.1 506.5,229.7 507.3,230.5C508.1,231.3 509,232.7 509.8,234C510.6,235.3 511.9,237.7 512.3,238.4 M519.8,244.4C520.2,244 521.5,243 522.3,241.9C523.1,240.8 524,239.3 524.8,237.9C525.6,236.5 526.5,234.8 527.3,233.6C528.1,232.3 529,231.1 529.8,230.3C530.6,229.6 531.5,229.1 532.3,229.1C533.1,229.1 534,229.5 534.8,230.3C535.6,231 536.5,232.3 537.3,233.5C538.1,234.8 539,236.4 539.8,237.8C540.6,239.2 541.9,241.1 542.3,241.8 M559.8,229.3C560.2,229.4 561.9,230 562.3,230.2 M587.3,229.6C587.7,229.7 589,229.6 589.8,230.2C590.6,230.7 591.9,232.3 592.3,232.8 M609.8,235.4C610.2,234.8 611.5,232.9 612.3,232C613.1,231.1 614,230.3 614.8,230.1C615.6,229.8 616.5,229.9 617.3,230.3C618.1,230.7 619,231.6 619.8,232.5C620.6,233.5 621.9,235.5 622.3,236.1 M637.3,236C637.7,235.5 639,233.5 639.8,232.6C640.6,231.7 641.5,230.9 642.3,230.6C643.1,230.2 644,230.2 644.8,230.5C645.6,230.8 646.5,231.5 647.3,232.4C648.1,233.2 649,234.5 649.8,235.6C650.6,236.8 651.9,238.6 652.3,239.2 M659.8,242.5C660.2,242.1 661.5,241 662.3,240C663.1,239 664,237.7 664.8,236.6C665.6,235.5 666.5,234.3 667.3,233.4C668.1,232.5 669,231.6 669.8,231.2C670.6,230.8 671.5,230.7 672.3,230.9C673.1,231 674.4,232.1 674.8,232.3 M499.8,240.7C500.2,240.1 501.5,238.1 502.3,237.1C503.1,236.1 504,235.2 504.8,234.7C505.6,234.1 506.5,233.8 507.3,233.7C508.1,233.7 509,233.9 509.8,234.3C510.6,234.7 511.5,235.4 512.3,236.1C513.1,236.8 514,237.7 514.8,238.5C515.6,239.3 516.5,240.2 517.3,240.9C518.1,241.7 519,242.3 519.8,242.9C520.6,243.4 521.5,243.7 522.3,244C523.1,244.3 524,244.3 524.8,244.4C525.6,244.4 526.5,244.3 527.3,244.2C528.1,244.2 529,244 529.8,243.9C530.6,243.9 531.5,243.8 532.3,243.8C533.1,243.8 534,243.9 534.8,244C535.6,244.2 536.5,244.4 537.3,244.6C538.1,244.8 539,245 539.8,245.2C540.6,245.3 541.9,245.4 542.3,245.4 M597.3,235.8C597.7,236 599.4,237 599.8,237.2 M642.3,235C642.7,234.6 644,233.3 644.8,232.9C645.6,232.4 646.5,232.2 647.3,232.3C648.1,232.5 649,232.9 649.8,233.6C650.6,234.3 651.5,235.3 652.3,236.4C653.1,237.6 654.4,239.7 654.8,240.3" fill="none" stroke="#e46c2a" stroke-width="1.3" stroke-linejoin="round"/>
<path d="M490.3,248.1h0M493.8,247.4h0M497.4,245.6h0M500.9,242.9h0M504.4,241.5h0M507.9,240.7h0M511.5,240h0M515,243.1h0M518.6,246.5h0M522.7,247.2h0M526.7,246h0M530.8,246h0M534.8,247.6h0M538.9,248.9h0M543,247.2h0M547.1,242.3h0M551.3,235.6h0M555.4,231.7h0M559,232.1h0M562.5,232.3h0M566,232.6h0M569.6,233h0M573.2,232.7h0M576.8,231.5h0M580.4,230h0M584,229.7h0M588.1,231.6h0M592.1,234.3h0M596.2,237.4h0M600.2,239.4h0M604.3,240.5h0M608,240.2h0M611.6,239.5h0M615.3,239.1h0M619,239h0M622.6,239.2h0M626.3,239.5h0M630.3,239.2h0M634.4,238.6h0M638.5,237.9h0M642.5,238.2h0M646.2,239.1h0M649.9,240.5h0M653.6,242.3h0M657.3,244.6h0M661,247h0M664.7,247.2h0M668.8,244.6h0M673,240.1h0M677.1,233.9h0M681.2,229.5h0M490.3,243.9h0M493.8,244.2h0M497.4,243.4h0M500.9,241.2h0M504.4,239.5h0M507.9,237.7h0M511.5,235.9h0M515,238.4h0M518.6,242h0M522.7,243.7h0M526.7,243.7h0M530.8,244.3h0M534.8,245.5h0M538.9,245.6h0M543,242.8h0M547.1,237.7h0M551.3,231.7h0M555.4,229.1h0M559,230.2h0M562.5,230.5h0M566,230.1h0M569.6,229.5h0M573.2,228.2h0M576.8,226.8h0M580.4,226h0M584,226.6h0M588.1,229.6h0M592.1,232.6h0M596.2,234.9h0M600.2,235.6h0M604.3,235.9h0M608,235.6h0M611.6,235.8h0M615.3,236.4h0M619,237.2h0M622.6,237.4h0M626.3,236.9h0M630.3,235.4h0M634.4,234h0M638.5,233.4h0M642.5,234.8h0M646.2,236.7h0M649.9,238.7h0M653.6,240.4h0M657.3,241.7h0M661,243h0M664.7,242.5h0M668.8,240.3h0M673,236.8h0M677.1,231.8h0M681.2,227.8h0M500.9,199.8h0M504.4,202.3h0M507.9,202.4h0M511.5,199.9h0M530.8,199.3h0M534.8,202.1h0M538.9,201.7h0M562.5,199.2h0M566,199.7h0M569.6,198.7h0M588.1,198.8h0M611.6,199.7h0M615.3,201.5h0M619,201.1h0M642.5,201.1h0M646.2,202.9h0M649.9,201.7h0M673,200.4h0M677.1,201.5h0M490.3,198.8h0M504.4,199.1h0M507.9,201.7h0M511.5,202.9h0M515,202.2h0M518.6,199.8h0M534.8,199.8h0M538.9,202.4h0M543,202.8h0M547.1,200.6h0M566,201h0M569.6,202.8h0M573.2,202.6h0M576.8,200.5h0M596.2,201.4h0M600.2,203h0M604.3,202h0M608,199.3h0M622.6,199h0M626.3,201.8h0M630.3,203.1h0M634.4,201.7h0M653.6,200.1h0M657.3,202.5h0M661,203h0M664.7,201.2h0M490.3,200.9h0M493.8,204.3h0M497.4,205.5h0M500.9,204h0M504.4,200.8h0M522.7,201.8h0M526.7,203.5h0M530.8,202.7h0M534.8,200.5h0M547.1,199.3h0M551.3,200.7h0M555.4,201.1h0M559,200.4h0M562.5,199.4h0M566,198.9h0M569.6,199.4h0M573.2,200.8h0M576.8,202.1h0M580.4,202.4h0M584,201.1h0M600.2,199.5h0M604.3,203h0M608,204.8h0M611.6,204.1h0M615.3,201.1h0M634.4,203h0M638.5,205.7h0M642.5,204.8h0M646.2,201.3h0M664.7,202.1h0M668.8,204.7h0M673,204.1h0M677.1,201h0M490.3,205.2h0M493.8,204.6h0M497.4,201.7h0M507.9,199h0M511.5,202.4h0M515,205.2h0M518.6,205.4h0M522.7,202.3h0M534.8,199.8h0M538.9,203.9h0M543,205.9h0M547.1,203.8h0M551.3,199.5h0M562.5,201.6h0M566,205.1h0M569.6,206.1h0M573.2,203.8h0M576.8,199.8h0M588.1,201.2h0M592.1,205.4h0M596.2,206.1h0M600.2,202.7h0M615.3,202.7h0M619,206.1h0M622.6,206h0M626.3,202.6h0M638.5,199.3h0M642.5,204.2h0M646.2,206.7h0M649.9,205.3h0M653.6,200.9h0M664.7,199.6h0M668.8,204.7h0M673,206.9h0M677.1,204.1h0M490.3,205.5h0M493.8,207.8h0M497.4,206.6h0M500.9,201.7h0M511.5,201.5h0M515,205.9h0M518.6,206.9h0M522.7,204.5h0M526.7,203.1h0M530.8,204.7h0M534.8,205.4h0M538.9,201.8h0M551.3,204.3h0M555.4,208.8h0M559,207.7h0M562.5,203.9h0M566,201.5h0M569.6,202.1h0M573.2,203.4h0M576.8,202.4h0M580.4,199.7h0M588.1,202.6h0M592.1,208.3h0M596.2,209.3h0M600.2,204.4h0M604.3,199.5h0M608,199.4h0M611.6,201.9h0M615.3,203.2h0M619,202h0M622.6,201h0M626.3,203.2h0M630.3,207.7h0M634.4,208.8h0M638.5,204h0M649.9,201.1h0M653.6,204.6h0M657.3,204.9h0M661,203.2h0M664.7,203.4h0M668.8,206.3h0M673,207.1h0M677.1,202.8h0M490.3,202.4h0M493.8,202.8h0M497.4,204.1h0M500.9,205.7h0M504.4,206.6h0M507.9,206.4h0M511.5,205.3h0M515,203.9h0M518.6,202.9h0M522.7,203h0M526.7,204.1h0M530.8,205.5h0M534.8,206.2h0M538.9,205.8h0M543,204.6h0M547.1,203.5h0M551.3,203.3h0M555.4,204h0M559,204.9h0M562.5,205.6h0M566,205.7h0M569.6,205.2h0M573.2,204.4h0M576.8,203.9h0M580.4,203.8h0M584,204.1h0M588.1,204.8h0M592.1,205.2h0M596.2,205.1h0M600.2,204.7h0M604.3,204.3h0M608,204.2h0M611.6,204.4h0M615.3,204.7h0M619,204.9h0M622.6,204.8h0M626.3,204.6h0M630.3,204.4h0M634.4,204.4h0M638.5,204.6h0M642.5,204.9h0M646.2,205h0M649.9,204.7h0M653.6,204.3h0M657.3,204.1h0M661,204.1h0M664.7,204.5h0M668.8,205.1h0M673,205.4h0M677.1,205.1h0M490.3,206.5h0M493.8,202.1h0M497.4,200.5h0M500.9,202.4h0M504.4,206.2h0M507.9,209.2h0M511.5,209.9h0M515,208.4h0M518.6,206.8h0M522.7,206.8h0M526.7,209h0M530.8,210.4h0M534.8,208.7h0M538.9,204.3h0M543,200.7h0M547.1,201.3h0M551.3,206.2h0M555.4,211.4h0M559,213.1h0M562.5,211.3h0M566,207.8h0M569.6,204.9h0M573.2,204.5h0M576.8,206h0M580.4,207.4h0M584,207h0M588.1,204.7h0M592.1,203h0M596.2,204.6h0M600.2,209.1h0M604.3,213.1h0M608,213.2h0M611.6,209.7h0M615.3,204.7h0M619,201.4h0M622.6,201.7h0M626.3,204.7h0M630.3,208.1h0M634.4,208.9h0M638.5,207.4h0M642.5,206.2h0M646.2,207.2h0M649.9,209.7h0M653.6,211.3h0M657.3,210h0M661,206h0M664.7,201.6h0M668.8,200.2h0M673,203.6h0M677.1,209.1h0M490.3,202.8h0M493.8,199.9h0M497.4,204.6h0M500.9,212.3h0M504.4,215.6h0M507.9,211.2h0M511.5,203.2h0M515,199.5h0M518.6,203.8h0M522.7,212.7h0M526.7,215.5h0M530.8,208.5h0M534.8,200.4h0M538.9,201.3h0M543,210.2h0M547.1,215.9h0M551.3,211h0M555.4,201.9h0M559,199.7h0M562.5,205.2h0M566,213.1h0M569.6,215.7h0M573.2,210.3h0M576.8,202.3h0M580.4,199.7h0M584,205.1h0M588.1,213.6h0M592.1,214.8h0M596.2,207.1h0M600.2,200.2h0M604.3,202.6h0M608,210.3h0M611.6,215.2h0M615.3,212.3h0M619,204.6h0M622.6,200.3h0M626.3,203.6h0M630.3,211.6h0M634.4,214.6h0M638.5,209h0M642.5,201.9h0M646.2,201.7h0M649.9,207.6h0M653.6,213.4h0M657.3,213.1h0M661,207.1h0M664.7,201.9h0M668.8,203.4h0M673,210h0M677.1,213.5h0M490.3,216.3h0M493.8,215h0M497.4,210.5h0M500.9,205.2h0M504.4,202h0M507.9,202.4h0M511.5,205.9h0M515,210h0M518.6,212.6h0M522.7,212.4h0M526.7,209.9h0M530.8,208h0M534.8,208.2h0M538.9,209.7h0M543,210.2h0M547.1,208.3h0M551.3,205.2h0M555.4,203.8h0M559,205.7h0M562.5,209.9h0M566,214.3h0M569.6,216.1h0M573.2,214.2h0M576.8,209.2h0M580.4,203.9h0M584,201.3h0M588.1,203h0M592.1,208.2h0M596.2,212.8h0M600.2,214h0M604.3,211.6h0M608,208.6h0M611.6,206.9h0M615.3,207.3h0M619,208.8h0M622.6,209.5h0M626.3,208.5h0M630.3,206.2h0M634.4,205h0M638.5,206.9h0M642.5,211.3h0M646.2,214.8h0M649.9,215.2h0M653.6,211.8h0M657.3,206.3h0M661,201.9h0M664.7,201.3h0M668.8,205.3h0M673,211.2h0M677.1,214.9h0M490.3,209.1h0M493.8,209.3h0M497.4,210.4h0M500.9,211.6h0M504.4,212.6h0M507.9,212.8h0M511.5,212.1h0M515,210.9h0M518.6,209.9h0M522.7,209.4h0M526.7,210h0M530.8,211.1h0M534.8,212.2h0M538.9,212.5h0M543,211.8h0M547.1,210.7h0M551.3,209.9h0M555.4,209.8h0M559,210.3h0M562.5,211.2h0M566,211.9h0M569.6,212.2h0M573.2,212h0M576.8,211.3h0M580.4,210.5h0M584,210h0M588.1,210h0M592.1,210.7h0M596.2,211.5h0M600.2,212h0M604.3,211.9h0M608,211.4h0M611.6,210.7h0M615.3,210.2h0M619,210h0M622.6,210.4h0M626.3,211h0M630.3,211.7h0M634.4,212h0M638.5,211.7h0M642.5,211h0M646.2,210.4h0M649.9,210h0M653.6,210.1h0M657.3,210.7h0M661,211.5h0M664.7,212h0M668.8,212.1h0M673,211.4h0M677.1,210.5h0M490.3,209h0M493.8,207.2h0M497.4,208h0M500.9,211.5h0M504.4,215.9h0M507.9,218.5h0M511.5,217.4h0M515,212.9h0M518.6,207.5h0M522.7,204.1h0M526.7,206.1h0M530.8,211.9h0M534.8,217.2h0M538.9,218.1h0M543,214.5h0M547.1,209.8h0M551.3,207.7h0M555.4,208.9h0M559,211.2h0M562.5,212.6h0M566,212.4h0M569.6,211.3h0M573.2,210.9h0M576.8,212.1h0M580.4,214.2h0M584,215.5h0M588.1,214.1h0M592.1,209.8h0M596.2,205.9h0M600.2,205.8h0M604.3,210.3h0M608,215.8h0M611.6,219.2h0M615.3,218.2h0M619,213.4h0M622.6,207.8h0M626.3,204.8h0M630.3,206.2h0M634.4,211.2h0M638.5,215.5h0M642.5,216.3h0M646.2,214.2h0M649.9,211.4h0M653.6,210h0M657.3,210.6h0M661,211.8h0M664.7,212h0M668.8,210.5h0M673,208.8h0M677.1,209.5h0M490.3,213.9h0M493.8,215h0M497.4,215.9h0M500.9,214.7h0M504.4,212h0M507.9,210.5h0M511.5,212.1h0M515,215.6h0M518.6,217.9h0M522.7,216.5h0M526.7,212.8h0M530.8,211.4h0M534.8,213.1h0M538.9,214.7h0M543,214.2h0M547.1,213.4h0M551.3,214.7h0M555.4,216.6h0M559,215.9h0M562.5,213h0M566,210.4h0M569.6,210.9h0M573.2,214.2h0M576.8,217.2h0M580.4,217.2h0M584,214.7h0M588.1,212.3h0M592.1,212.8h0M596.2,214.2h0M600.2,213.9h0M604.3,212.7h0M608,213.3h0M611.6,215.7h0M615.3,217.3h0M619,215.8h0M622.6,212.3h0M626.3,210.1h0M630.3,211.8h0M634.4,215.7h0M638.5,217h0M642.5,215.1h0M646.2,213.2h0M649.9,213.3h0M653.6,214.3h0M657.3,214.1h0M661,212.6h0M664.7,211.9h0M668.8,214.2h0M673,217.3h0M677.1,217.1h0M490.3,213.6h0M493.8,216.1h0M497.4,217.8h0M500.9,217.8h0M504.4,216.1h0M507.9,213.8h0M511.5,212h0M515,211.8h0M518.6,213.2h0M522.7,215.7h0M526.7,217.4h0M530.8,217.1h0M534.8,215.2h0M538.9,213.1h0M543,212.2h0M547.1,213.3h0M551.3,215.3h0M555.4,216.7h0M559,216.8h0M562.5,215.7h0M566,214.1h0M569.6,213h0M573.2,213h0M576.8,213.9h0M580.4,215.2h0M584,216.1h0M588.1,216.1h0M592.1,215.1h0M596.2,214h0M600.2,213.5h0M604.3,214h0M608,214.8h0M611.6,215.5h0M615.3,215.6h0M619,215.1h0M622.6,214.5h0M626.3,214.1h0M630.3,214.3h0M634.4,214.8h0M638.5,215.2h0M642.5,215.1h0M646.2,214.7h0M649.9,214.3h0M653.6,214.3h0M657.3,214.6h0M661,215.2h0M664.7,215.4h0M668.8,215.1h0M673,214.3h0M677.1,213.8h0M490.3,203.9h0M493.8,203.6h0M497.4,210.4h0M500.9,218.1h0M504.4,219.3h0M507.9,212.3h0M511.5,203.2h0M515,200.8h0M518.6,207.6h0M522.7,218.5h0M526.7,220.4h0M530.8,210.9h0M534.8,201h0M538.9,202.6h0M543,213.6h0M547.1,220.9h0M551.3,215.7h0M555.4,204.9h0M559,201.2h0M562.5,206.2h0M566,214.9h0M569.6,219.1h0M573.2,215.1h0M576.8,207.4h0M580.4,203.6h0M584,206.9h0M588.1,214h0M592.1,216.1h0M596.2,211.2h0M600.2,206.4h0M604.3,207.8h0M608,212.4h0M611.6,214.6h0M615.3,211.8h0M619,207.5h0M622.6,206.8h0M626.3,211.1h0M630.3,215.6h0M634.4,213.7h0M638.5,207.1h0M642.5,204.2h0M646.2,208.9h0M649.9,216.2h0M653.6,218.3h0M657.3,212.4h0M661,204h0M664.7,201.9h0M668.8,210h0M673,219.4h0M677.1,218.5h0M490.3,209.8h0M493.8,211.6h0M497.4,213.3h0M500.9,213.3h0M504.4,212.7h0M507.9,213.4h0M511.5,215.9h0M515,218.3h0M518.6,217.9h0M522.7,212.7h0M526.7,206.3h0M530.8,205.4h0M534.8,212h0M538.9,221h0M543,224.1h0M547.1,217.6h0M551.3,207.3h0M555.4,202.6h0M559,206.5h0M562.5,214.6h0M566,221.4h0M569.6,222.3h0M573.2,217.5h0M576.8,211.1h0M580.4,207.7h0M584,208.9h0M588.1,212.7h0M592.1,215.1h0M596.2,214.7h0M600.2,214h0M604.3,215.3h0M608,216.7h0M611.6,215.9h0M615.3,212h0M619,207.4h0M622.6,206.5h0M626.3,211.1h0M630.3,219.3h0M634.4,223.6h0M638.5,219.1h0M642.5,209.2h0M646.2,202.9h0M649.9,204.3h0M653.6,212.3h0M657.3,220.9h0M661,223.6h0M664.7,219.1h0M668.8,210.6h0M673,206.1h0M677.1,208.6h0M490.3,210.9h0M493.8,214.9h0M497.4,221.6h0M500.9,224.6h0M504.4,221.4h0M507.9,216.2h0M511.5,214.3h0M515,216.1h0M518.6,216.7h0M522.7,212.4h0M526.7,208h0M530.8,211h0M534.8,218.9h0M538.9,222.4h0M543,219.3h0M547.1,216.7h0M551.3,219.1h0M555.4,220.3h0M559,215.9h0M562.5,209.5h0M566,207.4h0M569.6,211.5h0M573.2,217.2h0M576.8,218.8h0M580.4,216.7h0M584,216.3h0M588.1,220.5h0M592.1,223.7h0M596.2,219.3h0M600.2,211.5h0M604.3,209.2h0M608,212.7h0M611.6,215.7h0M615.3,214.6h0M619,212.6h0M622.6,215.1h0M626.3,221.4h0M630.3,224.9h0M634.4,220.2h0M638.5,213.7h0M642.5,212.7h0M646.2,215.2h0M649.9,215h0M653.6,211.1h0M657.3,209.2h0M661,213.6h0M664.7,220.9h0M668.8,223.7h0M673,219.4h0M677.1,215.8h0M490.3,221.4h0M493.8,226.6h0M497.4,228.1h0M500.9,225.6h0M504.4,220.7h0M507.9,216.1h0M511.5,214h0M515,215h0M518.6,217.9h0M522.7,220.5h0M526.7,220.1h0M530.8,217.3h0M534.8,214.9h0M538.9,215.8h0M543,220.4h0M547.1,225.7h0M551.3,227.7h0M555.4,224.2h0M559,218.1h0M562.5,212.2h0M566,209.3h0M569.6,210.8h0M573.2,215.8h0M576.8,221.8h0M580.4,225.5h0M584,225.6h0M588.1,222.1h0M592.1,218h0M596.2,216.6h0M600.2,218.3h0M604.3,221h0M608,221.6h0M611.6,219.4h0M615.3,215.5h0M619,212.3h0M622.6,212.5h0M626.3,216.5h0M630.3,223.2h0M634.4,228.3h0M638.5,228.1h0M642.5,222.8h0M646.2,216.2h0M649.9,211.4h0M653.6,210.9h0M657.3,214.2h0M661,219.1h0M664.7,222.6h0M668.8,222.7h0M673,220h0M677.1,217.6h0M490.3,222.2h0M493.8,220.6h0M497.4,219.6h0M500.9,219.7h0M504.4,221.3h0M507.9,223.8h0M511.5,226.1h0M515,227.1h0M518.6,226.2h0M522.7,222.9h0M526.7,219h0M530.8,216.9h0M534.8,217.9h0M538.9,221.9h0M543,226.9h0M547.1,229.6h0M551.3,228.3h0M555.4,223.3h0M559,218.2h0M562.5,214.8h0M566,214.9h0M569.6,218.4h0M573.2,224.2h0M588.1,223.6h0M592.1,216.3h0M596.2,212.5h0M600.2,214.4h0M604.3,221.4h0M608,228.6h0M611.6,233.2h0M615.3,232.8h0M619,227.4h0M622.6,219.6h0M626.3,212.9h0M630.3,211h0M634.4,215.8h0M638.5,224.7h0M642.5,232.6h0M646.2,234.9h0M649.9,231.3h0M653.6,223.3h0M657.3,214.8h0M661,210.1h0M664.7,211.5h0M668.8,219.3h0M673,229.2h0M490.3,227.7h0M493.8,229.6h0M497.4,229.5h0M500.9,227h0M504.4,223h0M507.9,219.5h0M511.5,218h0M515,219.7h0M518.6,224h0M522.7,229.6h0M526.7,232.8h0M530.8,231.3h0M534.8,225.6h0M538.9,218.9h0M543,215.3h0M547.1,217.4h0M551.3,224.3h0M566,228.1h0M569.6,220.6h0M573.2,214.5h0M576.8,213.1h0M580.4,217.2h0M584,225h0M600.2,224.3h0M604.3,215h0M608,211.3h0M611.6,214.1h0M615.3,222.2h0M619,231.7h0M630.3,230.3h0M634.4,219.4h0M638.5,211.6h0M642.5,211.4h0M646.2,218.2h0M649.9,228.3h0M653.6,236.7h0M657.3,239.1h0M661,234.5h0M664.7,225h0M668.8,214.5h0M673,210.3h0M677.1,214.8h0M490.3,223.6h0M493.8,223.3h0M497.4,226.4h0M500.9,231.5h0M504.4,236.1h0M507.9,237.9h0M511.5,235.8h0M515,231.1h0M518.6,226.2h0M522.7,223.3h0M526.7,224.9h0M530.8,229.1h0M534.8,233h0M538.9,233.9h0M543,232.2h0M547.1,229.7h0M551.3,229h0M566,229.6h0M569.6,227.2h0M573.2,225.6h0M576.8,226.4h0M596.2,230.6h0M600.2,224.8h0M604.3,222.1h0M608,224h0M611.6,228.8h0M615.3,233.9h0M619,236.7h0M622.6,235.8h0M626.3,232.2h0M630.3,227.9h0M634.4,226h0M638.5,227.1h0M642.5,229.6h0M646.2,231h0M649.9,230.8h0M653.6,229.5h0M657.3,228.6h0M661,229.4h0M664.7,231.7h0M668.8,234.1h0M673,233.9h0M677.1,230.4h0M490.3,239.5h0M493.8,242.4h0M497.4,239.8h0M500.9,234.6h0M504.4,230.8h0M507.9,230.5h0M511.5,232.2h0M515,232.7h0M518.6,230.1h0M522.7,225.3h0M526.7,223.9h0M530.8,229.2h0M534.8,238h0M538.9,243.3h0M543,241h0M547.1,233.7h0M551.3,228.2h0M555.4,228.2h0M566,229.5h0M569.6,226.6h0M573.2,226.4h0M596.2,227.4h0M600.2,225.1h0M604.3,228.2h0M608,231.3h0M611.6,231.6h0M615.3,229.6h0M619,228.6h0M622.6,231.6h0M638.5,233.2h0M642.5,225.2h0M646.2,223h0M649.9,226.2h0M653.6,231.1h0M657.3,233.6h0M661,232.7h0M664.7,231.1h0M668.8,232.8h0M490.3,234.8h0M493.8,227.2h0M497.4,225.9h0M500.9,230.8h0M504.4,236.2h0M507.9,237.2h0M511.5,234.8h0M515,234.1h0M518.6,237.7h0M522.7,242.5h0M526.7,240h0M530.8,230.8h0M534.8,224.5h0M538.9,228.1h0M543,236.6h0M547.1,240h0M573.2,225h0M576.8,226.1h0M596.2,234.2h0M600.2,236.5h0M604.3,237.5h0M608,232.9h0M611.6,226.7h0M615.3,226h0M619,232.8h0M634.4,232.8h0M638.5,232.7h0M642.5,235.4h0M646.2,234.3h0M649.9,229.5h0M653.6,227.1h0M657.3,231.8h0M661,240.6h0M664.7,245.3h0M668.8,240.6h0M673,232.2h0M677.1,229.6h0M490.3,244.7h0M493.8,242.8h0M497.4,237.2h0M500.9,231.5h0M504.4,229h0M507.9,231.2h0M511.5,236.9h0M522.7,241.4h0M526.7,234.5h0M530.8,229.6h0M534.8,230.3h0M538.9,236.2h0M588.1,229.7h0M592.1,232.6h0M611.6,232.8h0M615.3,229.9h0M619,231.6h0M638.5,234.4h0M642.5,230.5h0M646.2,231.4h0M649.9,235.8h0M661,241.4h0M664.7,236.8h0M668.8,231.9h0M673,231.1h0M500.9,239.1h0M504.4,234.9h0M507.9,233.7h0M511.5,235.4h0M515,238.8h0M518.6,242h0M522.7,244.1h0M526.7,244.3h0M530.8,243.9h0M534.8,244h0M538.9,245h0M642.5,234.8h0M646.2,232.4h0M649.9,233.7h0M653.6,238.4h0" fill="none" stroke="#3a3a92" stroke-width="1.8" stroke-linecap="round"/>
</g>
<g clip-path="url(#clipFb)">
<path d="M490.3,296.3C490.8,296.4 492.2,296.5 493.3,296.7C494.4,296.9 495.9,297.2 497.2,297.7C498.5,298.2 499.8,298.9 501,299.8C502.2,300.7 503.1,302.5 504.4,303C505.7,303.5 507.1,302.8 508.7,303C510.3,303.2 512.4,303.8 514,304.5C515.6,305.2 517.1,306.5 518.6,307.1C520.1,307.7 521.4,307.7 522.7,308.3C524,308.9 525.2,309.6 526.6,310.7C528,311.8 529.5,313.5 530.9,314.9C532.3,316.3 533.5,317.8 534.8,318.9C536.1,320 537.6,320.7 538.9,321.3C540.2,321.9 541.2,322.1 542.5,322.3C543.8,322.6 545.4,322.7 546.8,322.8C548.2,322.9 549.3,323 550.7,323.2C552.1,323.4 553.9,323.8 555.4,324.2C556.9,324.6 558.4,324.9 560,325.8C561.6,326.8 563.2,328.2 564.8,329.9C566.4,331.5 568,333.8 569.4,335.7C570.8,337.6 571.9,339.3 573,341C574.1,342.7 575.5,345.2 576,346 M490.3,320.8C490.8,320.2 492.2,318.5 493.3,317C494.4,315.5 495.9,313.4 497.2,311.7C498.5,310 499.8,308.3 501,306.9C502.2,305.4 503.8,303.6 504.4,303 M498.4,339C498.9,337.9 500.4,334.5 501.4,332.5C502.4,330.5 503.2,329.1 504.4,327C505.6,324.9 507.1,322.3 508.7,319.9C510.3,317.5 512.4,314.5 514,312.4C515.6,310.3 517.1,308.7 518.6,307.1C520.1,305.5 521.4,304.2 522.7,303C524,301.8 525.2,300.5 526.6,299.6C528,298.7 529.5,298.2 530.9,297.7C532.3,297.2 533.5,296.8 534.8,296.6C536.1,296.4 537.6,296.3 538.9,296.3C540.2,296.3 541.2,296.4 542.5,296.6C543.8,296.8 545.4,297.1 546.8,297.5C548.2,297.9 549.3,298.4 550.7,299.2C552.1,299.9 553.8,301.4 555.4,302C557,302.6 558.6,302.4 560.2,303C561.8,303.6 563.4,304.8 565,305.9C566.6,306.9 568.2,308.6 569.6,309.3C571,310 572,309.8 573.2,310.2C574.5,310.6 575.8,311.2 577.1,312C578.4,312.8 579.8,313.8 580.9,314.9C582,316 582.9,317.7 584,318.4C585.1,319.1 586.4,318.8 587.7,318.9C589,319 590.5,318.7 592,318.9C593.5,319.1 595,319.5 596.4,319.9C597.8,320.3 598.9,320.7 600.2,321.3C601.5,321.9 603,323.3 604.3,323.7C605.6,324.1 606.6,323.7 607.9,323.7C609.1,323.7 610.5,323.6 611.8,323.7C613.1,323.8 614.4,324 615.6,324.2C616.8,324.4 617.8,324.8 619,324.7C620.2,324.6 622.2,323.9 622.8,323.7 M518.6,307.1C519.3,308 521.4,310.7 522.7,312.6C524,314.5 525.3,316.2 526.6,318.4C527.9,320.6 529.4,323.7 530.4,325.6C531.4,327.5 531.6,328.4 532.5,330C533.4,331.6 534.5,333.5 535.5,335.5C536.5,337.5 538,340.9 538.5,342 M532,339C532.5,337.9 534,334.5 535,332.5C536,330.5 537,328.4 538,327C539,325.6 540.2,325.1 541,324.2C541.8,323.3 541.8,323.3 542.5,321.8C543.2,320.3 544.4,317 545.4,315C546.4,313 547.6,311.3 548.7,309.7C549.8,308.1 551,306.7 552.1,305.4C553.2,304.1 554.9,302.6 555.4,302 M524.4,337.6C524.9,336.5 526.4,333.1 527.4,331.1C528.4,329.1 529.2,326.9 530.4,325.6C531.6,324.3 533.4,323.9 534.8,323.2C536.2,322.5 538.2,321.6 538.9,321.3 M546,339C546.5,337.9 548,334.5 549,332.5C550,330.5 550.9,328.4 552,327C553.1,325.6 554,325.6 555.4,324.2C556.8,322.8 558.6,320.6 560.2,318.9C561.8,317.2 563.4,315.5 565,313.9C566.6,312.3 568.8,310.1 569.6,309.3 M569,342C569.5,340.9 571,337.5 572,335.5C573,333.5 574.1,331.4 575,330C575.9,328.6 576.1,328.3 577.1,327C578.1,325.7 579.8,323.7 580.9,322.3C582,320.9 582.9,320 584,318.4C585.1,316.8 586.4,314.7 587.7,312.9C589,311.1 590.5,309.1 592,307.8C593.5,306.5 595,305.7 596.4,304.9C597.8,304.1 598.9,303.4 600.2,303C601.5,302.6 603,302.7 604.3,302.3C605.6,301.9 606.6,300.9 607.9,300.4C609.1,299.9 610.5,299.6 611.8,299.4C613.1,299.2 614.4,299.3 615.6,299.3C616.8,299.3 617.9,299.4 619,299.6C620.1,299.8 621.1,300 622.3,300.6C623.5,301.2 624.9,302.6 626.3,303C627.7,303.4 629.2,303.1 630.5,303.3C631.8,303.6 632.9,303.9 634.3,304.5C635.7,305.1 637.3,306 638.7,306.9C640.1,307.8 641.2,308.7 642.5,309.6C643.8,310.5 645.1,311.3 646.4,312.2C647.7,313.1 648.9,314.1 650.2,315.2C651.5,316.3 652.9,317.6 654.1,318.9C655.3,320.2 656.4,321.6 657.5,322.8C658.6,324.1 659.9,325.2 660.8,326.4C661.7,327.6 662.1,328.5 663,330C663.9,331.5 665,333.5 666,335.5C667,337.5 668.5,340.9 669,342 M584,318.4C584.6,319 586.8,320.4 587.7,321.8C588.6,323.2 589.1,325.5 589.6,327C590.1,328.5 590.3,329.4 591,331C591.7,332.6 593,334.5 594,336.5C595,338.5 596.5,341.9 597,343 M604.3,302.3C604.9,302.7 606.6,303.8 607.9,304.9C609.1,306 610.6,307.5 611.8,308.8C613,310.1 613.9,311.4 615.1,312.9C616.3,314.4 617.7,316.1 619,317.9C620.3,319.7 621.8,322.2 622.8,323.7C623.8,325.2 624.2,325.9 624.7,327C625.2,328.1 625.3,328.6 626,330C626.7,331.4 628,333.5 629,335.5C630,337.5 631.5,340.9 632,342 M594,339C594.5,337.9 596,334.5 597,332.5C598,330.5 598.8,328.5 600,327C601.2,325.5 603,324.7 604.3,323.7C605.6,322.7 606.6,322.1 607.9,320.8C609.1,319.6 610.6,317.5 611.8,316.2C613,314.9 614.2,313.8 615.1,312.9C616,312 615.9,311.9 617,310.7C618.1,309.5 620.2,307.2 621.8,305.9C623.3,304.6 625.5,303.5 626.3,303 M618,342C618.5,340.9 620,337.5 621,335.5C622,333.5 623.1,331.4 624,330C624.9,328.6 625.5,328.3 626.6,327C627.7,325.7 629.2,323.9 630.5,322.3C631.8,320.7 632.9,319 634.3,317.5C635.7,316 637.3,314.4 638.7,313.1C640.1,311.8 641.2,310.5 642.5,309.6C643.8,308.7 645.1,308.3 646.4,307.8C647.7,307.3 648.9,306.9 650.2,306.6C651.5,306.3 652.9,306 654.1,305.9C655.3,305.8 656.3,305.7 657.5,305.7C658.7,305.7 660.1,305.7 661.3,305.9C662.5,306.1 663.4,306.7 664.7,307.1C666,307.5 667.6,307.7 669,308.3C670.4,308.9 671.6,309.6 672.9,310.7C674.2,311.8 675.3,313.3 676.7,314.6C678.1,315.9 680.5,317.8 681.2,318.4 M642,343C642.5,341.9 644,338.5 645,336.5C646,334.5 647.2,332.6 648,331C648.8,329.4 648.8,329 649.8,327C650.8,325 652.8,321 654.1,318.9C655.4,316.8 656.3,315.6 657.5,314.1C658.7,312.6 660.1,311.2 661.3,310C662.5,308.8 664.1,307.6 664.7,307.1 M659,342C659.5,340.9 661,337.5 662,335.5C663,333.5 664.1,331.4 665,330C665.9,328.6 666.3,328.1 667.6,327C668.9,325.9 671.3,324.6 672.9,323.7C674.5,322.8 675.8,322.2 677.2,321.3C678.6,320.4 680.5,318.9 681.2,318.4 M491.1,321.6C492.2,322.1 495.4,323.4 497.6,324.5C499.7,325.5 501.9,327.2 504,328C506.2,328.9 508.1,329.1 510.5,329.5C512.8,329.8 515.8,330.3 518.3,330.2C520.8,330.1 523.2,329.7 525.5,328.7C527.7,327.8 529.7,325.6 531.9,324.5C534.2,323.3 536.7,321.9 539.1,321.6C541.5,321.2 544.1,322.1 546.2,322.3C548.4,322.5 550.4,322.7 551.9,323C553.5,323.3 554.1,323.5 555.5,324C557,324.5 559,325 560.5,325.9C562.1,326.8 563.3,327.8 564.8,329.5C566.3,331.1 567.9,333.8 569.5,335.9C571.2,338 573,340.1 574.8,342.3C576.7,344.6 579,347.3 580.6,349.5C582.1,351.6 583.5,354.3 584.1,355.2 M490.4,350.9C491,350.4 492.9,349.7 494,348.1C495.1,346.4 495.8,343.3 496.9,340.9C497.9,338.5 499.1,336.1 500.4,333.8C501.8,331.4 503.3,329 504.7,326.6C506.2,324.2 507.6,321.5 509,319.4C510.5,317.4 511.7,316.3 513.3,314.4C515,312.5 518.1,309.1 519,308 M524.8,348.1C525.2,346.5 526.4,341.3 527.6,338.8C528.8,336.3 530.5,335.1 531.9,333C533.3,331 534.8,328.6 536.2,326.6C537.6,324.6 538.8,323 540.5,320.9C542.2,318.7 544.6,315.7 546.2,313.7C547.9,311.7 549.8,309.5 550.5,308.7 M537.4,352.9C537.9,351.8 539.4,348.4 540.4,346.4C541.4,344.4 542.1,342.8 543.4,340.9C544.6,339 546.2,337.1 547.7,335.2C549.1,333.3 550.6,331.3 551.9,329.5C553.3,327.6 554.9,324.9 555.5,324 M563.5,347.9C564,346.8 565.5,343.4 566.5,341.4C567.5,339.4 568.4,337.6 569.5,335.9C570.7,334.1 572,332.7 573.4,330.9C574.8,329.1 575.9,327.3 577.7,325.2C579.5,323 583.1,319.2 584.1,318 M539.1,321.6C539.8,322.9 541.9,327 543.4,329.5C544.8,332 546.2,334.2 547.7,336.6C549.1,339 550.5,341.4 551.9,343.8C553.4,346.1 554.8,348.8 556.2,350.9C557.7,353.1 559.8,355.7 560.5,356.6 M491.1,328C492.2,328.5 495.4,330.1 497.6,330.9C499.7,331.7 501.9,332.1 504,333C506.2,334 508.1,335.2 510.5,336.6C512.8,338 515.8,340.4 518.3,341.6C520.8,342.8 523.2,343.6 525.5,343.8C527.7,343.9 529.7,343.2 531.9,342.3C534.2,341.5 536.7,338.5 539.1,338.8C541.5,339 543.5,342.2 546.2,343.8C549,345.3 552.7,347.1 555.5,348.1C558.4,349 561.1,349 563.4,349.5C565.7,350 567.2,350.2 569.5,350.9C571.9,351.6 575.3,352.7 577.7,353.8C580.1,354.9 583.1,356.8 584.1,357.4 M585,317.9C586.5,318.4 591,319.6 594.3,320.7C597.5,321.8 601.1,323.8 604.5,324.4C607.9,325 611.3,323.8 614.7,324.4C618.1,325 621.9,327.2 625,328.1C628.1,329 630.4,329.1 633.3,330C636.2,330.9 639.8,332.5 642.6,333.7C645.4,334.9 648.3,335.5 650,337C651.7,338.5 652,340.5 653,342.5C654,344.5 655.5,347.9 656,349 M585,317.9C585.9,319.4 588.7,324.4 590.6,327.2C592.5,330 594.4,332.3 596.2,334.6C598.1,336.9 600.2,339.2 601.7,341.1C603.2,343 604.5,345.2 605,346 M604.5,324.4C605.6,325.2 608.8,327.4 611,329C613.2,330.6 615.2,332.1 617.5,333.7C619.8,335.2 622.7,336.9 625,338.3C627.3,339.7 629.5,340.7 631.5,342C633.5,343.3 636.1,345.3 637,346 M634,349C634.5,347.9 636,344.5 637,342.5C638,340.5 638.5,338.6 640,337C641.5,335.4 644,334.1 646.3,332.8C648.6,331.5 651.3,329.8 653.8,329C656.3,328.2 658.7,328.1 661.2,328.1C663.7,328.1 666.1,328.4 668.6,329C671.1,329.6 673.9,331 676.1,331.8C678.3,332.6 680.8,333.4 681.7,333.7 M653.8,317.9C655,319.1 658.7,322.8 661.2,325.3C663.7,327.8 666.4,330.3 668.6,332.8C670.8,335.3 672.3,337.4 674.2,340.2C676.1,343 678.5,347.2 679.8,349.5C681.1,351.8 681.6,353.2 682,354 M627.3,342C627.8,340.9 629.3,337.5 630.3,335.5C631.3,333.5 631.5,331.4 633.3,330C635,328.6 638.3,328.6 640.8,327.2C643.3,325.8 646,323.2 648.2,321.6C650.4,320.1 652.9,318.5 653.8,317.9 M490.5,327.2C492.1,327.5 497.2,328.5 500.2,329C503.2,329.5 505.4,329.8 508.5,330C511.6,330.2 515.3,330.3 518.7,330C522.1,329.7 525.6,328.7 529,328.1C532.4,327.5 536,326.8 539.2,326.2C542.5,325.6 545.7,324.7 548.5,324.4C551.3,324.1 553.7,324.1 555.9,324.4C558.1,324.7 559.6,325.4 561.5,326.2C563.4,327 565.6,327.6 567,329C568.4,330.4 569,332.5 570,334.5C571,336.5 572.5,339.9 573,341 M539.2,322.5C540.1,323.1 542.9,324.5 544.8,326.2C546.6,327.9 548.4,330.3 550.3,332.8C552.1,335.3 554,338.6 555.9,341.1C557.8,343.6 559.6,345.9 561.5,347.6C563.4,349.3 565.4,350.4 567.1,351.3C568.9,352.2 571.2,352.7 572,353 M514,352C514.5,351.3 515.5,349.6 516.9,347.6C518.3,345.6 520.6,342.7 522.5,340.2C524.4,337.7 526.1,335 528,332.8C529.9,330.6 531.7,328.9 533.6,327.2C535.5,325.5 538.3,323.3 539.2,322.5 M550.3,323.5C551.5,323.6 555.3,323.8 557.8,324.4C560.3,325 563,325.8 565.2,327.2C567.4,328.6 568.9,330.6 570.8,332.8C572.7,335 574.5,337.7 576.4,340.2C578.2,342.7 580.3,345.4 581.9,347.6C583.5,349.8 584.7,351.6 585.7,353.2C586.7,354.8 587.6,356.4 588,357 M489.8,334.8C490.2,334.9 491.5,334.8 492.3,335C493.1,335.3 494,335.7 494.8,336.1C495.6,336.6 496.5,337.3 497.3,337.9C498.1,338.5 499,339.2 499.8,339.9C500.6,340.5 501.5,341.1 502.3,341.6C503.1,342.1 504,342.5 504.8,342.8C505.6,343 506.5,343.1 507.3,343C508.1,343 509,342.7 509.8,342.4C510.6,342 511.5,341.5 512.3,341C513.1,340.4 514,339.8 514.8,339.2C515.6,338.6 516.5,338 517.3,337.4C518.1,336.9 519,336.5 519.8,336.1C520.6,335.8 521.5,335.6 522.3,335.5C523.1,335.4 524,335.5 524.8,335.7C525.6,335.8 526.5,336.1 527.3,336.5C528.1,336.9 529,337.3 529.8,337.8C530.6,338.2 531.5,338.7 532.3,339.1C533.1,339.6 534,340 534.8,340.3C535.6,340.7 536.5,340.9 537.3,341.1C538.1,341.3 539,341.3 539.8,341.3C540.6,341.3 541.5,341.2 542.3,341.1C543.1,341 544.4,340.6 544.8,340.5 M582.3,341.3C582.7,341.3 584.4,341.3 584.8,341.3 M612.3,341.7C612.7,341.9 614,342.5 614.8,342.8C615.6,343 616.5,343.1 617.3,343C618.1,343 619.4,342.5 619.8,342.4 M644.8,341.3C645.2,341.5 646.5,342.1 647.3,342.3C648.1,342.5 649,342.6 649.8,342.5C650.6,342.5 651.9,342.1 652.3,342 M489.8,336.7C490.2,337.1 491.5,337.9 492.3,338.8C493.1,339.7 494,340.9 494.8,341.9C495.6,343 496.5,344.2 497.3,345C498.1,345.8 499,346.5 499.8,346.8C500.6,347 501.5,347 502.3,346.7C503.1,346.4 504,345.7 504.8,344.9C505.6,344.2 506.5,343.1 507.3,342.3C508.1,341.5 509,340.5 509.8,339.9C510.6,339.3 511.5,338.9 512.3,338.7C513.1,338.5 514,338.5 514.8,338.7C515.6,338.9 516.5,339.4 517.3,339.8C518.1,340.2 519,340.7 519.8,341C520.6,341.4 521.5,341.7 522.3,341.8C523.1,341.9 524,341.8 524.8,341.7C525.6,341.6 526.5,341.2 527.3,341C528.1,340.8 529,340.5 529.8,340.5C530.6,340.4 531.5,340.4 532.3,340.6C533.1,340.8 534,341.3 534.8,341.8C535.6,342.3 536.5,343 537.3,343.6C538.1,344.1 539,344.8 539.8,345.2C540.6,345.6 541.5,345.9 542.3,345.8C543.1,345.8 544,345.4 544.8,344.9C545.6,344.3 546.9,342.9 547.3,342.5 M562.3,342.7C562.7,343.1 564,344.6 564.8,345.2C565.6,345.8 566.5,346.2 567.3,346.2C568.1,346.3 569,345.9 569.8,345.5C570.6,345.1 571.5,344.3 572.3,343.7C573.1,343 574.4,342 574.8,341.6 M584.8,341.3C585.2,341.3 586.5,341.6 587.3,341.6C588.1,341.6 589.4,341.2 589.8,341.2 M602.3,342.5C602.7,342.9 604,344.2 604.8,344.9C605.6,345.6 606.5,346.2 607.3,346.5C608.1,346.8 609,346.8 609.8,346.5C610.6,346.2 611.5,345.5 612.3,344.7C613.1,343.9 614.4,342.2 614.8,341.7 M629.8,343.2C630.2,343.5 631.5,344.5 632.3,344.8C633.1,345.1 634,345.1 634.8,345C635.6,344.8 636.5,344.4 637.3,344C638.1,343.6 639,342.9 639.8,342.5C640.6,342.1 641.5,341.7 642.3,341.4C643.1,341.2 644,341.2 644.8,341.2C645.6,341.2 646.5,341.5 647.3,341.7C648.1,341.9 649,342.2 649.8,342.3C650.6,342.4 651.5,342.5 652.3,342.4C653.1,342.3 654.4,341.8 654.8,341.6 M669.8,343.4C670.2,343.8 671.5,345.4 672.3,346C673.1,346.6 674,347.1 674.8,347.2C675.6,347.3 676.5,347 677.3,346.5C678.1,345.9 679.4,344.4 679.8,344 M489.8,337.8C490.2,338.2 491.5,339 492.3,339.9C493.1,340.7 494,341.9 494.8,342.8C495.6,343.6 496.5,344.5 497.3,345C498.1,345.4 499,345.5 499.8,345.3C500.6,345.1 501.5,344.5 502.3,343.9C503.1,343.3 504,342.4 504.8,341.8C505.6,341.3 506.5,340.7 507.3,340.6C508.1,340.5 509,340.7 509.8,341.1C510.6,341.5 511.5,342.3 512.3,343C513.1,343.6 514,344.5 514.8,345C515.6,345.4 516.5,345.8 517.3,345.7C518.1,345.6 519,345.1 519.8,344.4C520.6,343.7 521.5,342.5 522.3,341.6C523.1,340.6 524,339.4 524.8,338.8C525.6,338.1 526.5,337.5 527.3,337.5C528.1,337.4 529,337.9 529.8,338.5C530.6,339.1 531.5,340.3 532.3,341.3C533.1,342.2 534,343.5 534.8,344.3C535.6,345.1 536.5,345.8 537.3,346C538.1,346.2 539,346 539.8,345.6C540.6,345.2 541.5,344.3 542.3,343.6C543.1,343 544,342 544.8,341.5C545.6,340.9 546.5,340.5 547.3,340.5C548.1,340.4 549,340.8 549.8,341.2C550.6,341.7 551.5,342.5 552.3,343.1C553.1,343.7 554,344.4 554.8,344.7C555.6,345 556.5,345.1 557.3,344.8C558.1,344.5 559.4,343.3 559.8,343 M572.3,343C572.7,343.4 574,345.1 574.8,345.7C575.6,346.4 576.5,346.7 577.3,346.7C578.1,346.6 579,346.1 579.8,345.4C580.6,344.8 581.9,343.4 582.3,343 M589.8,341.1C590.2,341.4 591.5,342.5 592.3,343C593.1,343.6 594,344.2 594.8,344.3C595.6,344.5 596.5,344.4 597.3,344C598.1,343.6 599.4,342.3 599.8,342 M609.8,341.5C610.2,342 611.5,343.8 612.3,344.7C613.1,345.6 614,346.5 614.8,346.8C615.6,347.1 616.5,347.1 617.3,346.7C618.1,346.4 619,345.5 619.8,344.7C620.6,343.8 621.9,342.3 622.3,341.8 M629.8,341C630.2,341.4 631.5,342.5 632.3,343C633.1,343.5 634,344 634.8,344.1C635.6,344.2 636.5,343.9 637.3,343.4C638.1,343 639.4,341.8 639.8,341.4 M649.8,343.2C650.2,343.6 651.5,345.3 652.3,346C653.1,346.7 654,347.2 654.8,347.2C655.6,347.2 656.5,346.7 657.3,346.1C658.1,345.4 659.4,343.8 659.8,343.3 M669.8,341.2C670.2,341.6 671.5,342.8 672.3,343.3C673.1,343.8 674,344.1 674.8,344.1C675.6,344.1 676.5,343.7 677.3,343.2C678.1,342.7 679.4,341.6 679.8,341.3 M489.8,343.7C490.2,343.1 491.5,340.9 492.3,340.1C493.1,339.3 494,338.8 494.8,338.8C495.6,338.8 496.5,339.5 497.3,340.3C498.1,341 499,342.4 499.8,343.4C500.6,344.4 501.5,345.5 502.3,346.2C503.1,346.8 504,347.2 504.8,347.3C505.6,347.4 506.5,347 507.3,346.7C508.1,346.4 509,345.7 509.8,345.4C510.6,345.2 511.5,344.9 512.3,344.9C513.1,345 514,345.4 514.8,345.8C515.6,346.2 516.5,346.9 517.3,347.3C518.1,347.7 519,348.2 519.8,348.1C520.6,348 521.5,347.6 522.3,346.9C523.1,346.3 524,345 524.8,343.9C525.6,342.9 526.5,341.4 527.3,340.5C528.1,339.6 529,338.7 529.8,338.6C530.6,338.4 531.5,338.8 532.3,339.5C533.1,340.2 534,341.6 534.8,342.9C535.6,344.1 536.5,345.9 537.3,347C538.1,348.2 539,349.4 539.8,349.9C540.6,350.4 541.5,350.4 542.3,350.1C543.1,349.8 544,348.8 544.8,348C545.6,347.2 546.5,346 547.3,345.2C548.1,344.5 549,343.7 549.8,343.4C550.6,343.1 551.5,343.2 552.3,343.3C553.1,343.5 554,344 554.8,344.3C555.6,344.6 556.5,345 557.3,345C558.1,345 559,344.8 559.8,344.4C560.6,344 561.9,343 562.3,342.7 M569.8,343.2C570.2,343.8 571.5,345.7 572.3,346.9C573.1,348.1 574,349.5 574.8,350.2C575.6,350.9 576.5,351.4 577.3,351.2C578.1,351.1 579,350.3 579.8,349.3C580.6,348.4 581.5,346.7 582.3,345.5C583.1,344.2 584.4,342.4 584.8,341.8 M592.3,342.9C592.7,343.2 594,344.5 594.8,344.9C595.6,345.4 596.5,345.6 597.3,345.7C598.1,345.7 599,345.3 599.8,345C600.6,344.7 601.5,344.2 602.3,344.1C603.1,344 604,343.9 604.8,344.3C605.6,344.6 606.5,345.3 607.3,346C608.1,346.6 609,347.7 609.8,348.3C610.6,348.9 611.5,349.6 612.3,349.7C613.1,349.7 614,349.4 614.8,348.7C615.6,348 616.5,346.7 617.3,345.5C618.1,344.3 619.4,342.1 619.8,341.4 M627.3,341.4C627.7,342.1 629,344.2 629.8,345.3C630.6,346.4 631.5,347.6 632.3,348.2C633.1,348.8 634,349 634.8,348.9C635.6,348.8 636.5,348.2 637.3,347.6C638.1,347.1 639,346.2 639.8,345.7C640.6,345.2 641.5,344.7 642.3,344.6C643.1,344.5 644,344.7 644.8,345C645.6,345.2 646.5,345.8 647.3,346C648.1,346.3 649,346.6 649.8,346.4C650.6,346.3 651.5,345.8 652.3,345.1C653.1,344.5 654.4,343 654.8,342.5 M662.3,341.4C662.7,342.1 664,344 664.8,345.3C665.6,346.6 666.5,348.3 667.3,349.2C668.1,350.2 669,350.9 669.8,351.1C670.6,351.2 671.5,350.7 672.3,350C673.1,349.3 674,348 674.8,346.9C675.6,345.8 676.5,344.4 677.3,343.5C678.1,342.6 679.4,342 679.8,341.6 M489.8,346.1C490.2,346.2 491.5,346.3 492.3,346.6C493.1,347 494,347.6 494.8,348.2C495.6,348.8 496.5,349.5 497.3,349.9C498.1,350.4 499,350.7 499.8,350.8C500.6,350.8 501.5,350.5 502.3,350.1C503.1,349.6 504,348.8 504.8,348C505.6,347.3 506.5,346.3 507.3,345.7C508.1,345 509,344.4 509.8,344.2C510.6,344 511.5,344.2 512.3,344.6C513.1,345 514,345.9 514.8,346.8C515.6,347.6 516.5,348.9 517.3,349.8C518.1,350.6 519,351.6 519.8,352.1C520.6,352.6 521.5,352.8 522.3,352.5C523.1,352.3 524,351.6 524.8,350.8C525.6,350 526.5,348.6 527.3,347.6C528.1,346.5 529,345.2 529.8,344.5C530.6,343.7 531.5,343.1 532.3,342.9C533.1,342.8 534,343.2 534.8,343.8C535.6,344.4 536.5,345.5 537.3,346.6C538.1,347.6 539,349 539.8,350C540.6,351 541.5,352 542.3,352.4C543.1,352.9 544,353 544.8,352.7C545.6,352.4 546.5,351.6 547.3,350.8C548.1,350 549,348.6 549.8,347.7C550.6,346.7 551.5,345.5 552.3,344.8C553.1,344.2 554,343.7 554.8,343.7C555.6,343.6 556.5,344 557.3,344.6C558.1,345.2 559,346.2 559.8,347C560.6,347.9 561.5,348.9 562.3,349.6C563.1,350.3 564,350.9 564.8,351.2C565.6,351.4 566.5,351.3 567.3,351C568.1,350.7 569,349.9 569.8,349.3C570.6,348.7 571.5,347.8 572.3,347.2C573.1,346.7 574,346.1 574.8,345.9C575.6,345.6 576.5,345.7 577.3,345.9C578.1,346.1 579,346.6 579.8,347.1C580.6,347.5 581.5,348.2 582.3,348.6C583.1,349.1 584,349.5 584.8,349.6C585.6,349.7 586.5,349.6 587.3,349.4C588.1,349.2 589,348.6 589.8,348.2C590.6,347.7 591.5,347 592.3,346.7C593.1,346.3 594,346 594.8,345.9C595.6,345.9 596.5,346.1 597.3,346.5C598.1,346.9 599,347.6 599.8,348.2C600.6,348.7 601.5,349.5 602.3,350C603.1,350.5 604,350.9 604.8,351C605.6,351 606.5,350.8 607.3,350.4C608.1,349.9 609,349 609.8,348.3C610.6,347.5 611.5,346.5 612.3,345.8C613.1,345.1 614,344.3 614.8,344.1C615.6,343.9 616.5,343.9 617.3,344.3C618.1,344.7 619,345.5 619.8,346.4C620.6,347.2 621.5,348.5 622.3,349.4C623.1,350.4 624,351.4 624.8,352C625.6,352.5 626.5,352.9 627.3,352.7C628.1,352.6 629,352 629.8,351.2C630.6,350.4 631.5,349.1 632.3,348.1C633.1,347 634,345.7 634.8,344.8C635.6,344 636.5,343.2 637.3,343C638.1,342.8 639,343 639.8,343.5C640.6,344 641.5,345.1 642.3,346.1C643.1,347.1 644,348.5 644.8,349.5C645.6,350.5 646.5,351.6 647.3,352.1C648.1,352.7 649,352.9 649.8,352.7C650.6,352.6 651.5,351.9 652.3,351.1C653.1,350.3 654,349.1 654.8,348.1C655.6,347.1 656.5,345.9 657.3,345.2C658.1,344.5 659,344 659.8,343.9C660.6,343.8 661.5,344.1 662.3,344.6C663.1,345 664,346 664.8,346.8C665.6,347.6 666.5,348.6 667.3,349.3C668.1,350 669,350.6 669.8,350.9C670.6,351.1 671.5,351.1 672.3,350.8C673.1,350.6 674,349.9 674.8,349.4C675.6,348.8 676.5,347.9 677.3,347.4C678.1,346.8 679.4,346.3 679.8,346.1 M489.8,351C490.2,350.4 491.5,348.3 492.3,347.1C493.1,346 494,344.7 494.8,344C495.6,343.3 496.5,342.9 497.3,343C498.1,343 499,343.7 499.8,344.4C500.6,345.1 501.5,346.3 502.3,347.2C503.1,348.1 504,349.2 504.8,349.9C505.6,350.6 506.5,351.1 507.3,351.2C508.1,351.4 509,351.2 509.8,350.9C510.6,350.7 511.5,350 512.3,349.7C513.1,349.3 514,348.8 514.8,348.5C515.6,348.3 516.5,348.3 517.3,348.3C518.1,348.4 519,348.7 519.8,348.8C520.6,349 521.5,349.3 522.3,349.3C523.1,349.3 524,349.2 524.8,348.9C525.6,348.6 526.5,347.9 527.3,347.4C528.1,346.8 529,345.9 529.8,345.4C530.6,344.9 531.5,344.4 532.3,344.3C533.1,344.3 534,344.5 534.8,345.1C535.6,345.6 536.5,346.7 537.3,347.7C538.1,348.7 539,350.1 539.8,351.1C540.6,352.1 541.5,353.2 542.3,353.7C543.1,354.1 544,354.3 544.8,353.9C545.6,353.6 546.5,352.6 547.3,351.6C548.1,350.6 549,349 549.8,347.8C550.6,346.6 551.5,345.2 552.3,344.3C553.1,343.5 554,342.9 554.8,342.8C555.6,342.7 556.5,343.2 557.3,343.8C558.1,344.4 559,345.6 559.8,346.6C560.6,347.6 561.5,348.8 562.3,349.6C563.1,350.4 564,351.1 564.8,351.4C565.6,351.7 566.5,351.6 567.3,351.4C568.1,351.2 569,350.6 569.8,350.2C570.6,349.7 571.5,349.1 572.3,348.7C573.1,348.4 574,348.1 574.8,348C575.6,348 576.5,348.2 577.3,348.3C578.1,348.5 579,348.8 579.8,348.9C580.6,349 581.5,349 582.3,348.9C583.1,348.7 584,348.2 584.8,347.8C585.6,347.3 586.5,346.5 587.3,346C588.1,345.5 589,344.9 589.8,344.7C590.6,344.6 591.5,344.6 592.3,345C593.1,345.4 594,346.3 594.8,347.2C595.6,348.1 596.5,349.5 597.3,350.5C598.1,351.5 599,352.7 599.8,353.2C600.6,353.8 601.5,354.2 602.3,354C603.1,353.8 604,353.1 604.8,352.1C605.6,351.2 606.5,349.7 607.3,348.5C608.1,347.3 609,345.7 609.8,344.8C610.6,343.8 611.5,343 612.3,342.8C613.1,342.5 614,342.8 614.8,343.3C615.6,343.8 616.5,344.9 617.3,345.9C618.1,346.9 619,348.3 619.8,349.2C620.6,350.1 621.5,351 622.3,351.5C623.1,351.9 624,352 624.8,351.9C625.6,351.8 626.5,351.2 627.3,350.7C628.1,350.2 629,349.5 629.8,349C630.6,348.5 631.5,348.1 632.3,347.9C633.1,347.7 634,347.8 634.8,347.8C635.6,347.9 636.5,348.3 637.3,348.4C638.1,348.5 639,348.8 639.8,348.7C640.6,348.6 641.5,348.4 642.3,348C643.1,347.7 644,347 644.8,346.6C645.6,346.1 646.5,345.4 647.3,345.2C648.1,344.9 649,344.8 649.8,345.1C650.6,345.4 651.5,346 652.3,346.8C653.1,347.6 654,348.8 654.8,349.8C655.6,350.8 656.5,352 657.3,352.7C658.1,353.4 659,353.9 659.8,353.9C660.6,353.9 661.5,353.4 662.3,352.6C663.1,351.8 664,350.4 664.8,349.2C665.6,348 666.5,346.4 667.3,345.3C668.1,344.3 669,343.3 669.8,342.8C670.6,342.4 671.5,342.5 672.3,342.9C673.1,343.3 674,344.3 674.8,345.3C675.6,346.2 676.5,347.7 677.3,348.7C678.1,349.7 679.4,350.9 679.8,351.4 M489.8,354.9C490.2,354.9 491.5,355.1 492.3,355.1C493.1,355 494,354.8 494.8,354.5C495.6,354.2 496.5,353.8 497.3,353.4C498.1,353 499,352.5 499.8,352.1C500.6,351.7 501.5,351.3 502.3,351.1C503.1,350.8 504,350.6 504.8,350.4C505.6,350.3 506.5,350.3 507.3,350.3C508.1,350.3 509,350.4 509.8,350.5C510.6,350.6 511.5,350.7 512.3,350.8C513.1,350.9 514,351 514.8,351C515.6,351 516.5,350.9 517.3,350.8C518.1,350.7 519,350.5 519.8,350.3C520.6,350.1 521.5,349.8 522.3,349.5C523.1,349.3 524,349 524.8,348.8C525.6,348.6 526.5,348.4 527.3,348.4C528.1,348.4 529,348.4 529.8,348.6C530.6,348.8 531.5,349.2 532.3,349.6C533.1,350 534,350.6 534.8,351.1C535.6,351.7 536.5,352.4 537.3,353C538.1,353.6 539,354.3 539.8,354.7C540.6,355.2 541.5,355.7 542.3,355.9C543.1,356.2 544,356.3 544.8,356.2C545.6,356.1 546.5,355.8 547.3,355.4C548.1,355 549,354.4 549.8,353.7C550.6,353.1 551.5,352.2 552.3,351.5C553.1,350.7 554,349.9 554.8,349.2C555.6,348.5 556.5,347.8 557.3,347.3C558.1,346.8 559,346.5 559.8,346.3C560.6,346.1 561.5,346.1 562.3,346.3C563.1,346.5 564,346.8 564.8,347.3C565.6,347.7 566.5,348.3 567.3,348.9C568.1,349.5 569,350.2 569.8,350.8C570.6,351.4 571.5,352 572.3,352.5C573.1,353 574,353.4 574.8,353.6C575.6,353.9 576.5,354 577.3,354C578.1,354.1 579,353.9 579.8,353.8C580.6,353.6 581.5,353.4 582.3,353.1C583.1,352.9 584,352.6 584.8,352.3C585.6,352.1 586.5,351.8 587.3,351.7C588.1,351.5 589,351.4 589.8,351.4C590.6,351.4 591.5,351.4 592.3,351.5C593.1,351.5 594,351.7 594.8,351.8C595.6,351.8 596.5,352 597.3,352C598.1,352.1 599,352.1 599.8,352C600.6,351.9 601.5,351.7 602.3,351.5C603.1,351.3 604,350.9 604.8,350.6C605.6,350.2 606.5,349.7 607.3,349.3C608.1,349 609,348.5 609.8,348.2C610.6,347.9 611.5,347.6 612.3,347.4C613.1,347.3 614,347.3 614.8,347.4C615.6,347.5 616.5,347.8 617.3,348.2C618.1,348.6 619,349.2 619.8,349.8C620.6,350.5 621.5,351.2 622.3,351.9C623.1,352.6 624,353.4 624.8,354C625.6,354.7 626.5,355.3 627.3,355.7C628.1,356.1 629,356.4 629.8,356.5C630.6,356.6 631.5,356.4 632.3,356.2C633.1,355.9 634,355.4 634.8,354.9C635.6,354.3 636.5,353.6 637.3,352.9C638.1,352.1 639,351.3 639.8,350.6C640.6,349.9 641.5,349.1 642.3,348.6C643.1,348 644,347.5 644.8,347.2C645.6,346.9 646.5,346.8 647.3,346.8C648.1,346.8 649,347 649.8,347.3C650.6,347.6 651.5,348 652.3,348.4C653.1,348.9 654,349.4 654.8,349.9C655.6,350.4 656.5,350.9 657.3,351.3C658.1,351.7 659,352.1 659.8,352.3C660.6,352.6 661.5,352.7 662.3,352.8C663.1,352.8 664,352.8 664.8,352.7C665.6,352.6 666.5,352.5 667.3,352.3C668.1,352.2 669,352 669.8,351.9C670.6,351.8 671.5,351.7 672.3,351.7C673.1,351.7 674,351.7 674.8,351.8C675.6,351.9 676.5,352.1 677.3,352.3C678.1,352.4 679.4,352.8 679.8,352.9 M489.8,355.8C490.2,355.3 491.5,353.9 492.3,353.1C493.1,352.2 494,351.3 494.8,350.8C495.6,350.3 496.5,349.9 497.3,349.9C498.1,349.9 499,350.2 499.8,350.6C500.6,351 501.5,351.8 502.3,352.4C503.1,353 504,353.7 504.8,354.2C505.6,354.6 506.5,355 507.3,355.1C508.1,355.2 509,355.1 509.8,354.9C510.6,354.7 511.5,354.3 512.3,354C513.1,353.6 514,353.2 514.8,353C515.6,352.8 516.5,352.6 517.3,352.6C518.1,352.7 519,352.9 519.8,353.1C520.6,353.3 521.5,353.8 522.3,354C523.1,354.3 524,354.6 524.8,354.6C525.6,354.7 526.5,354.6 527.3,354.4C528.1,354.1 529,353.6 529.8,353.2C530.6,352.7 531.5,352 532.3,351.6C533.1,351.1 534,350.7 534.8,350.5C535.6,350.4 536.5,350.4 537.3,350.7C538.1,351 539,351.7 539.8,352.3C540.6,353 541.5,354 542.3,354.8C543.1,355.5 544,356.4 544.8,356.9C545.6,357.3 546.5,357.7 547.3,357.6C548.1,357.5 549,357 549.8,356.3C550.6,355.7 551.5,354.6 552.3,353.6C553.1,352.7 554,351.4 554.8,350.6C555.6,349.8 556.5,349 557.3,348.6C558.1,348.3 559,348.4 559.8,348.7C560.6,349.1 561.5,349.9 562.3,350.8C563.1,351.7 564,353 564.8,354C565.6,355 566.5,356.1 567.3,356.8C568.1,357.5 569,358 569.8,358.1C570.6,358.1 571.5,357.8 572.3,357.2C573.1,356.7 574,355.7 574.8,354.8C575.6,353.9 576.5,352.7 577.3,351.9C578.1,351.1 579,350.3 579.8,349.9C580.6,349.6 581.5,349.5 582.3,349.6C583.1,349.8 584,350.4 584.8,350.9C585.6,351.5 586.5,352.4 587.3,353C588.1,353.7 589,354.4 589.8,354.9C590.6,355.3 591.5,355.5 592.3,355.6C593.1,355.6 594,355.4 594.8,355.1C595.6,354.8 596.5,354.3 597.3,353.9C598.1,353.5 599,353.1 599.8,352.8C600.6,352.6 601.5,352.4 602.3,352.5C603.1,352.5 604,352.7 604.8,353C605.6,353.2 606.5,353.6 607.3,353.8C608.1,354 609,354.3 609.8,354.3C610.6,354.3 611.5,354.2 612.3,354C613.1,353.7 614,353.2 614.8,352.8C615.6,352.4 616.5,351.8 617.3,351.5C618.1,351.2 619,350.8 619.8,350.8C620.6,350.8 621.5,351 622.3,351.4C623.1,351.8 624,352.6 624.8,353.3C625.6,353.9 626.5,354.9 627.3,355.5C628.1,356.1 629,356.8 629.8,357.1C630.6,357.3 631.5,357.3 632.3,357C633.1,356.7 634,356 634.8,355.3C635.6,354.5 636.5,353.3 637.3,352.4C638.1,351.5 639,350.4 639.8,349.7C640.6,349.1 641.5,348.6 642.3,348.5C643.1,348.5 644,348.8 644.8,349.4C645.6,350 646.5,351.1 647.3,352.1C648.1,353 649,354.4 649.8,355.3C650.6,356.2 651.5,357.2 652.3,357.7C653.1,358.1 654,358.3 654.8,358.1C655.6,357.9 656.5,357.2 657.3,356.5C658.1,355.7 659,354.6 659.8,353.6C660.6,352.7 661.5,351.5 662.3,350.8C663.1,350.1 664,349.5 664.8,349.3C665.6,349.1 666.5,349.3 667.3,349.7C668.1,350 669,350.8 669.8,351.5C670.6,352.2 671.5,353.2 672.3,353.9C673.1,354.6 674,355.2 674.8,355.6C675.6,355.9 676.5,356.1 677.3,356C678.1,355.9 679.4,355.2 679.8,355.1 M489.8,351.4C490.2,351.4 491.5,351.3 492.3,351.4C493.1,351.5 494,351.7 494.8,351.9C495.6,352.2 496.5,352.5 497.3,352.9C498.1,353.3 499,353.7 499.8,354.1C500.6,354.6 501.5,355 502.3,355.5C503.1,355.9 504,356.3 504.8,356.7C505.6,357 506.5,357.4 507.3,357.6C508.1,357.8 509,358 509.8,358.1C510.6,358.1 511.5,358.1 512.3,358C513.1,357.9 514,357.7 514.8,357.5C515.6,357.2 516.5,356.9 517.3,356.5C518.1,356.2 519,355.7 519.8,355.3C520.6,354.9 521.5,354.4 522.3,354C523.1,353.6 524,353.1 524.8,352.8C525.6,352.4 526.5,352.1 527.3,351.9C528.1,351.7 529,351.5 529.8,351.4C530.6,351.3 531.5,351.4 532.3,351.5C533.1,351.5 534,351.7 534.8,352C535.6,352.2 536.5,352.6 537.3,352.9C538.1,353.3 539,353.7 539.8,354.2C540.6,354.6 541.5,355 542.3,355.5C543.1,355.9 544,356.3 544.8,356.6C545.6,357 546.5,357.3 547.3,357.5C548.1,357.8 549,357.9 549.8,358C550.6,358.1 551.5,358.1 552.3,358C553.1,357.9 554,357.7 554.8,357.4C555.6,357.2 556.5,356.9 557.3,356.5C558.1,356.1 559,355.7 559.8,355.3C560.6,354.9 561.5,354.4 562.3,354C563.1,353.6 564,353.2 564.8,352.8C565.6,352.5 566.5,352.2 567.3,351.9C568.1,351.7 569,351.5 569.8,351.5C570.6,351.4 571.5,351.4 572.3,351.5C573.1,351.6 574,351.8 574.8,352C575.6,352.3 576.5,352.6 577.3,353C578.1,353.3 579,353.8 579.8,354.2C580.6,354.6 581.5,355 582.3,355.5C583.1,355.9 584,356.3 584.8,356.6C585.6,357 586.5,357.3 587.3,357.5C588.1,357.7 589,357.9 589.8,358C590.6,358 591.5,358 592.3,357.9C593.1,357.8 594,357.6 594.8,357.4C595.6,357.2 596.5,356.8 597.3,356.5C598.1,356.1 599,355.7 599.8,355.3C600.6,354.9 601.5,354.4 602.3,354C603.1,353.6 604,353.2 604.8,352.8C605.6,352.5 606.5,352.2 607.3,352C608.1,351.7 609,351.6 609.8,351.5C610.6,351.5 611.5,351.5 612.3,351.6C613.1,351.7 614,351.8 614.8,352.1C615.6,352.3 616.5,352.7 617.3,353C618.1,353.4 619,353.8 619.8,354.2C620.6,354.6 621.5,355 622.3,355.5C623.1,355.9 624,356.3 624.8,356.6C625.6,356.9 626.5,357.2 627.3,357.5C628.1,357.7 629,357.8 629.8,357.9C630.6,358 631.5,358 632.3,357.9C633.1,357.8 634,357.6 634.8,357.3C635.6,357.1 636.5,356.8 637.3,356.4C638.1,356.1 639,355.7 639.8,355.3C640.6,354.8 641.5,354.4 642.3,354C643.1,353.6 644,353.2 644.8,352.9C645.6,352.5 646.5,352.2 647.3,352C648.1,351.8 649,351.6 649.8,351.6C650.6,351.5 651.5,351.5 652.3,351.6C653.1,351.7 654,351.9 654.8,352.1C655.6,352.4 656.5,352.7 657.3,353C658.1,353.4 659,353.8 659.8,354.2C660.6,354.6 661.5,355.1 662.3,355.5C663.1,355.8 664,356.2 664.8,356.6C665.6,356.9 666.5,357.2 667.3,357.4C668.1,357.6 669,357.8 669.8,357.9C670.6,357.9 671.5,357.9 672.3,357.8C673.1,357.7 674,357.5 674.8,357.3C675.6,357.1 676.5,356.7 677.3,356.4C678.1,356 679.4,355.4 679.8,355.2 M489.8,358.9C490.2,359.2 491.5,360.4 492.3,360.7C493.1,361 494,360.9 494.8,360.7C495.6,360.4 496.5,359.7 497.3,359C498.1,358.4 499,357.5 499.8,356.8C500.6,356.2 501.5,355.5 502.3,355.2C503.1,354.9 504,354.8 504.8,354.9C505.6,355 506.5,355.4 507.3,355.8C508.1,356.2 509,356.8 509.8,357.2C510.6,357.6 511.5,358 512.3,358.1C513.1,358.2 514,358.2 514.8,357.9C515.6,357.7 516.5,357.2 517.3,356.8C518.1,356.4 519,355.8 519.8,355.5C520.6,355.2 521.5,355 522.3,355C523.1,355.1 524,355.4 524.8,355.8C525.6,356.3 526.5,357.1 527.3,357.7C528.1,358.4 529,359.2 529.8,359.7C530.6,360.3 531.5,360.7 532.3,360.7C533.1,360.8 534,360.5 534.8,360C535.6,359.5 536.5,358.5 537.3,357.6C538.1,356.8 539,355.6 539.8,354.7C540.6,353.9 541.5,353 542.3,352.6C543.1,352.3 544,352.2 544.8,352.4C545.6,352.7 546.5,353.5 547.3,354.3C548.1,355.2 549,356.4 549.8,357.4C550.6,358.4 551.5,359.6 552.3,360.3C553.1,361 554,361.6 554.8,361.7C555.6,361.8 556.5,361.5 557.3,361C558.1,360.4 559,359.5 559.8,358.6C560.6,357.7 561.5,356.6 562.3,355.8C563.1,355 564,354.3 564.8,353.9C565.6,353.5 566.5,353.5 567.3,353.7C568.1,353.9 569,354.5 569.8,355C570.6,355.6 571.5,356.4 572.3,357C573.1,357.6 574,358.2 574.8,358.5C575.6,358.8 576.5,358.9 577.3,358.8C578.1,358.7 579,358.3 579.8,357.9C580.6,357.6 581.5,357 582.3,356.6C583.1,356.3 584,355.9 584.8,355.9C585.6,355.8 586.5,355.9 587.3,356.2C588.1,356.5 589,357 589.8,357.5C590.6,357.9 591.5,358.6 592.3,358.9C593.1,359.3 594,359.6 594.8,359.5C595.6,359.5 596.5,359.2 597.3,358.7C598.1,358.2 599,357.4 599.8,356.6C600.6,355.9 601.5,354.9 602.3,354.3C603.1,353.7 604,353.1 604.8,353C605.6,352.9 606.5,353.1 607.3,353.5C608.1,354 609,354.9 609.8,355.8C610.6,356.7 611.5,357.9 612.3,358.8C613.1,359.8 614,360.8 614.8,361.3C615.6,361.8 616.5,362 617.3,361.9C618.1,361.7 619,361.1 619.8,360.3C620.6,359.6 621.5,358.3 622.3,357.3C623.1,356.4 624,355.1 624.8,354.4C625.6,353.6 626.5,352.9 627.3,352.7C628.1,352.5 629,352.6 629.8,353C630.6,353.4 631.5,354.3 632.3,355.1C633.1,355.9 634,357 634.8,357.7C635.6,358.5 636.5,359.2 637.3,359.6C638.1,360 639,360.1 639.8,360C640.6,359.9 641.5,359.4 642.3,358.9C643.1,358.5 644,357.7 644.8,357.2C645.6,356.7 646.5,356.1 647.3,355.9C648.1,355.6 649,355.5 649.8,355.6C650.6,355.7 651.5,356.1 652.3,356.5C653.1,356.8 654,357.4 654.8,357.7C655.6,358.1 656.5,358.4 657.3,358.4C658.1,358.5 659,358.3 659.8,358C660.6,357.6 661.5,357 662.3,356.5C663.1,356 664,355.3 664.8,354.9C665.6,354.5 666.5,354.1 667.3,354.1C668.1,354.1 669,354.4 669.8,354.9C670.6,355.4 671.5,356.3 672.3,357C673.1,357.8 674,358.9 674.8,359.6C675.6,360.3 676.5,361 677.3,361.3C678.1,361.5 679.4,361.1 679.8,361.1 M489.8,359C490.2,359.4 491.5,361 492.3,361.5C493.1,362.1 494,362.3 494.8,362.3C495.6,362.2 496.5,361.6 497.3,361.1C498.1,360.5 499,359.6 499.8,359C500.6,358.4 501.5,357.7 502.3,357.5C503.1,357.2 504,357.2 504.8,357.4C505.6,357.5 506.5,358.1 507.3,358.5C508.1,358.9 509,359.5 509.8,359.8C510.6,360 511.5,360.1 512.3,359.9C513.1,359.7 514,359.1 514.8,358.4C515.6,357.8 516.5,356.8 517.3,356.1C518.1,355.4 519,354.5 519.8,354.2C520.6,353.9 521.5,353.8 522.3,354.2C523.1,354.5 524,355.4 524.8,356.2C525.6,357.1 526.5,358.4 527.3,359.4C528.1,360.4 529,361.5 529.8,362.1C530.6,362.7 531.5,363 532.3,363C533.1,362.9 534,362.3 534.8,361.7C535.6,361.1 536.5,360 537.3,359.2C538.1,358.4 539,357.5 539.8,357C540.6,356.6 541.5,356.3 542.3,356.4C543.1,356.4 544,356.8 544.8,357.2C545.6,357.6 546.5,358.3 547.3,358.6C548.1,359 549,359.3 549.8,359.3C550.6,359.3 551.5,359 552.3,358.5C553.1,358.1 554,357.3 554.8,356.7C555.6,356.1 556.5,355.4 557.3,355.1C558.1,354.8 559,354.6 559.8,354.9C560.6,355.2 561.5,355.9 562.3,356.7C563.1,357.5 564,358.8 564.8,359.8C565.6,360.7 566.5,361.8 567.3,362.4C568.1,363 569,363.4 569.8,363.3C570.6,363.2 571.5,362.6 572.3,361.9C573.1,361.2 574,360 574.8,359.1C575.6,358.2 576.5,357.1 577.3,356.5C578.1,355.8 579,355.4 579.8,355.3C580.6,355.2 581.5,355.6 582.3,356C583.1,356.3 584,357.1 584.8,357.6C585.6,358.1 586.5,358.7 587.3,358.9C588.1,359.1 589,359.1 589.8,358.9C590.6,358.7 591.5,358.1 592.3,357.7C593.1,357.2 594,356.5 594.8,356.2C595.6,355.9 596.5,355.7 597.3,355.8C598.1,356 599,356.6 599.8,357.2C600.6,357.9 601.5,359 602.3,359.9C603.1,360.7 604,361.8 604.8,362.4C605.6,362.9 606.5,363.3 607.3,363.2C608.1,363.1 609,362.5 609.8,361.8C610.6,361.1 611.5,359.8 612.3,358.8C613.1,357.9 614,356.6 614.8,355.9C615.6,355.1 616.5,354.5 617.3,354.4C618.1,354.2 619,354.5 619.8,355C620.6,355.4 621.5,356.3 622.3,356.9C623.1,357.6 624,358.4 624.8,358.8C625.6,359.3 626.5,359.6 627.3,359.6C628.1,359.6 629,359.2 629.8,358.8C630.6,358.5 631.5,357.8 632.3,357.5C633.1,357.1 634,356.7 634.8,356.8C635.6,356.8 636.5,357.1 637.3,357.6C638.1,358.1 639,359 639.8,359.7C640.6,360.4 641.5,361.4 642.3,361.9C643.1,362.4 644,362.8 644.8,362.7C645.6,362.6 646.5,362.1 647.3,361.4C648.1,360.7 649,359.5 649.8,358.5C650.6,357.4 651.5,356.2 652.3,355.4C653.1,354.6 654,353.9 654.8,353.7C655.6,353.6 656.5,353.8 657.3,354.3C658.1,354.8 659,355.7 659.8,356.5C660.6,357.3 661.5,358.4 662.3,359C663.1,359.7 664,360.2 664.8,360.4C665.6,360.6 666.5,360.4 667.3,360.1C668.1,359.8 669,359.1 669.8,358.7C670.6,358.3 671.5,357.8 672.3,357.6C673.1,357.4 674,357.5 674.8,357.7C675.6,358 676.5,358.7 677.3,359.2C678.1,359.8 679.4,360.8 679.8,361.1 M489.8,356.4C490.2,356.4 491.5,356.1 492.3,356.3C493.1,356.5 494,357 494.8,357.6C495.6,358.2 496.5,359 497.3,359.9C498.1,360.7 499,361.7 499.8,362.5C500.6,363.4 501.5,364.2 502.3,364.8C503.1,365.4 504,365.9 504.8,366C505.6,366.2 506.5,366.1 507.3,365.7C508.1,365.4 509,364.8 509.8,364C510.6,363.3 511.5,362.3 512.3,361.4C513.1,360.5 514,359.5 514.8,358.6C515.6,357.8 516.5,357 517.3,356.5C518.1,356 519,355.7 519.8,355.7C520.6,355.7 521.5,356 522.3,356.4C523.1,356.8 524,357.6 524.8,358.4C525.6,359.2 526.5,360.2 527.3,361C528.1,361.9 529,362.9 529.8,363.6C530.6,364.3 531.5,364.9 532.3,365.3C533.1,365.6 534,365.8 534.8,365.7C535.6,365.6 536.5,365.2 537.3,364.7C538.1,364.2 539,363.5 539.8,362.7C540.6,362 541.5,361.1 542.3,360.4C543.1,359.6 544,358.8 544.8,358.3C545.6,357.8 546.5,357.3 547.3,357.1C548.1,356.9 549,356.9 549.8,357C550.6,357.2 551.5,357.6 552.3,358C553.1,358.5 554,359.1 554.8,359.7C555.6,360.3 556.5,360.9 557.3,361.5C558.1,362 559,362.6 559.8,363C560.6,363.3 561.5,363.6 562.3,363.7C563.1,363.8 564,363.8 564.8,363.7C565.6,363.6 566.5,363.3 567.3,363C568.1,362.7 569,362.3 569.8,361.9C570.6,361.6 571.5,361.2 572.3,360.8C573.1,360.5 574,360.2 574.8,359.9C575.6,359.7 576.5,359.5 577.3,359.4C578.1,359.2 579,359.2 579.8,359.2C580.6,359.2 581.5,359.2 582.3,359.3C583.1,359.4 584,359.5 584.8,359.6C585.6,359.7 586.5,359.9 587.3,360.1C588.1,360.2 589,360.4 589.8,360.6C590.6,360.8 591.5,361 592.3,361.3C593.1,361.5 594,361.7 594.8,361.9C595.6,362.1 596.5,362.4 597.3,362.5C598.1,362.7 599,362.9 599.8,363C600.6,363 601.5,363.1 602.3,363C603.1,362.9 604,362.7 604.8,362.5C605.6,362.2 606.5,361.9 607.3,361.5C608.1,361.1 609,360.6 609.8,360.2C610.6,359.7 611.5,359.2 612.3,358.8C613.1,358.4 614,358.1 614.8,357.9C615.6,357.7 616.5,357.6 617.3,357.7C618.1,357.7 619,358 619.8,358.4C620.6,358.7 621.5,359.3 622.3,359.9C623.1,360.5 624,361.2 624.8,361.9C625.6,362.5 626.5,363.3 627.3,363.8C628.1,364.3 629,364.8 629.8,365C630.6,365.2 631.5,365.3 632.3,365.1C633.1,365 634,364.5 634.8,364C635.6,363.5 636.5,362.7 637.3,361.9C638.1,361.1 639,360.1 639.8,359.4C640.6,358.6 641.5,357.7 642.3,357.2C643.1,356.6 644,356.2 644.8,356C645.6,355.9 646.5,355.9 647.3,356.2C648.1,356.6 649,357.2 649.8,357.9C650.6,358.6 651.5,359.5 652.3,360.4C653.1,361.3 654,362.3 654.8,363.2C655.6,364 656.5,364.8 657.3,365.3C658.1,365.8 659,366.1 659.8,366.2C660.6,366.2 661.5,365.9 662.3,365.5C663.1,365.1 664,364.3 664.8,363.5C665.6,362.7 666.5,361.7 667.3,360.8C668.1,359.9 669,358.9 669.8,358.1C670.6,357.4 671.5,356.7 672.3,356.3C673.1,356 674,355.8 674.8,355.9C675.6,356 676.5,356.4 677.3,356.9C678.1,357.4 679.4,358.7 679.8,359 M489.8,359.1C490.2,359.1 491.5,358.9 492.3,359C493.1,359.1 494,359.4 494.8,359.7C495.6,360 496.5,360.5 497.3,360.9C498.1,361.2 499,361.7 499.8,362C500.6,362.4 501.5,362.6 502.3,362.8C503.1,362.9 504,363 504.8,362.9C505.6,362.8 506.5,362.6 507.3,362.4C508.1,362.2 509,361.9 509.8,361.6C510.6,361.4 511.5,361.1 512.3,360.9C513.1,360.8 514,360.7 514.8,360.8C515.6,360.8 516.5,361 517.3,361.4C518.1,361.7 519,362.2 519.8,362.7C520.6,363.2 521.5,363.8 522.3,364.3C523.1,364.9 524,365.5 524.8,365.9C525.6,366.4 526.5,366.8 527.3,366.9C528.1,367 529,367 529.8,366.8C530.6,366.6 531.5,366.1 532.3,365.5C533.1,364.9 534,364.1 534.8,363.3C535.6,362.4 536.5,361.4 537.3,360.6C538.1,359.7 539,358.8 539.8,358.1C540.6,357.4 541.5,356.8 542.3,356.4C543.1,356.1 544,356 544.8,356.1C545.6,356.2 546.5,356.7 547.3,357.2C548.1,357.8 549,358.6 549.8,359.5C550.6,360.3 551.5,361.4 552.3,362.3C553.1,363.3 554,364.3 554.8,365.1C555.6,365.8 556.5,366.6 557.3,367C558.1,367.5 559,367.7 559.8,367.8C560.6,367.8 561.5,367.6 562.3,367.3C563.1,366.9 564,366.3 564.8,365.7C565.6,365.1 566.5,364.3 567.3,363.6C568.1,362.9 569,362.2 569.8,361.6C570.6,361.1 571.5,360.5 572.3,360.2C573.1,359.9 574,359.7 574.8,359.7C575.6,359.6 576.5,359.8 577.3,360C578.1,360.2 579,360.6 579.8,360.9C580.6,361.2 581.5,361.6 582.3,361.9C583.1,362.2 584,362.4 584.8,362.6C585.6,362.7 586.5,362.7 587.3,362.7C588.1,362.6 589,362.4 589.8,362.2C590.6,361.9 591.5,361.6 592.3,361.3C593.1,361 594,360.6 594.8,360.4C595.6,360.2 596.5,360 597.3,360C598.1,360 599,360.1 599.8,360.4C600.6,360.7 601.5,361.1 602.3,361.6C603.1,362.2 604,362.8 604.8,363.5C605.6,364.1 606.5,364.9 607.3,365.5C608.1,366.1 609,366.7 609.8,367C610.6,367.4 611.5,367.6 612.3,367.6C613.1,367.6 614,367.3 614.8,366.9C615.6,366.5 616.5,365.8 617.3,365C618.1,364.3 619,363.3 619.8,362.4C620.6,361.4 621.5,360.4 622.3,359.5C623.1,358.7 624,357.8 624.8,357.3C625.6,356.7 626.5,356.3 627.3,356.1C628.1,356 629,356.1 629.8,356.4C630.6,356.7 631.5,357.3 632.3,358C633.1,358.7 634,359.6 634.8,360.5C635.6,361.4 636.5,362.4 637.3,363.3C638.1,364.1 639,365 639.8,365.6C640.6,366.2 641.5,366.7 642.3,367C643.1,367.3 644,367.3 644.8,367.2C645.6,367.1 646.5,366.7 647.3,366.2C648.1,365.8 649,365.2 649.8,364.6C650.6,364 651.5,363.3 652.3,362.7C653.1,362.2 654,361.6 654.8,361.3C655.6,360.9 656.5,360.6 657.3,360.5C658.1,360.4 659,360.4 659.8,360.5C660.6,360.7 661.5,360.9 662.3,361.2C663.1,361.4 664,361.8 664.8,362C665.6,362.3 666.5,362.6 667.3,362.7C668.1,362.8 669,362.8 669.8,362.8C670.6,362.7 671.5,362.5 672.3,362.2C673.1,361.9 674,361.5 674.8,361.2C675.6,360.8 676.5,360.4 677.3,360.1C678.1,359.7 679.4,359.4 679.8,359.3 M489.8,368.9C490.2,368.7 491.5,368.5 492.3,367.9C493.1,367.4 494,366.5 494.8,365.7C495.6,364.9 496.5,363.8 497.3,363.2C498.1,362.5 499,361.8 499.8,361.5C500.6,361.2 501.5,361.1 502.3,361.2C503.1,361.4 504,361.8 504.8,362.2C505.6,362.6 506.5,363.3 507.3,363.7C508.1,364.2 509,364.7 509.8,365.1C510.6,365.4 511.5,365.7 512.3,365.9C513.1,366 514,366.1 514.8,366.1C515.6,366.2 516.5,366.2 517.3,366.1C518.1,366.1 519,366.1 519.8,366.1C520.6,366 521.5,366 522.3,365.9C523.1,365.7 524,365.5 524.8,365.2C525.6,364.9 526.5,364.5 527.3,364.1C528.1,363.6 529,363 529.8,362.6C530.6,362.2 531.5,361.7 532.3,361.5C533.1,361.3 534,361.2 534.8,361.4C535.6,361.6 536.5,362 537.3,362.7C538.1,363.3 539,364.2 539.8,365C540.6,365.8 541.5,366.8 542.3,367.4C543.1,368 544,368.6 544.8,368.8C545.6,369 546.5,368.8 547.3,368.4C548.1,368 549,367.2 549.8,366.3C550.6,365.5 551.5,364.4 552.3,363.5C553.1,362.6 554,361.7 554.8,361.2C555.6,360.7 556.5,360.3 557.3,360.4C558.1,360.4 559,360.8 559.8,361.3C560.6,361.8 561.5,362.7 562.3,363.4C563.1,364.1 564,365 564.8,365.6C565.6,366.2 566.5,366.8 567.3,367.1C568.1,367.4 569,367.4 569.8,367.3C570.6,367.3 571.5,366.9 572.3,366.6C573.1,366.3 574,365.9 574.8,365.5C575.6,365.2 576.5,364.9 577.3,364.6C578.1,364.3 579,364.1 579.8,363.9C580.6,363.7 581.5,363.6 582.3,363.4C583.1,363.3 584,363.1 584.8,363C585.6,362.8 586.5,362.7 587.3,362.6C588.1,362.5 589,362.4 589.8,362.5C590.6,362.6 591.5,362.9 592.3,363.2C593.1,363.6 594,364.2 594.8,364.7C595.6,365.3 596.5,366 597.3,366.6C598.1,367.1 599,367.7 599.8,368C600.6,368.3 601.5,368.4 602.3,368.1C603.1,367.9 604,367.4 604.8,366.7C605.6,366.1 606.5,365 607.3,364.2C608.1,363.3 609,362.3 609.8,361.6C610.6,360.9 611.5,360.3 612.3,360.2C613.1,360 614,360.2 614.8,360.6C615.6,361 616.5,361.9 617.3,362.7C618.1,363.5 619,364.6 619.8,365.5C620.6,366.3 621.5,367.2 622.3,367.7C623.1,368.1 624,368.4 624.8,368.4C625.6,368.4 626.5,368 627.3,367.6C628.1,367.1 629,366.3 629.8,365.7C630.6,365.1 631.5,364.3 632.3,363.8C633.1,363.3 634,362.8 634.8,362.6C635.6,362.3 636.5,362.3 637.3,362.3C638.1,362.3 639,362.5 639.8,362.7C640.6,362.8 641.5,363.1 642.3,363.3C643.1,363.5 644,363.7 644.8,363.9C645.6,364.1 646.5,364.2 647.3,364.4C648.1,364.6 649,364.9 649.8,365.1C650.6,365.4 651.5,365.8 652.3,366.1C653.1,366.4 654,366.7 654.8,366.9C655.6,367.1 656.5,367.2 657.3,367.2C658.1,367.1 659,366.8 659.8,366.4C660.6,366 661.5,365.3 662.3,364.6C663.1,363.9 664,363 664.8,362.4C665.6,361.7 666.5,361.1 667.3,360.8C668.1,360.5 669,360.4 669.8,360.6C670.6,360.8 671.5,361.4 672.3,362.2C673.1,362.9 674,364 674.8,364.8C675.6,365.7 676.5,366.8 677.3,367.5C678.1,368.1 679.4,368.6 679.8,368.9 M489.8,330.4C490.2,330 491.5,328.9 492.3,327.9C493.1,326.9 494,325.5 494.8,324.4C495.6,323.3 496.5,322 497.3,321C498.1,320.1 499,319.2 499.8,318.7C500.6,318.1 501.5,317.9 502.3,317.8C503.1,317.8 504,318.1 504.8,318.5C505.6,318.8 506.5,319.5 507.3,320C508.1,320.6 509,321.3 509.8,321.9C510.6,322.4 511.5,322.9 512.3,323.3C513.1,323.7 514,323.9 514.8,324.1C515.6,324.2 516.5,324.2 517.3,324.3C518.1,324.3 519,324.3 519.8,324.3C520.6,324.4 521.5,324.4 522.3,324.6C523.1,324.8 524,325 524.8,325.3C525.6,325.6 526.5,326 527.3,326.3C528.1,326.5 529,326.9 529.8,327C530.6,327.2 531.5,327.2 532.3,327.1C533.1,326.9 534,326.5 534.8,325.9C535.6,325.4 536.5,324.5 537.3,323.6C538.1,322.8 539.4,321.2 539.8,320.7 M489.8,336C490.2,335.4 491.5,334.1 492.3,332.7C493.1,331.2 494,329.1 494.8,327.4C495.6,325.7 496.5,323.7 497.3,322.5C498.1,321.3 499,320.3 499.8,320.2C500.6,320 501.5,320.6 502.3,321.5C503.1,322.4 504,324.2 504.8,325.7C505.6,327.3 506.5,329.4 507.3,330.8C508.1,332.3 509,333.8 509.8,334.5C510.6,335.2 511.5,335.4 512.3,335.1C513.1,334.8 514,333.8 514.8,332.6C515.6,331.5 516.5,329.7 517.3,328.3C518.1,326.9 519,325.3 519.8,324.3C520.6,323.3 521.5,322.5 522.3,322.3C523.1,322.2 524,322.6 524.8,323.2C525.6,323.8 526.5,325.1 527.3,326.2C528.1,327.2 529,328.7 529.8,329.6C530.6,330.6 531.5,331.5 532.3,331.9C533.1,332.4 534,332.4 534.8,332.1C535.6,331.9 536.5,331.1 537.3,330.4C538.1,329.7 539.4,328.3 539.8,327.8 M489.8,331.9C490.2,332.4 491.5,334 492.3,335C493.1,335.9 494,337 494.8,337.5C495.6,337.9 496.5,337.9 497.3,337.5C498.1,337.1 499,336 499.8,335.1C500.6,334.2 501.5,332.8 502.3,332.1C503.1,331.4 504,330.9 504.8,331C505.6,331.2 506.5,332.1 507.3,333.2C508.1,334.2 509,336.2 509.8,337.6C510.6,339.1 511.5,340.9 512.3,341.9C513.1,342.9 514,343.6 514.8,343.6C515.6,343.5 516.5,342.7 517.3,341.7C518.1,340.7 519,338.9 519.8,337.6C520.6,336.3 521.5,334.8 522.3,334C523.1,333.2 524,332.8 524.8,332.9C525.6,333 526.5,333.9 527.3,334.6C528.1,335.3 529,336.6 529.8,337.3C530.6,338 531.5,338.6 532.3,338.6C533.1,338.6 534,337.9 534.8,337.1C535.6,336.2 536.5,334.6 537.3,333.5C538.1,332.3 539.4,330.7 539.8,330.1 M489.8,336.1C490.2,335.8 491.5,334.4 492.3,334.1C493.1,333.7 494,333.6 494.8,333.9C495.6,334.2 496.5,334.9 497.3,335.9C498.1,337 499,338.5 499.8,340C500.6,341.4 501.5,343.3 502.3,344.8C503.1,346.4 504,348 504.8,349.1C505.6,350.2 506.5,351.1 507.3,351.4C508.1,351.7 509,351.5 509.8,350.8C510.6,350.2 511.5,348.9 512.3,347.5C513.1,346.2 514,344.2 514.8,342.5C515.6,340.8 516.5,338.7 517.3,337.2C518.1,335.6 519,334.1 519.8,333.2C520.6,332.3 521.5,331.7 522.3,331.6C523.1,331.5 524,331.9 524.8,332.6C525.6,333.3 526.5,334.6 527.3,335.8C528.1,337 529,338.5 529.8,339.8C530.6,341.1 531.5,342.4 532.3,343.4C533.1,344.3 534,345 534.8,345.4C535.6,345.8 536.5,345.9 537.3,345.7C538.1,345.6 539.4,344.7 539.8,344.5 M489.8,346C490.2,346.4 491.5,347.6 492.3,348.2C493.1,348.8 494,349.4 494.8,349.7C495.6,350 496.5,350.1 497.3,350C498.1,349.9 499,349.5 499.8,348.9C500.6,348.4 501.5,347.5 502.3,346.7C503.1,345.8 504,344.7 504.8,343.7C505.6,342.8 506.5,341.7 507.3,340.8C508.1,339.9 509,339.1 509.8,338.6C510.6,338.1 511.5,337.7 512.3,337.7C513.1,337.7 514,337.9 514.8,338.4C515.6,338.9 516.5,339.8 517.3,340.7C518.1,341.6 519,342.8 519.8,343.9C520.6,345.1 521.5,346.4 522.3,347.5C523.1,348.5 524,349.6 524.8,350.4C525.6,351.1 526.5,351.7 527.3,351.9C528.1,352.2 529,352.1 529.8,351.7C530.6,351.3 531.5,350.6 532.3,349.7C533.1,348.8 534,347.5 534.8,346.3C535.6,345.1 536.5,343.6 537.3,342.4C538.1,341.1 539.4,339.4 539.8,338.8 M489.8,348.5C490.2,348 491.5,346.3 492.3,345.4C493.1,344.4 494,343.5 494.8,342.9C495.6,342.2 496.5,341.7 497.3,341.4C498.1,341.2 499,341.1 499.8,341.3C500.6,341.4 501.5,341.8 502.3,342.2C503.1,342.7 504,343.4 504.8,344.1C505.6,344.8 506.5,345.6 507.3,346.3C508.1,347.1 509,347.9 509.8,348.5C510.6,349.2 511.5,349.8 512.3,350.3C513.1,350.7 514,351.1 514.8,351.3C515.6,351.5 516.5,351.5 517.3,351.5C518.1,351.4 519,351.2 519.8,350.9C520.6,350.7 521.5,350.3 522.3,349.9C523.1,349.5 524,349.1 524.8,348.7C525.6,348.3 526.5,347.9 527.3,347.6C528.1,347.3 529,347 529.8,346.8C530.6,346.6 531.5,346.5 532.3,346.5C533.1,346.4 534,346.5 534.8,346.5C535.6,346.6 536.5,346.7 537.3,346.8C538.1,346.8 539.4,347 539.8,347" fill="none" stroke="#e46c2a" stroke-width="1.3" stroke-linejoin="round"/>
<path d="M490.3,296.3h0M493.8,296.8h0M497.4,297.8h0M500.9,299.7h0M504.4,303h0M507.9,303h0M511.5,303.6h0M515,305h0M518.6,307.1h0M522.7,308.3h0M526.7,310.8h0M530.8,314.8h0M534.8,318.9h0M538.9,321.3h0M543,322.4h0M547.1,322.8h0M551.3,323.3h0M555.4,324.2h0M559,325.3h0M562.5,327.7h0M566,331.3h0M569.6,336h0M573.2,341.3h0M490.3,320.8h0M493.8,316.3h0M497.4,311.5h0M500.9,307.1h0M504.4,303h0M500.9,333.6h0M504.4,327h0M507.9,321.1h0M511.5,315.8h0M515,311.1h0M518.6,307.1h0M522.7,303h0M526.7,299.5h0M530.8,297.7h0M534.8,296.6h0M538.9,296.3h0M543,296.7h0M547.1,297.6h0M551.3,299.5h0M555.4,302h0M559,302.7h0M562.5,304.2h0M566,306.7h0M569.6,309.3h0M573.2,310.2h0M576.8,311.8h0M580.4,314.5h0M584,318.4h0M588.1,318.9h0M592.1,318.9h0M596.2,319.8h0M600.2,321.3h0M604.3,323.7h0M608,323.7h0M611.6,323.7h0M615.3,324.2h0M619,324.7h0M622.6,323.7h0M518.6,307.1h0M522.7,312.5h0M526.7,318.6h0M530.8,326.4h0M534.8,334.2h0M534.8,332.8h0M538.9,326h0M543,320.6h0M547.1,312h0M551.3,306.4h0M555.4,302h0M526.7,332.5h0M530.8,325.2h0M534.8,323.2h0M538.9,321.3h0M547.1,336.5h0M551.3,328.1h0M555.4,324.2h0M559,320.3h0M562.5,316.5h0M566,312.8h0M569.6,309.3h0M569.6,340.7h0M573.2,333.2h0M576.8,327.4h0M580.4,322.9h0M584,318.4h0M588.1,312.4h0M592.1,307.7h0M596.2,305h0M600.2,303h0M604.3,302.3h0M608,300.4h0M611.6,299.4h0M615.3,299.3h0M619,299.6h0M622.6,300.8h0M626.3,303h0M630.3,303.3h0M634.4,304.5h0M638.5,306.7h0M642.5,309.6h0M646.2,312.1h0M649.9,314.9h0M653.6,318.4h0M657.3,322.6h0M661,326.7h0M664.7,333h0M668.8,341.6h0M584,318.4h0M588.1,322.4h0M592.1,333.1h0M596.2,341.2h0M604.3,302.3h0M608,305h0M611.6,308.6h0M615.3,313.2h0M619,317.9h0M622.6,323.4h0M626.3,330.6h0M630.3,338.4h0M596.2,334.2h0M600.2,326.7h0M604.3,323.7h0M608,320.7h0M611.6,316.4h0M615.3,312.7h0M619,308.6h0M622.6,305.3h0M626.3,303h0M619,339.9h0M622.6,332.3h0M626.3,327.3h0M630.3,322.5h0M634.4,317.4h0M638.5,313.3h0M642.5,309.6h0M646.2,307.9h0M649.9,306.7h0M653.6,306h0M657.3,305.7h0M661,305.8h0M664.7,307.1h0M668.8,308.2h0M673,310.7h0M677.1,314.9h0M681.2,318.4h0M642.5,341.9h0M646.2,334.3h0M649.9,326.8h0M653.6,319.8h0M657.3,314.3h0M661,310.3h0M664.7,307.1h0M661,337.6h0M664.7,330.5h0M668.8,326.1h0M673,323.7h0M677.1,321.4h0M681.2,318.4h0M493.8,322.7h0M497.4,324.3h0M500.9,326.4h0M504.4,328.2h0M507.9,329.1h0M511.5,329.6h0M515,330.1h0M518.6,330.2h0M522.7,329.6h0M526.7,328.1h0M530.8,325.1h0M534.8,323h0M538.9,321.6h0M543,321.8h0M547.1,322.4h0M551.3,322.9h0M555.4,324h0M559,325.1h0M562.5,327.2h0M566,331h0M569.6,336h0M573.2,340.4h0M576.8,344.7h0M580.4,349.3h0M584,355h0M493.8,348.3h0M497.4,339.9h0M500.9,333h0M504.4,327.2h0M507.9,321.1h0M511.5,316.4h0M515,312.5h0M518.6,308.5h0M526.7,341.1h0M530.8,334.5h0M534.8,328.6h0M538.9,322.9h0M543,317.7h0M547.1,312.6h0M538.9,349.5h0M543,341.4h0M547.1,335.8h0M551.3,330.4h0M555.4,324.2h0M566,342.4h0M569.6,335.8h0M573.2,331.2h0M576.8,326.3h0M580.4,322.1h0M584,318.2h0M543,328.9h0M547.1,335.8h0M551.3,342.6h0M555.4,349.6h0M559,354.6h0M493.8,329.3h0M497.4,330.8h0M500.9,331.9h0M504.4,333.2h0M507.9,335.1h0M511.5,337.3h0M515,339.7h0M518.6,341.7h0M522.7,343.3h0M526.7,343.7h0M530.8,342.7h0M534.8,340.6h0M538.9,338.8h0M543,341.2h0M547.1,344.3h0M551.3,346.3h0M555.4,348h0M559,348.8h0M562.5,349.3h0M566,350h0M569.6,350.9h0M573.2,352.1h0M576.8,353.4h0M580.4,355.2h0M584,357.3h0M588.1,318.8h0M592.1,320h0M596.2,321.4h0M600.2,323.1h0M604.3,324.4h0M608,324.5h0M611.6,324.2h0M615.3,324.5h0M619,325.7h0M622.6,327.2h0M626.3,328.5h0M630.3,329.3h0M634.4,330.4h0M638.5,331.9h0M642.5,333.7h0M646.2,335.1h0M649.9,336.9h0M653.6,343.7h0M588.1,323.1h0M592.1,329.4h0M596.2,334.6h0M600.2,339.3h0M604.3,344.9h0M608,326.8h0M611.6,329.5h0M615.3,332.2h0M619,334.7h0M622.6,336.9h0M626.3,339h0M630.3,341.3h0M634.4,344h0M634.4,348.1h0M638.5,339.3h0M642.5,335h0M646.2,332.9h0M649.9,330.7h0M653.6,329.1h0M657.3,328.3h0M661,328.1h0M664.7,328.3h0M668.8,329.1h0M673,330.5h0M677.1,332.1h0M681.2,333.5h0M657.3,321.4h0M661,325.1h0M664.7,328.7h0M668.8,333.1h0M673,338.4h0M677.1,344.8h0M681.2,352.2h0M630.3,335.4h0M634.4,329.4h0M638.5,328.1h0M642.5,326.1h0M646.2,323.2h0M649.9,320.4h0M653.6,318h0M493.8,327.8h0M497.4,328.5h0M500.9,329.1h0M504.4,329.6h0M507.9,330h0M511.5,330.1h0M515,330.2h0M518.6,330h0M522.7,329.4h0M526.7,328.6h0M530.8,327.8h0M534.8,327h0M538.9,326.3h0M543,325.4h0M547.1,324.6h0M551.3,324.2h0M555.4,324.3h0M559,325.2h0M562.5,326.6h0M566,328.2h0M569.6,333.6h0M543,324.8h0M547.1,328.7h0M551.3,334.2h0M555.4,340.4h0M559,344.9h0M562.5,348.4h0M566,350.7h0M569.6,352.3h0M515,350.3h0M518.6,345.3h0M522.7,340h0M526.7,334.4h0M530.8,329.8h0M534.8,326.1h0M538.9,322.7h0M551.3,323.6h0M555.4,324h0M559,324.7h0M562.5,325.8h0M566,327.8h0M569.6,331.4h0M573.2,335.8h0M576.8,340.7h0M580.4,345.5h0M584,350.6h0M490.3,334.9h0M493.8,335.6h0M497.4,337.9h0M500.9,340.7h0M504.4,342.6h0M507.9,342.9h0M511.5,341.5h0M515,339h0M518.6,336.7h0M522.7,335.5h0M526.7,336.3h0M530.8,338.3h0M534.8,340.3h0M538.9,341.3h0M543,341h0M584,341.3h0M615.3,342.9h0M619,342.6h0M646.2,341.9h0M649.9,342.5h0M490.3,337.1h0M493.8,340.7h0M497.4,345h0M500.9,346.9h0M504.4,345.3h0M507.9,341.7h0M511.5,338.9h0M515,338.8h0M518.6,340.4h0M522.7,341.8h0M526.7,341.2h0M530.8,340.4h0M534.8,341.8h0M538.9,344.7h0M543,345.7h0M547.1,342.6h0M562.5,342.9h0M566,345.9h0M569.6,345.6h0M573.2,343h0M588.1,341.5h0M604.3,344.4h0M608,346.7h0M611.6,345.3h0M630.3,343.6h0M634.4,345h0M638.5,343.3h0M642.5,341.4h0M646.2,341.4h0M649.9,342.3h0M653.6,342.1h0M673,346.5h0M677.1,346.6h0M490.3,338.2h0M493.8,341.7h0M497.4,345h0M500.9,344.8h0M504.4,342.1h0M507.9,340.6h0M511.5,342.3h0M515,345.1h0M518.6,345.2h0M522.7,341.2h0M526.7,337.6h0M530.8,339.4h0M534.8,344.3h0M538.9,346h0M543,343h0M547.1,340.5h0M551.3,342.3h0M555.4,344.9h0M559,343.7h0M573.2,344.1h0M576.8,346.7h0M580.4,344.9h0M592.1,342.9h0M596.2,344.3h0M611.6,343.9h0M615.3,347h0M619,345.5h0M630.3,341.5h0M634.4,344h0M638.5,342.6h0M649.9,343.3h0M653.6,346.9h0M657.3,346.1h0M673,343.7h0M677.1,343.3h0M490.3,342.9h0M493.8,339h0M497.4,340.3h0M500.9,344.7h0M504.4,347.3h0M507.9,346.4h0M511.5,345h0M515,345.9h0M518.6,347.9h0M522.7,346.6h0M526.7,341.2h0M530.8,338.6h0M534.8,342.9h0M538.9,349.1h0M543,349.7h0M547.1,345.4h0M551.3,343.2h0M555.4,344.5h0M559,344.8h0M573.2,348.2h0M576.8,351.3h0M580.4,348.5h0M584,342.9h0M596.2,345.5h0M600.2,344.8h0M604.3,344.1h0M608,346.6h0M611.6,349.5h0M615.3,348.2h0M619,342.8h0M630.3,346h0M634.4,348.9h0M638.5,346.7h0M642.5,344.6h0M646.2,345.6h0M649.9,346.4h0M653.6,343.9h0M664.7,345.2h0M668.8,350.7h0M673,349.4h0M677.1,343.8h0M490.3,346.2h0M493.8,347.5h0M497.4,350h0M500.9,350.6h0M504.4,348.4h0M507.9,345.2h0M511.5,344.3h0M515,347h0M518.6,351.1h0M522.7,352.4h0M526.7,348.4h0M530.8,343.7h0M534.8,343.8h0M538.9,348.8h0M543,352.7h0M547.1,350.9h0M551.3,345.9h0M555.4,343.7h0M559,346.1h0M562.5,349.8h0M566,351.3h0M569.6,349.5h0M573.2,346.6h0M576.8,345.8h0M580.4,347.4h0M584,349.4h0M588.1,349.1h0M592.1,346.8h0M596.2,346.1h0M600.2,348.5h0M604.3,350.9h0M608,349.9h0M611.6,346.4h0M615.3,344h0M619,345.5h0M622.6,349.8h0M626.3,352.7h0M630.3,350.6h0M634.4,345.3h0M638.5,343h0M642.5,346.4h0M646.2,351.2h0M649.9,352.7h0M653.6,349.6h0M657.3,345.2h0M661,344h0M664.7,346.7h0M668.8,350.4h0M673,350.6h0M677.1,347.6h0M490.3,350.2h0M493.8,345h0M497.4,343h0M500.9,345.5h0M504.4,349.6h0M507.9,351.3h0M511.5,350.1h0M515,348.5h0M518.6,348.5h0M522.7,349.3h0M526.7,347.8h0M530.8,344.8h0M534.8,345.1h0M538.9,349.9h0M543,354h0M547.1,351.8h0M551.3,345.6h0M555.4,342.8h0M559,345.6h0M562.5,349.8h0M566,351.6h0M569.6,350.3h0M573.2,348.4h0M576.8,348.2h0M580.4,348.9h0M584,348.2h0M588.1,345.5h0M592.1,344.9h0M596.2,349h0M600.2,353.5h0M604.3,352.7h0M608,347.5h0M611.6,343.1h0M615.3,343.7h0M619,348.2h0M622.6,351.6h0M626.3,351.3h0M630.3,348.7h0M634.4,347.8h0M638.5,348.6h0M642.5,347.9h0M646.2,345.7h0M649.9,345.1h0M653.6,348.3h0M657.3,352.7h0M661,353.6h0M664.7,349.3h0M668.8,343.6h0M673,343.3h0M677.1,348.4h0M490.3,355h0M493.8,354.8h0M497.4,353.3h0M500.9,351.6h0M504.4,350.5h0M507.9,350.3h0M511.5,350.7h0M515,351h0M518.6,350.6h0M522.7,349.4h0M526.7,348.4h0M530.8,348.9h0M534.8,351.2h0M538.9,354.2h0M543,356.1h0M547.1,355.5h0M551.3,352.4h0M555.4,348.7h0M559,346.5h0M562.5,346.3h0M566,348h0M569.6,350.7h0M573.2,353h0M576.8,354h0M580.4,353.7h0M584,352.6h0M588.1,351.6h0M592.1,351.5h0M596.2,351.9h0M600.2,351.9h0M604.3,350.8h0M608,349h0M611.6,347.6h0M615.3,347.5h0M619,349.2h0M622.6,352.2h0M626.3,355.1h0M630.3,356.5h0M634.4,355.1h0M638.5,351.8h0M642.5,348.4h0M646.2,346.9h0M649.9,347.3h0M653.6,349.2h0M657.3,351.3h0M661,352.6h0M664.7,352.7h0M668.8,352h0M673,351.7h0M677.1,352.2h0M490.3,355.2h0M493.8,351.5h0M497.4,349.9h0M500.9,351.3h0M504.4,353.9h0M507.9,355.2h0M511.5,354.3h0M515,352.9h0M518.6,352.8h0M522.7,354.1h0M526.7,354.5h0M530.8,352.6h0M534.8,350.5h0M538.9,351.6h0M543,355.5h0M547.1,357.6h0M551.3,354.8h0M555.4,350h0M559,348.5h0M562.5,351h0M566,355.5h0M569.6,358h0M573.2,356.5h0M576.8,352.4h0M580.4,349.7h0M584,350.4h0M588.1,353.6h0M592.1,355.6h0M596.2,354.5h0M600.2,352.7h0M604.3,352.8h0M608,354h0M611.6,354.1h0M615.3,352.6h0M619,350.9h0M622.6,351.6h0M626.3,354.6h0M630.3,357.2h0M634.4,355.6h0M638.5,351.1h0M642.5,348.5h0M646.2,350.8h0M649.9,355.4h0M653.6,358.1h0M657.3,356.5h0M661,352.2h0M664.7,349.3h0M668.8,350.7h0M673,354.4h0M677.1,356h0M490.3,351.4h0M493.8,351.7h0M497.4,352.9h0M500.9,354.7h0M504.4,356.5h0M507.9,357.7h0M511.5,358.1h0M515,357.4h0M518.6,355.9h0M522.7,353.8h0M526.7,352.1h0M530.8,351.4h0M534.8,352h0M538.9,353.7h0M543,355.8h0M547.1,357.5h0M551.3,358h0M555.4,357.3h0M559,355.7h0M562.5,353.9h0M566,352.3h0M569.6,351.5h0M573.2,351.6h0M576.8,352.8h0M580.4,354.5h0M584,356.3h0M588.1,357.7h0M592.1,357.9h0M596.2,356.9h0M600.2,355.1h0M604.3,353.1h0M608,351.8h0M611.6,351.5h0M615.3,352.2h0M619,353.8h0M622.6,355.6h0M626.3,357.2h0M630.3,357.9h0M634.4,357.5h0M638.5,355.9h0M642.5,353.9h0M646.2,352.3h0M649.9,351.6h0M653.6,351.8h0M657.3,353h0M661,354.8h0M664.7,356.5h0M668.8,357.7h0M673,357.7h0M677.1,356.5h0M490.3,359.3h0M497.4,359h0M500.9,356h0M504.4,354.8h0M507.9,356.2h0M511.5,357.9h0M515,357.9h0M518.6,356.1h0M522.7,355h0M526.7,357.2h0M534.8,360h0M538.9,355.7h0M543,352.4h0M547.1,354.2h0M551.3,359.3h0M559,359.5h0M562.5,355.6h0M566,353.6h0M569.6,354.9h0M573.2,357.6h0M576.8,358.8h0M580.4,357.6h0M584,356h0M588.1,356.5h0M592.1,358.8h0M596.2,359.2h0M600.2,356.2h0M604.3,353.1h0M608,354h0M611.6,358h0M622.6,356.9h0M626.3,353.1h0M630.3,353.4h0M634.4,357.3h0M638.5,360h0M642.5,358.8h0M646.2,356.4h0M649.9,355.6h0M653.6,357.2h0M657.3,358.4h0M661,357.3h0M664.7,354.9h0M668.8,354.4h0M673,357.7h0M490.3,359.6h0M500.9,358.2h0M504.4,357.3h0M507.9,358.9h0M511.5,360h0M515,358.2h0M518.6,355h0M522.7,354.4h0M526.7,358.7h0M538.9,357.7h0M543,356.5h0M547.1,358.5h0M551.3,359h0M555.4,356.3h0M559,354.8h0M562.5,356.9h0M576.8,356.9h0M580.4,355.3h0M584,357.1h0M588.1,359.1h0M592.1,357.8h0M596.2,355.8h0M600.2,357.6h0M611.6,359.7h0M615.3,355.4h0M619,354.6h0M622.6,357.2h0M626.3,359.4h0M630.3,358.6h0M634.4,356.8h0M638.5,358.5h0M649.9,358.3h0M653.6,354.3h0M657.3,354.3h0M661,357.8h0M668.8,359.3h0M673,357.5h0M677.1,359.1h0M490.3,356.4h0M493.8,356.9h0M497.4,359.9h0M515,358.4h0M518.6,355.9h0M522.7,356.6h0M543,359.7h0M547.1,357.1h0M551.3,357.5h0M576.8,359.4h0M580.4,359.2h0M584,359.5h0M611.6,359.2h0M615.3,357.8h0M619,358h0M642.5,357.1h0M646.2,356h0M649.9,357.9h0M668.8,359.1h0M673,356.1h0M677.1,356.8h0M490.3,359.1h0M493.8,359.3h0M538.9,358.9h0M543,356.2h0M547.1,357.1h0M573.2,359.9h0M576.8,359.9h0M622.6,359.2h0M626.3,356.4h0M630.3,356.6h0M634.4,360.1h0M490.3,329.9h0M493.8,325.8h0M497.4,321h0M500.9,318.1h0M504.4,318.3h0M507.9,320.5h0M511.5,322.9h0M515,324.1h0M518.6,324.3h0M522.7,324.7h0M526.7,326h0M530.8,327.2h0M534.8,325.9h0M538.9,321.8h0M490.3,335.4h0M493.8,329.5h0M497.4,322.4h0M500.9,320.3h0M504.4,325h0M507.9,332h0M511.5,335.3h0M515,332.3h0M518.6,326.1h0M522.7,322.3h0M526.7,325.4h0M530.8,330.7h0M534.8,332.1h0M538.9,328.8h0M490.3,332.5h0M493.8,336.7h0M497.4,337.5h0M500.9,333.8h0M504.4,331h0M507.9,334.2h0M511.5,340.7h0M515,343.5h0M518.6,339.7h0M522.7,333.7h0M526.7,334.1h0M530.8,338h0M534.8,337h0M538.9,331.3h0M490.3,335.6h0M493.8,333.7h0M497.4,336h0M500.9,342h0M504.4,348.5h0M507.9,351.5h0M511.5,348.8h0M515,342h0M518.6,334.9h0M522.7,331.6h0M526.7,334.9h0M530.8,341.3h0M534.8,345.5h0M538.9,345h0M490.3,346.5h0M493.8,349.2h0M497.4,350h0M500.9,348.1h0M504.4,344.2h0M507.9,340.1h0M511.5,337.8h0M515,338.6h0M518.6,342.3h0M522.7,347.9h0M526.7,351.7h0M530.8,351.1h0M534.8,346.2h0M538.9,340.1h0M490.3,347.8h0M493.8,343.7h0M497.4,341.4h0M500.9,341.6h0M504.4,343.8h0M507.9,346.9h0M511.5,349.8h0M515,351.3h0M518.6,351.2h0M522.7,349.7h0M526.7,347.8h0M530.8,346.6h0M534.8,346.5h0M538.9,346.9h0" fill="none" stroke="#3a3a92" stroke-width="1.8" stroke-linecap="round"/>
</g>
<path d="M489.8,278.6 V199.7 H681.2 V278.6 M489.8,281.0 V359.1 H681.2 V281.0" fill="none" stroke="#303030" stroke-width="1.3"/>
<line x1="486.9" y1="279.7" x2="492.7" y2="277.3" stroke="#303030" stroke-width="1"/>
<line x1="486.9" y1="282.1" x2="492.7" y2="279.7" stroke="#303030" stroke-width="1"/>
<line x1="678.3" y1="279.7" x2="684.1" y2="277.3" stroke="#303030" stroke-width="1"/>
<line x1="678.3" y1="282.1" x2="684.1" y2="279.7" stroke="#303030" stroke-width="1"/>
<line x1="489.8" y1="262" x2="493" y2="262" stroke="#303030" stroke-width="1.1"/>
<text x="486" y="265.5" font-size="10.1" text-anchor="end" font-weight="normal" fill="#000">3</text>
<text x="486" y="203.2" font-size="10.1" text-anchor="end" font-weight="normal" fill="#000">4</text>
<line x1="489.8" y1="231.1" x2="491.6" y2="231.1" stroke="#303030" stroke-width="1.1"/>
<line x1="489.8" y1="296" x2="493" y2="296" stroke="#303030" stroke-width="1.1"/>
<text x="486" y="299.5" font-size="10.1" text-anchor="end" font-weight="normal" fill="#000">0</text>
<text x="486" y="361.9" font-size="10.1" text-anchor="end" font-weight="normal" fill="#000">-1</text>
<line x1="489.8" y1="327.4" x2="491.6" y2="327.4" stroke="#303030" stroke-width="1.1"/>
<text x="490.4" y="370.7" font-size="10.2" text-anchor="middle" font-weight="normal" fill="#000">Γ</text>
<text x="504.2" y="370.7" font-size="10.2" text-anchor="middle" font-weight="normal" fill="#000">X</text>
<text x="518.6" y="370.7" font-size="10.2" text-anchor="middle" font-weight="normal" fill="#000">M</text>
<text x="539.3" y="370.7" font-size="10.2" text-anchor="middle" font-weight="normal" fill="#000">Γ</text>
<text x="555" y="370.7" font-size="10.2" text-anchor="middle" font-weight="normal" fill="#000">Z</text>
<text x="569.2" y="370.7" font-size="10.2" text-anchor="middle" font-weight="normal" fill="#000">R</text>
<text x="583.8" y="370.7" font-size="10.2" text-anchor="middle" font-weight="normal" fill="#000">A</text>
<text x="604.5" y="370.7" font-size="10.2" text-anchor="middle" font-weight="normal" fill="#000">Z</text>
<text x="626.4" y="370.7" font-size="10.2" text-anchor="middle" font-weight="normal" fill="#000">X</text>
<text x="643.2" y="370.7" font-size="10.2" text-anchor="middle" font-weight="normal" fill="#000">R</text>
<text x="664.5" y="370.7" font-size="10.2" text-anchor="middle" font-weight="normal" fill="#000">M</text>
<text x="680.9" y="370.7" font-size="10.2" text-anchor="middle" font-weight="normal" fill="#000">A</text>
<text x="474.5" y="278.7" font-size="12" text-anchor="middle" font-weight="normal" fill="#000" transform="rotate(-90 474.5 278.7)">KS orbital energy (eV)</text>
<circle cx="619.4" cy="264.4" r="1.6" fill="#3a3a92"/>
<text x="633.1" y="267.5" font-size="9.4" text-anchor="start" font-weight="normal" fill="#000">DFT</text>
<line x1="613.7" y1="277.3" x2="624.6" y2="277.3" stroke="#e46c2a" stroke-width="2.2"/>
<text x="632.4" y="280.5" font-size="9.5" text-anchor="start" font-weight="normal" fill="#000">N<tspan font-size="6.8" dy="-3.6">2</tspan><tspan dy="3.6">AMD</tspan></text>
</svg>
</body></html>
